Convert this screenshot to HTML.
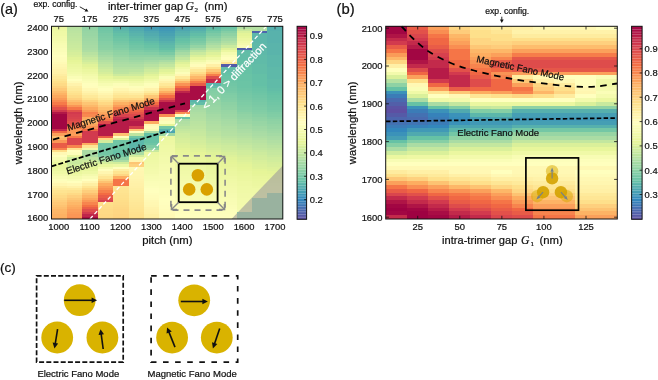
<!DOCTYPE html>
<html><head><meta charset="utf-8"><style>
html,body{margin:0;padding:0;background:#fff;width:658px;height:380px;overflow:hidden}
svg{display:block;filter:blur(0.4px)}
text{stroke:#111;stroke-width:0.22px}
text.w{stroke:#fff}
</style></head><body>
<svg width="658" height="380" viewBox="0 0 658 380" font-family="Liberation Sans, sans-serif">
<g shape-rendering="crispEdges">
<rect x="51.50" y="26.30" width="15.47" height="2.43" fill="#ecf7a1"/>
<rect x="66.92" y="26.30" width="15.47" height="2.43" fill="#b8e2a1"/>
<rect x="82.34" y="26.30" width="15.47" height="2.43" fill="#91d3a4"/>
<rect x="97.76" y="26.30" width="15.47" height="2.43" fill="#6ec5a5"/>
<rect x="113.18" y="26.30" width="15.47" height="2.43" fill="#58b2ac"/>
<rect x="128.60" y="26.30" width="15.47" height="2.43" fill="#4ea7b0"/>
<rect x="144.02" y="26.30" width="15.47" height="2.43" fill="#439bb5"/>
<rect x="159.44" y="26.30" width="15.47" height="2.43" fill="#3d95b8"/>
<rect x="174.86" y="26.30" width="15.47" height="2.43" fill="#49a2b2"/>
<rect x="190.28" y="26.30" width="15.47" height="2.43" fill="#50a9af"/>
<rect x="205.70" y="26.30" width="15.47" height="2.43" fill="#60bba8"/>
<rect x="221.12" y="26.30" width="15.47" height="2.43" fill="#6bc4a5"/>
<rect x="236.54" y="26.30" width="15.47" height="2.43" fill="#b3e0a2"/>
<rect x="251.96" y="26.30" width="15.47" height="2.43" fill="#b5e1a2"/>
<rect x="267.38" y="26.30" width="15.47" height="2.43" fill="#56b0ad"/>
<rect x="51.50" y="28.68" width="15.47" height="2.43" fill="#edf8a3"/>
<rect x="66.92" y="28.68" width="15.47" height="2.43" fill="#bae3a1"/>
<rect x="82.34" y="28.68" width="15.47" height="2.43" fill="#94d4a4"/>
<rect x="97.76" y="28.68" width="15.47" height="2.43" fill="#71c6a5"/>
<rect x="113.18" y="28.68" width="15.47" height="2.43" fill="#5cb7aa"/>
<rect x="128.60" y="28.68" width="15.47" height="2.43" fill="#52abae"/>
<rect x="144.02" y="28.68" width="15.47" height="2.43" fill="#47a0b3"/>
<rect x="159.44" y="28.68" width="15.47" height="2.43" fill="#4199b6"/>
<rect x="174.86" y="28.68" width="15.47" height="2.43" fill="#4ea7b0"/>
<rect x="190.28" y="28.68" width="15.47" height="2.43" fill="#56b0ad"/>
<rect x="205.70" y="28.68" width="15.47" height="2.43" fill="#66c2a5"/>
<rect x="221.12" y="28.68" width="15.47" height="2.43" fill="#76c8a5"/>
<rect x="236.54" y="28.68" width="15.47" height="2.43" fill="#c8e99e"/>
<rect x="251.96" y="28.68" width="15.47" height="2.43" fill="#b5e1a2"/>
<rect x="267.38" y="28.68" width="15.47" height="2.43" fill="#56b0ad"/>
<rect x="51.50" y="31.06" width="15.47" height="2.43" fill="#eff9a6"/>
<rect x="66.92" y="31.06" width="15.47" height="2.43" fill="#bce4a0"/>
<rect x="82.34" y="31.06" width="15.47" height="2.43" fill="#97d5a4"/>
<rect x="97.76" y="31.06" width="15.47" height="2.43" fill="#74c7a5"/>
<rect x="113.18" y="31.06" width="15.47" height="2.43" fill="#60bba8"/>
<rect x="128.60" y="31.06" width="15.47" height="2.43" fill="#56b0ad"/>
<rect x="144.02" y="31.06" width="15.47" height="2.43" fill="#4ea7b0"/>
<rect x="159.44" y="31.06" width="15.47" height="2.43" fill="#459eb4"/>
<rect x="174.86" y="31.06" width="15.47" height="2.43" fill="#54aead"/>
<rect x="190.28" y="31.06" width="15.47" height="2.43" fill="#5cb7aa"/>
<rect x="205.70" y="31.06" width="15.47" height="2.43" fill="#71c6a5"/>
<rect x="221.12" y="31.06" width="15.47" height="2.43" fill="#84cea5"/>
<rect x="236.54" y="31.06" width="15.47" height="2.43" fill="#daf09a"/>
<rect x="251.96" y="31.06" width="15.47" height="2.43" fill="#4d65ad"/>
<rect x="267.38" y="31.06" width="15.47" height="2.43" fill="#58b2ac"/>
<rect x="51.50" y="33.44" width="15.47" height="2.43" fill="#f0f9a7"/>
<rect x="66.92" y="33.44" width="15.47" height="2.43" fill="#bfe5a0"/>
<rect x="82.34" y="33.44" width="15.47" height="2.43" fill="#99d6a4"/>
<rect x="97.76" y="33.44" width="15.47" height="2.43" fill="#79c9a5"/>
<rect x="113.18" y="33.44" width="15.47" height="2.43" fill="#64c0a6"/>
<rect x="128.60" y="33.44" width="15.47" height="2.43" fill="#5ab4ab"/>
<rect x="144.02" y="33.44" width="15.47" height="2.43" fill="#52abae"/>
<rect x="159.44" y="33.44" width="15.47" height="2.43" fill="#49a2b2"/>
<rect x="174.86" y="33.44" width="15.47" height="2.43" fill="#58b2ac"/>
<rect x="190.28" y="33.44" width="15.47" height="2.43" fill="#62bda7"/>
<rect x="205.70" y="33.44" width="15.47" height="2.43" fill="#7ccaa5"/>
<rect x="221.12" y="33.44" width="15.47" height="2.43" fill="#8fd2a4"/>
<rect x="236.54" y="33.44" width="15.47" height="2.43" fill="#e4f498"/>
<rect x="251.96" y="33.44" width="15.47" height="2.43" fill="#5cb7aa"/>
<rect x="267.38" y="33.44" width="15.47" height="2.43" fill="#58b2ac"/>
<rect x="51.50" y="35.82" width="15.47" height="2.43" fill="#f2faaa"/>
<rect x="66.92" y="35.82" width="15.47" height="2.43" fill="#c1e6a0"/>
<rect x="82.34" y="35.82" width="15.47" height="2.43" fill="#9cd7a4"/>
<rect x="97.76" y="35.82" width="15.47" height="2.43" fill="#7ccaa5"/>
<rect x="113.18" y="35.82" width="15.47" height="2.43" fill="#69c3a5"/>
<rect x="128.60" y="35.82" width="15.47" height="2.43" fill="#5eb9a9"/>
<rect x="144.02" y="35.82" width="15.47" height="2.43" fill="#56b0ad"/>
<rect x="159.44" y="35.82" width="15.47" height="2.43" fill="#4ea7b0"/>
<rect x="174.86" y="35.82" width="15.47" height="2.43" fill="#5eb9a9"/>
<rect x="190.28" y="35.82" width="15.47" height="2.43" fill="#69c3a5"/>
<rect x="205.70" y="35.82" width="15.47" height="2.43" fill="#86cfa5"/>
<rect x="221.12" y="35.82" width="15.47" height="2.43" fill="#99d6a4"/>
<rect x="236.54" y="35.82" width="15.47" height="2.43" fill="#e8f69b"/>
<rect x="251.96" y="35.82" width="15.47" height="2.43" fill="#5cb7aa"/>
<rect x="267.38" y="35.82" width="15.47" height="2.43" fill="#58b2ac"/>
<rect x="51.50" y="38.20" width="15.47" height="2.43" fill="#f3faac"/>
<rect x="66.92" y="38.20" width="15.47" height="2.43" fill="#c3e79f"/>
<rect x="82.34" y="38.20" width="15.47" height="2.43" fill="#9fd8a4"/>
<rect x="97.76" y="38.20" width="15.47" height="2.43" fill="#7ecca5"/>
<rect x="113.18" y="38.20" width="15.47" height="2.43" fill="#6ec5a5"/>
<rect x="128.60" y="38.20" width="15.47" height="2.43" fill="#62bda7"/>
<rect x="144.02" y="38.20" width="15.47" height="2.43" fill="#5ab4ab"/>
<rect x="159.44" y="38.20" width="15.47" height="2.43" fill="#52abae"/>
<rect x="174.86" y="38.20" width="15.47" height="2.43" fill="#64c0a6"/>
<rect x="190.28" y="38.20" width="15.47" height="2.43" fill="#74c7a5"/>
<rect x="205.70" y="38.20" width="15.47" height="2.43" fill="#91d3a4"/>
<rect x="221.12" y="38.20" width="15.47" height="2.43" fill="#a4daa4"/>
<rect x="236.54" y="38.20" width="15.47" height="2.43" fill="#ecf7a1"/>
<rect x="251.96" y="38.20" width="15.47" height="2.43" fill="#5cb7aa"/>
<rect x="267.38" y="38.20" width="15.47" height="2.43" fill="#58b2ac"/>
<rect x="51.50" y="40.57" width="15.47" height="2.43" fill="#f5fbaf"/>
<rect x="66.92" y="40.57" width="15.47" height="2.43" fill="#c6e89f"/>
<rect x="82.34" y="40.57" width="15.47" height="2.43" fill="#a2d9a4"/>
<rect x="97.76" y="40.57" width="15.47" height="2.43" fill="#84cea5"/>
<rect x="113.18" y="40.57" width="15.47" height="2.43" fill="#74c7a5"/>
<rect x="128.60" y="40.57" width="15.47" height="2.43" fill="#66c2a5"/>
<rect x="144.02" y="40.57" width="15.47" height="2.43" fill="#60bba8"/>
<rect x="159.44" y="40.57" width="15.47" height="2.43" fill="#58b2ac"/>
<rect x="174.86" y="40.57" width="15.47" height="2.43" fill="#69c3a5"/>
<rect x="190.28" y="40.57" width="15.47" height="2.43" fill="#7ccaa5"/>
<rect x="205.70" y="40.57" width="15.47" height="2.43" fill="#9cd7a4"/>
<rect x="221.12" y="40.57" width="15.47" height="2.43" fill="#aedea3"/>
<rect x="236.54" y="40.57" width="15.47" height="2.43" fill="#f0f9a7"/>
<rect x="251.96" y="40.57" width="15.47" height="2.43" fill="#5cb7aa"/>
<rect x="267.38" y="40.57" width="15.47" height="2.43" fill="#58b2ac"/>
<rect x="51.50" y="42.95" width="15.47" height="2.43" fill="#f7fcb2"/>
<rect x="66.92" y="42.95" width="15.47" height="2.43" fill="#c8e99e"/>
<rect x="82.34" y="42.95" width="15.47" height="2.43" fill="#a4daa4"/>
<rect x="97.76" y="42.95" width="15.47" height="2.43" fill="#86cfa5"/>
<rect x="113.18" y="42.95" width="15.47" height="2.43" fill="#79c9a5"/>
<rect x="128.60" y="42.95" width="15.47" height="2.43" fill="#6bc4a5"/>
<rect x="144.02" y="42.95" width="15.47" height="2.43" fill="#64c0a6"/>
<rect x="159.44" y="42.95" width="15.47" height="2.43" fill="#5cb7aa"/>
<rect x="174.86" y="42.95" width="15.47" height="2.43" fill="#71c6a5"/>
<rect x="190.28" y="42.95" width="15.47" height="2.43" fill="#84cea5"/>
<rect x="205.70" y="42.95" width="15.47" height="2.43" fill="#a7dba4"/>
<rect x="221.12" y="42.95" width="15.47" height="2.43" fill="#b8e2a1"/>
<rect x="236.54" y="42.95" width="15.47" height="2.43" fill="#f4faad"/>
<rect x="251.96" y="42.95" width="15.47" height="2.43" fill="#5eb9a9"/>
<rect x="267.38" y="42.95" width="15.47" height="2.43" fill="#5ab4ab"/>
<rect x="51.50" y="45.33" width="15.47" height="2.43" fill="#f8fcb4"/>
<rect x="66.92" y="45.33" width="15.47" height="2.43" fill="#caea9e"/>
<rect x="82.34" y="45.33" width="15.47" height="2.43" fill="#a7dba4"/>
<rect x="97.76" y="45.33" width="15.47" height="2.43" fill="#89d0a4"/>
<rect x="113.18" y="45.33" width="15.47" height="2.43" fill="#7ecca5"/>
<rect x="128.60" y="45.33" width="15.47" height="2.43" fill="#71c6a5"/>
<rect x="144.02" y="45.33" width="15.47" height="2.43" fill="#69c3a5"/>
<rect x="159.44" y="45.33" width="15.47" height="2.43" fill="#60bba8"/>
<rect x="174.86" y="45.33" width="15.47" height="2.43" fill="#7ccaa5"/>
<rect x="190.28" y="45.33" width="15.47" height="2.43" fill="#94d4a4"/>
<rect x="205.70" y="45.33" width="15.47" height="2.43" fill="#b3e0a2"/>
<rect x="221.12" y="45.33" width="15.47" height="2.43" fill="#caea9e"/>
<rect x="236.54" y="45.33" width="15.47" height="2.43" fill="#f8fcb4"/>
<rect x="251.96" y="45.33" width="15.47" height="2.43" fill="#5eb9a9"/>
<rect x="267.38" y="45.33" width="15.47" height="2.43" fill="#5ab4ab"/>
<rect x="51.50" y="47.71" width="15.47" height="2.43" fill="#fafdb7"/>
<rect x="66.92" y="47.71" width="15.47" height="2.43" fill="#cdeb9d"/>
<rect x="82.34" y="47.71" width="15.47" height="2.43" fill="#aadca4"/>
<rect x="97.76" y="47.71" width="15.47" height="2.43" fill="#8cd1a4"/>
<rect x="113.18" y="47.71" width="15.47" height="2.43" fill="#84cea5"/>
<rect x="128.60" y="47.71" width="15.47" height="2.43" fill="#76c8a5"/>
<rect x="144.02" y="47.71" width="15.47" height="2.43" fill="#71c6a5"/>
<rect x="159.44" y="47.71" width="15.47" height="2.43" fill="#64c0a6"/>
<rect x="174.86" y="47.71" width="15.47" height="2.43" fill="#89d0a4"/>
<rect x="190.28" y="47.71" width="15.47" height="2.43" fill="#a7dba4"/>
<rect x="205.70" y="47.71" width="15.47" height="2.43" fill="#c1e6a0"/>
<rect x="221.12" y="47.71" width="15.47" height="2.43" fill="#dff299"/>
<rect x="236.54" y="47.71" width="15.47" height="2.43" fill="#525fa9"/>
<rect x="251.96" y="47.71" width="15.47" height="2.43" fill="#5eb9a9"/>
<rect x="267.38" y="47.71" width="15.47" height="2.43" fill="#5ab4ab"/>
<rect x="51.50" y="50.09" width="15.47" height="2.43" fill="#fbfdb8"/>
<rect x="66.92" y="50.09" width="15.47" height="2.43" fill="#d1ed9c"/>
<rect x="82.34" y="50.09" width="15.47" height="2.43" fill="#aedea3"/>
<rect x="97.76" y="50.09" width="15.47" height="2.43" fill="#94d4a4"/>
<rect x="113.18" y="50.09" width="15.47" height="2.43" fill="#8cd1a4"/>
<rect x="128.60" y="50.09" width="15.47" height="2.43" fill="#7ecca5"/>
<rect x="144.02" y="50.09" width="15.47" height="2.43" fill="#79c9a5"/>
<rect x="159.44" y="50.09" width="15.47" height="2.43" fill="#6ec5a5"/>
<rect x="174.86" y="50.09" width="15.47" height="2.43" fill="#99d6a4"/>
<rect x="190.28" y="50.09" width="15.47" height="2.43" fill="#bae3a1"/>
<rect x="205.70" y="50.09" width="15.47" height="2.43" fill="#cfec9d"/>
<rect x="221.12" y="50.09" width="15.47" height="2.43" fill="#ecf7a1"/>
<rect x="236.54" y="50.09" width="15.47" height="2.43" fill="#60bba8"/>
<rect x="251.96" y="50.09" width="15.47" height="2.43" fill="#5eb9a9"/>
<rect x="267.38" y="50.09" width="15.47" height="2.43" fill="#5ab4ab"/>
<rect x="51.50" y="52.47" width="15.47" height="2.43" fill="#fdfebb"/>
<rect x="66.92" y="52.47" width="15.47" height="2.43" fill="#d6ee9b"/>
<rect x="82.34" y="52.47" width="15.47" height="2.43" fill="#b8e2a1"/>
<rect x="97.76" y="52.47" width="15.47" height="2.43" fill="#9cd7a4"/>
<rect x="113.18" y="52.47" width="15.47" height="2.43" fill="#91d3a4"/>
<rect x="128.60" y="52.47" width="15.47" height="2.43" fill="#86cfa5"/>
<rect x="144.02" y="52.47" width="15.47" height="2.43" fill="#84cea5"/>
<rect x="159.44" y="52.47" width="15.47" height="2.43" fill="#7ccaa5"/>
<rect x="174.86" y="52.47" width="15.47" height="2.43" fill="#a7dba4"/>
<rect x="190.28" y="52.47" width="15.47" height="2.43" fill="#caea9e"/>
<rect x="205.70" y="52.47" width="15.47" height="2.43" fill="#ddf19a"/>
<rect x="221.12" y="52.47" width="15.47" height="2.43" fill="#f5fbaf"/>
<rect x="236.54" y="52.47" width="15.47" height="2.43" fill="#62bda7"/>
<rect x="251.96" y="52.47" width="15.47" height="2.43" fill="#5eb9a9"/>
<rect x="267.38" y="52.47" width="15.47" height="2.43" fill="#5ab4ab"/>
<rect x="51.50" y="54.85" width="15.47" height="2.43" fill="#ffffbe"/>
<rect x="66.92" y="54.85" width="15.47" height="2.43" fill="#daf09a"/>
<rect x="82.34" y="54.85" width="15.47" height="2.43" fill="#bfe5a0"/>
<rect x="97.76" y="54.85" width="15.47" height="2.43" fill="#a4daa4"/>
<rect x="113.18" y="54.85" width="15.47" height="2.43" fill="#97d5a4"/>
<rect x="128.60" y="54.85" width="15.47" height="2.43" fill="#8fd2a4"/>
<rect x="144.02" y="54.85" width="15.47" height="2.43" fill="#8fd2a4"/>
<rect x="159.44" y="54.85" width="15.47" height="2.43" fill="#8cd1a4"/>
<rect x="174.86" y="54.85" width="15.47" height="2.43" fill="#b5e1a2"/>
<rect x="190.28" y="54.85" width="15.47" height="2.43" fill="#daf09a"/>
<rect x="205.70" y="54.85" width="15.47" height="2.43" fill="#e7f59a"/>
<rect x="221.12" y="54.85" width="15.47" height="2.43" fill="#fbfdb8"/>
<rect x="236.54" y="54.85" width="15.47" height="2.43" fill="#62bda7"/>
<rect x="251.96" y="54.85" width="15.47" height="2.43" fill="#60bba8"/>
<rect x="267.38" y="54.85" width="15.47" height="2.43" fill="#5cb7aa"/>
<rect x="51.50" y="57.23" width="15.47" height="2.43" fill="#fffdbc"/>
<rect x="66.92" y="57.23" width="15.47" height="2.43" fill="#e1f399"/>
<rect x="82.34" y="57.23" width="15.47" height="2.43" fill="#c8e99e"/>
<rect x="97.76" y="57.23" width="15.47" height="2.43" fill="#acdda4"/>
<rect x="113.18" y="57.23" width="15.47" height="2.43" fill="#9fd8a4"/>
<rect x="128.60" y="57.23" width="15.47" height="2.43" fill="#97d5a4"/>
<rect x="144.02" y="57.23" width="15.47" height="2.43" fill="#99d6a4"/>
<rect x="159.44" y="57.23" width="15.47" height="2.43" fill="#99d6a4"/>
<rect x="174.86" y="57.23" width="15.47" height="2.43" fill="#c3e79f"/>
<rect x="190.28" y="57.23" width="15.47" height="2.43" fill="#e9f69d"/>
<rect x="205.70" y="57.23" width="15.47" height="2.43" fill="#eff9a6"/>
<rect x="221.12" y="57.23" width="15.47" height="2.43" fill="#fffebe"/>
<rect x="236.54" y="57.23" width="15.47" height="2.43" fill="#62bda7"/>
<rect x="251.96" y="57.23" width="15.47" height="2.43" fill="#60bba8"/>
<rect x="267.38" y="57.23" width="15.47" height="2.43" fill="#5cb7aa"/>
<rect x="51.50" y="59.61" width="15.47" height="2.43" fill="#fffcba"/>
<rect x="66.92" y="59.61" width="15.47" height="2.43" fill="#e6f598"/>
<rect x="82.34" y="59.61" width="15.47" height="2.43" fill="#cfec9d"/>
<rect x="97.76" y="59.61" width="15.47" height="2.43" fill="#b3e0a2"/>
<rect x="113.18" y="59.61" width="15.47" height="2.43" fill="#a4daa4"/>
<rect x="128.60" y="59.61" width="15.47" height="2.43" fill="#9fd8a4"/>
<rect x="144.02" y="59.61" width="15.47" height="2.43" fill="#a4daa4"/>
<rect x="159.44" y="59.61" width="15.47" height="2.43" fill="#aadca4"/>
<rect x="174.86" y="59.61" width="15.47" height="2.43" fill="#d1ed9c"/>
<rect x="190.28" y="59.61" width="15.47" height="2.43" fill="#f1f9a9"/>
<rect x="205.70" y="59.61" width="15.47" height="2.43" fill="#f9fcb5"/>
<rect x="221.12" y="59.61" width="15.47" height="2.43" fill="#fff5ae"/>
<rect x="236.54" y="59.61" width="15.47" height="2.43" fill="#64c0a6"/>
<rect x="251.96" y="59.61" width="15.47" height="2.43" fill="#60bba8"/>
<rect x="267.38" y="59.61" width="15.47" height="2.43" fill="#5cb7aa"/>
<rect x="51.50" y="61.99" width="15.47" height="2.43" fill="#fffab6"/>
<rect x="66.92" y="61.99" width="15.47" height="2.43" fill="#e8f69b"/>
<rect x="82.34" y="61.99" width="15.47" height="2.43" fill="#d8ef9b"/>
<rect x="97.76" y="61.99" width="15.47" height="2.43" fill="#bae3a1"/>
<rect x="113.18" y="61.99" width="15.47" height="2.43" fill="#aadca4"/>
<rect x="128.60" y="61.99" width="15.47" height="2.43" fill="#a7dba4"/>
<rect x="144.02" y="61.99" width="15.47" height="2.43" fill="#aedea3"/>
<rect x="159.44" y="61.99" width="15.47" height="2.43" fill="#b8e2a1"/>
<rect x="174.86" y="61.99" width="15.47" height="2.43" fill="#dff299"/>
<rect x="190.28" y="61.99" width="15.47" height="2.43" fill="#f9fcb5"/>
<rect x="205.70" y="61.99" width="15.47" height="2.43" fill="#fffcba"/>
<rect x="221.12" y="61.99" width="15.47" height="2.43" fill="#fee491"/>
<rect x="236.54" y="61.99" width="15.47" height="2.43" fill="#64c0a6"/>
<rect x="251.96" y="61.99" width="15.47" height="2.43" fill="#60bba8"/>
<rect x="267.38" y="61.99" width="15.47" height="2.43" fill="#5cb7aa"/>
<rect x="51.50" y="64.36" width="15.47" height="2.43" fill="#fff7b2"/>
<rect x="66.92" y="64.36" width="15.47" height="2.43" fill="#ebf7a0"/>
<rect x="82.34" y="64.36" width="15.47" height="2.43" fill="#e1f399"/>
<rect x="97.76" y="64.36" width="15.47" height="2.43" fill="#c1e6a0"/>
<rect x="113.18" y="64.36" width="15.47" height="2.43" fill="#aedea3"/>
<rect x="128.60" y="64.36" width="15.47" height="2.43" fill="#aedea3"/>
<rect x="144.02" y="64.36" width="15.47" height="2.43" fill="#b8e2a1"/>
<rect x="159.44" y="64.36" width="15.47" height="2.43" fill="#c3e79f"/>
<rect x="174.86" y="64.36" width="15.47" height="2.43" fill="#e9f69d"/>
<rect x="190.28" y="64.36" width="15.47" height="2.43" fill="#fffcba"/>
<rect x="205.70" y="64.36" width="15.47" height="2.43" fill="#fff0a6"/>
<rect x="221.12" y="64.36" width="15.47" height="2.43" fill="#555aa7"/>
<rect x="236.54" y="64.36" width="15.47" height="2.43" fill="#64c0a6"/>
<rect x="251.96" y="64.36" width="15.47" height="2.43" fill="#62bda7"/>
<rect x="267.38" y="64.36" width="15.47" height="2.43" fill="#5cb7aa"/>
<rect x="51.50" y="66.74" width="15.47" height="2.43" fill="#fff5ae"/>
<rect x="66.92" y="66.74" width="15.47" height="2.43" fill="#edf8a3"/>
<rect x="82.34" y="66.74" width="15.47" height="2.43" fill="#e7f59a"/>
<rect x="97.76" y="66.74" width="15.47" height="2.43" fill="#c8e99e"/>
<rect x="113.18" y="66.74" width="15.47" height="2.43" fill="#b5e1a2"/>
<rect x="128.60" y="66.74" width="15.47" height="2.43" fill="#b5e1a2"/>
<rect x="144.02" y="66.74" width="15.47" height="2.43" fill="#c3e79f"/>
<rect x="159.44" y="66.74" width="15.47" height="2.43" fill="#d1ed9c"/>
<rect x="174.86" y="66.74" width="15.47" height="2.43" fill="#f0f9a7"/>
<rect x="190.28" y="66.74" width="15.47" height="2.43" fill="#fff2aa"/>
<rect x="205.70" y="66.74" width="15.47" height="2.43" fill="#fee18d"/>
<rect x="221.12" y="66.74" width="15.47" height="2.43" fill="#62bda7"/>
<rect x="236.54" y="66.74" width="15.47" height="2.43" fill="#66c2a5"/>
<rect x="251.96" y="66.74" width="15.47" height="2.43" fill="#62bda7"/>
<rect x="267.38" y="66.74" width="15.47" height="2.43" fill="#5eb9a9"/>
<rect x="51.50" y="69.12" width="15.47" height="2.43" fill="#fff2aa"/>
<rect x="66.92" y="69.12" width="15.47" height="2.43" fill="#eff9a6"/>
<rect x="82.34" y="69.12" width="15.47" height="2.43" fill="#ebf7a0"/>
<rect x="97.76" y="69.12" width="15.47" height="2.43" fill="#cfec9d"/>
<rect x="113.18" y="69.12" width="15.47" height="2.43" fill="#bae3a1"/>
<rect x="128.60" y="69.12" width="15.47" height="2.43" fill="#bce4a0"/>
<rect x="144.02" y="69.12" width="15.47" height="2.43" fill="#cdeb9d"/>
<rect x="159.44" y="69.12" width="15.47" height="2.43" fill="#dff299"/>
<rect x="174.86" y="69.12" width="15.47" height="2.43" fill="#f6fbb0"/>
<rect x="190.28" y="69.12" width="15.47" height="2.43" fill="#fee999"/>
<rect x="205.70" y="69.12" width="15.47" height="2.43" fill="#fec877"/>
<rect x="221.12" y="69.12" width="15.47" height="2.43" fill="#62bda7"/>
<rect x="236.54" y="69.12" width="15.47" height="2.43" fill="#66c2a5"/>
<rect x="251.96" y="69.12" width="15.47" height="2.43" fill="#62bda7"/>
<rect x="267.38" y="69.12" width="15.47" height="2.43" fill="#5eb9a9"/>
<rect x="51.50" y="71.50" width="15.47" height="2.43" fill="#fff1a8"/>
<rect x="66.92" y="71.50" width="15.47" height="2.43" fill="#f2faaa"/>
<rect x="82.34" y="71.50" width="15.47" height="2.43" fill="#eef8a4"/>
<rect x="97.76" y="71.50" width="15.47" height="2.43" fill="#d6ee9b"/>
<rect x="113.18" y="71.50" width="15.47" height="2.43" fill="#bfe5a0"/>
<rect x="128.60" y="71.50" width="15.47" height="2.43" fill="#c6e89f"/>
<rect x="144.02" y="71.50" width="15.47" height="2.43" fill="#d6ee9b"/>
<rect x="159.44" y="71.50" width="15.47" height="2.43" fill="#e8f69b"/>
<rect x="174.86" y="71.50" width="15.47" height="2.43" fill="#fcfeba"/>
<rect x="190.28" y="71.50" width="15.47" height="2.43" fill="#fede89"/>
<rect x="205.70" y="71.50" width="15.47" height="2.43" fill="#fdad60"/>
<rect x="221.12" y="71.50" width="15.47" height="2.43" fill="#64c0a6"/>
<rect x="236.54" y="71.50" width="15.47" height="2.43" fill="#66c2a5"/>
<rect x="251.96" y="71.50" width="15.47" height="2.43" fill="#62bda7"/>
<rect x="267.38" y="71.50" width="15.47" height="2.43" fill="#5eb9a9"/>
<rect x="51.50" y="73.88" width="15.47" height="2.43" fill="#feeda1"/>
<rect x="66.92" y="73.88" width="15.47" height="2.43" fill="#f5fbaf"/>
<rect x="82.34" y="73.88" width="15.47" height="2.43" fill="#f2faaa"/>
<rect x="97.76" y="73.88" width="15.47" height="2.43" fill="#dff299"/>
<rect x="113.18" y="73.88" width="15.47" height="2.43" fill="#cdeb9d"/>
<rect x="128.60" y="73.88" width="15.47" height="2.43" fill="#cfec9d"/>
<rect x="144.02" y="73.88" width="15.47" height="2.43" fill="#e1f399"/>
<rect x="159.44" y="73.88" width="15.47" height="2.43" fill="#f0f9a7"/>
<rect x="174.86" y="73.88" width="15.47" height="2.43" fill="#fff7b2"/>
<rect x="190.28" y="73.88" width="15.47" height="2.43" fill="#fecc7b"/>
<rect x="205.70" y="73.88" width="15.47" height="2.43" fill="#f67f4b"/>
<rect x="221.12" y="73.88" width="15.47" height="2.43" fill="#66c2a5"/>
<rect x="236.54" y="73.88" width="15.47" height="2.43" fill="#69c3a5"/>
<rect x="251.96" y="73.88" width="15.47" height="2.43" fill="#64c0a6"/>
<rect x="267.38" y="73.88" width="15.47" height="2.43" fill="#5eb9a9"/>
<rect x="51.50" y="76.26" width="15.47" height="2.43" fill="#fee999"/>
<rect x="66.92" y="76.26" width="15.47" height="2.43" fill="#fafdb7"/>
<rect x="82.34" y="76.26" width="15.47" height="2.43" fill="#f5fbaf"/>
<rect x="97.76" y="76.26" width="15.47" height="2.43" fill="#e8f69b"/>
<rect x="113.18" y="76.26" width="15.47" height="2.43" fill="#dff299"/>
<rect x="128.60" y="76.26" width="15.47" height="2.43" fill="#dff299"/>
<rect x="144.02" y="76.26" width="15.47" height="2.43" fill="#eaf79e"/>
<rect x="159.44" y="76.26" width="15.47" height="2.43" fill="#fafdb7"/>
<rect x="174.86" y="76.26" width="15.47" height="2.43" fill="#fee999"/>
<rect x="190.28" y="76.26" width="15.47" height="2.43" fill="#fdb768"/>
<rect x="205.70" y="76.26" width="15.47" height="2.43" fill="#de4c4b"/>
<rect x="221.12" y="76.26" width="15.47" height="2.43" fill="#69c3a5"/>
<rect x="236.54" y="76.26" width="15.47" height="2.43" fill="#69c3a5"/>
<rect x="251.96" y="76.26" width="15.47" height="2.43" fill="#64c0a6"/>
<rect x="267.38" y="76.26" width="15.47" height="2.43" fill="#5eb9a9"/>
<rect x="51.50" y="78.64" width="15.47" height="2.43" fill="#fee593"/>
<rect x="66.92" y="78.64" width="15.47" height="2.43" fill="#ffffbe"/>
<rect x="82.34" y="78.64" width="15.47" height="2.43" fill="#f8fcb4"/>
<rect x="97.76" y="78.64" width="15.47" height="2.43" fill="#edf8a3"/>
<rect x="113.18" y="78.64" width="15.47" height="2.43" fill="#ebf7a0"/>
<rect x="128.60" y="78.64" width="15.47" height="2.43" fill="#e9f69d"/>
<rect x="144.02" y="78.64" width="15.47" height="2.43" fill="#f0f9a7"/>
<rect x="159.44" y="78.64" width="15.47" height="2.43" fill="#fff8b4"/>
<rect x="174.86" y="78.64" width="15.47" height="2.43" fill="#fed683"/>
<rect x="190.28" y="78.64" width="15.47" height="2.43" fill="#fba05b"/>
<rect x="205.70" y="78.64" width="15.47" height="2.43" fill="#c32a4b"/>
<rect x="221.12" y="78.64" width="15.47" height="2.43" fill="#6bc4a5"/>
<rect x="236.54" y="78.64" width="15.47" height="2.43" fill="#69c3a5"/>
<rect x="251.96" y="78.64" width="15.47" height="2.43" fill="#64c0a6"/>
<rect x="267.38" y="78.64" width="15.47" height="2.43" fill="#60bba8"/>
<rect x="51.50" y="81.02" width="15.47" height="2.43" fill="#fee08b"/>
<rect x="66.92" y="81.02" width="15.47" height="2.43" fill="#fffab6"/>
<rect x="82.34" y="81.02" width="15.47" height="2.43" fill="#fbfdb8"/>
<rect x="97.76" y="81.02" width="15.47" height="2.43" fill="#f2faaa"/>
<rect x="113.18" y="81.02" width="15.47" height="2.43" fill="#f3faac"/>
<rect x="128.60" y="81.02" width="15.47" height="2.43" fill="#f0f9a7"/>
<rect x="144.02" y="81.02" width="15.47" height="2.43" fill="#f6fbb0"/>
<rect x="159.44" y="81.02" width="15.47" height="2.43" fill="#fff1a8"/>
<rect x="174.86" y="81.02" width="15.47" height="2.43" fill="#fdb768"/>
<rect x="190.28" y="81.02" width="15.47" height="2.43" fill="#f67c4a"/>
<rect x="205.70" y="81.02" width="15.47" height="2.43" fill="#c32a4b"/>
<rect x="221.12" y="81.02" width="15.47" height="2.43" fill="#6ec5a5"/>
<rect x="236.54" y="81.02" width="15.47" height="2.43" fill="#6bc4a5"/>
<rect x="251.96" y="81.02" width="15.47" height="2.43" fill="#64c0a6"/>
<rect x="267.38" y="81.02" width="15.47" height="2.43" fill="#60bba8"/>
<rect x="51.50" y="83.40" width="15.47" height="2.43" fill="#feda86"/>
<rect x="66.92" y="83.40" width="15.47" height="2.43" fill="#fff3ac"/>
<rect x="82.34" y="83.40" width="15.47" height="2.43" fill="#fefebd"/>
<rect x="97.76" y="83.40" width="15.47" height="2.43" fill="#f7fcb2"/>
<rect x="113.18" y="83.40" width="15.47" height="2.43" fill="#fbfdb8"/>
<rect x="128.60" y="83.40" width="15.47" height="2.43" fill="#f6fbb0"/>
<rect x="144.02" y="83.40" width="15.47" height="2.43" fill="#fcfeba"/>
<rect x="159.44" y="83.40" width="15.47" height="2.43" fill="#fee999"/>
<rect x="174.86" y="83.40" width="15.47" height="2.43" fill="#f99355"/>
<rect x="190.28" y="83.40" width="15.47" height="2.43" fill="#e95c47"/>
<rect x="205.70" y="83.40" width="15.47" height="2.43" fill="#5ab4ab"/>
<rect x="221.12" y="83.40" width="15.47" height="2.43" fill="#71c6a5"/>
<rect x="236.54" y="83.40" width="15.47" height="2.43" fill="#6bc4a5"/>
<rect x="251.96" y="83.40" width="15.47" height="2.43" fill="#64c0a6"/>
<rect x="267.38" y="83.40" width="15.47" height="2.43" fill="#60bba8"/>
<rect x="51.50" y="85.78" width="15.47" height="2.43" fill="#fed27f"/>
<rect x="66.92" y="85.78" width="15.47" height="2.43" fill="#feeda1"/>
<rect x="82.34" y="85.78" width="15.47" height="2.43" fill="#fffdbc"/>
<rect x="97.76" y="85.78" width="15.47" height="2.43" fill="#fcfeba"/>
<rect x="113.18" y="85.78" width="15.47" height="2.43" fill="#fffcba"/>
<rect x="128.60" y="85.78" width="15.47" height="2.43" fill="#fdfebb"/>
<rect x="144.02" y="85.78" width="15.47" height="2.43" fill="#fffcba"/>
<rect x="159.44" y="85.78" width="15.47" height="2.43" fill="#fee08b"/>
<rect x="174.86" y="85.78" width="15.47" height="2.43" fill="#f46d43"/>
<rect x="190.28" y="85.78" width="15.47" height="2.43" fill="#a90d45"/>
<rect x="205.70" y="85.78" width="15.47" height="2.43" fill="#62bda7"/>
<rect x="221.12" y="85.78" width="15.47" height="2.43" fill="#74c7a5"/>
<rect x="236.54" y="85.78" width="15.47" height="2.43" fill="#6bc4a5"/>
<rect x="251.96" y="85.78" width="15.47" height="2.43" fill="#66c2a5"/>
<rect x="267.38" y="85.78" width="15.47" height="2.43" fill="#60bba8"/>
<rect x="51.50" y="88.15" width="15.47" height="2.43" fill="#fec877"/>
<rect x="66.92" y="88.15" width="15.47" height="2.43" fill="#feea9b"/>
<rect x="82.34" y="88.15" width="15.47" height="2.43" fill="#fff8b4"/>
<rect x="97.76" y="88.15" width="15.47" height="2.43" fill="#fffebe"/>
<rect x="113.18" y="88.15" width="15.47" height="2.43" fill="#fff6b0"/>
<rect x="128.60" y="88.15" width="15.47" height="2.43" fill="#fffbb8"/>
<rect x="144.02" y="88.15" width="15.47" height="2.43" fill="#fff3ac"/>
<rect x="159.44" y="88.15" width="15.47" height="2.43" fill="#fec877"/>
<rect x="174.86" y="88.15" width="15.47" height="2.43" fill="#e2514a"/>
<rect x="190.28" y="88.15" width="15.47" height="2.43" fill="#a90d45"/>
<rect x="205.70" y="88.15" width="15.47" height="2.43" fill="#81cda5"/>
<rect x="221.12" y="88.15" width="15.47" height="2.43" fill="#76c8a5"/>
<rect x="236.54" y="88.15" width="15.47" height="2.43" fill="#6ec5a5"/>
<rect x="251.96" y="88.15" width="15.47" height="2.43" fill="#69c3a5"/>
<rect x="267.38" y="88.15" width="15.47" height="2.43" fill="#62bda7"/>
<rect x="51.50" y="90.53" width="15.47" height="2.43" fill="#fdbd6d"/>
<rect x="66.92" y="90.53" width="15.47" height="2.43" fill="#fee593"/>
<rect x="82.34" y="90.53" width="15.47" height="2.43" fill="#fff3ac"/>
<rect x="97.76" y="90.53" width="15.47" height="2.43" fill="#fffab6"/>
<rect x="113.18" y="90.53" width="15.47" height="2.43" fill="#fff0a6"/>
<rect x="128.60" y="90.53" width="15.47" height="2.43" fill="#fff3ac"/>
<rect x="144.02" y="90.53" width="15.47" height="2.43" fill="#feeb9d"/>
<rect x="159.44" y="90.53" width="15.47" height="2.43" fill="#fdaf62"/>
<rect x="174.86" y="90.53" width="15.47" height="2.43" fill="#be254a"/>
<rect x="190.28" y="90.53" width="15.47" height="2.43" fill="#a90d45"/>
<rect x="205.70" y="90.53" width="15.47" height="2.43" fill="#84cea5"/>
<rect x="221.12" y="90.53" width="15.47" height="2.43" fill="#79c9a5"/>
<rect x="236.54" y="90.53" width="15.47" height="2.43" fill="#71c6a5"/>
<rect x="251.96" y="90.53" width="15.47" height="2.43" fill="#6bc4a5"/>
<rect x="267.38" y="90.53" width="15.47" height="2.43" fill="#64c0a6"/>
<rect x="51.50" y="92.91" width="15.47" height="2.43" fill="#fdb365"/>
<rect x="66.92" y="92.91" width="15.47" height="2.43" fill="#fee18d"/>
<rect x="82.34" y="92.91" width="15.47" height="2.43" fill="#feefa3"/>
<rect x="97.76" y="92.91" width="15.47" height="2.43" fill="#fff5ae"/>
<rect x="113.18" y="92.91" width="15.47" height="2.43" fill="#feea9b"/>
<rect x="128.60" y="92.91" width="15.47" height="2.43" fill="#feec9f"/>
<rect x="144.02" y="92.91" width="15.47" height="2.43" fill="#fede89"/>
<rect x="159.44" y="92.91" width="15.47" height="2.43" fill="#f99153"/>
<rect x="174.86" y="92.91" width="15.47" height="2.43" fill="#a90d45"/>
<rect x="190.28" y="92.91" width="15.47" height="2.43" fill="#a90d45"/>
<rect x="205.70" y="92.91" width="15.47" height="2.43" fill="#86cfa5"/>
<rect x="221.12" y="92.91" width="15.47" height="2.43" fill="#7ecca5"/>
<rect x="236.54" y="92.91" width="15.47" height="2.43" fill="#74c7a5"/>
<rect x="251.96" y="92.91" width="15.47" height="2.43" fill="#6ec5a5"/>
<rect x="267.38" y="92.91" width="15.47" height="2.43" fill="#66c2a5"/>
<rect x="51.50" y="95.29" width="15.47" height="2.43" fill="#fca85e"/>
<rect x="66.92" y="95.29" width="15.47" height="2.43" fill="#feda86"/>
<rect x="82.34" y="95.29" width="15.47" height="2.43" fill="#fee999"/>
<rect x="97.76" y="95.29" width="15.47" height="2.43" fill="#fff0a6"/>
<rect x="113.18" y="95.29" width="15.47" height="2.43" fill="#fee491"/>
<rect x="128.60" y="95.29" width="15.47" height="2.43" fill="#fee593"/>
<rect x="144.02" y="95.29" width="15.47" height="2.43" fill="#fdc776"/>
<rect x="159.44" y="95.29" width="15.47" height="2.43" fill="#f46d43"/>
<rect x="174.86" y="95.29" width="15.47" height="2.43" fill="#a90d45"/>
<rect x="190.28" y="95.29" width="15.47" height="2.43" fill="#a90d45"/>
<rect x="205.70" y="95.29" width="15.47" height="2.43" fill="#89d0a4"/>
<rect x="221.12" y="95.29" width="15.47" height="2.43" fill="#81cda5"/>
<rect x="236.54" y="95.29" width="15.47" height="2.43" fill="#76c8a5"/>
<rect x="251.96" y="95.29" width="15.47" height="2.43" fill="#71c6a5"/>
<rect x="267.38" y="95.29" width="15.47" height="2.43" fill="#69c3a5"/>
<rect x="51.50" y="97.67" width="15.47" height="2.43" fill="#fa9b58"/>
<rect x="66.92" y="97.67" width="15.47" height="2.43" fill="#fed07e"/>
<rect x="82.34" y="97.67" width="15.47" height="2.43" fill="#fee28f"/>
<rect x="97.76" y="97.67" width="15.47" height="2.43" fill="#feea9b"/>
<rect x="113.18" y="97.67" width="15.47" height="2.43" fill="#fed884"/>
<rect x="128.60" y="97.67" width="15.47" height="2.43" fill="#fed683"/>
<rect x="144.02" y="97.67" width="15.47" height="2.43" fill="#fdaf62"/>
<rect x="159.44" y="97.67" width="15.47" height="2.43" fill="#e2514a"/>
<rect x="174.86" y="97.67" width="15.47" height="2.43" fill="#a90d45"/>
<rect x="190.28" y="97.67" width="15.47" height="2.43" fill="#a90d45"/>
<rect x="205.70" y="97.67" width="15.47" height="2.43" fill="#8cd1a4"/>
<rect x="221.12" y="97.67" width="15.47" height="2.43" fill="#84cea5"/>
<rect x="236.54" y="97.67" width="15.47" height="2.43" fill="#79c9a5"/>
<rect x="251.96" y="97.67" width="15.47" height="2.43" fill="#74c7a5"/>
<rect x="267.38" y="97.67" width="15.47" height="2.43" fill="#6bc4a5"/>
<rect x="51.50" y="100.05" width="15.47" height="2.43" fill="#f88c51"/>
<rect x="66.92" y="100.05" width="15.47" height="2.43" fill="#fdc171"/>
<rect x="82.34" y="100.05" width="15.47" height="2.43" fill="#fed481"/>
<rect x="97.76" y="100.05" width="15.47" height="2.43" fill="#fee28f"/>
<rect x="113.18" y="100.05" width="15.47" height="2.43" fill="#fdc574"/>
<rect x="128.60" y="100.05" width="15.47" height="2.43" fill="#fdbf6f"/>
<rect x="144.02" y="100.05" width="15.47" height="2.43" fill="#f99153"/>
<rect x="159.44" y="100.05" width="15.47" height="2.43" fill="#c9314c"/>
<rect x="174.86" y="100.05" width="15.47" height="2.43" fill="#a90d45"/>
<rect x="190.28" y="100.05" width="15.47" height="2.43" fill="#5ab4ab"/>
<rect x="205.70" y="100.05" width="15.47" height="2.43" fill="#91d3a4"/>
<rect x="221.12" y="100.05" width="15.47" height="2.43" fill="#86cfa5"/>
<rect x="236.54" y="100.05" width="15.47" height="2.43" fill="#7ccaa5"/>
<rect x="251.96" y="100.05" width="15.47" height="2.43" fill="#76c8a5"/>
<rect x="267.38" y="100.05" width="15.47" height="2.43" fill="#6ec5a5"/>
<rect x="51.50" y="102.43" width="15.47" height="2.43" fill="#f67a49"/>
<rect x="66.92" y="102.43" width="15.47" height="2.43" fill="#fdb163"/>
<rect x="82.34" y="102.43" width="15.47" height="2.43" fill="#fdc574"/>
<rect x="97.76" y="102.43" width="15.47" height="2.43" fill="#fed884"/>
<rect x="113.18" y="102.43" width="15.47" height="2.43" fill="#fdb163"/>
<rect x="128.60" y="102.43" width="15.47" height="2.43" fill="#fba35c"/>
<rect x="144.02" y="102.43" width="15.47" height="2.43" fill="#f46d43"/>
<rect x="159.44" y="102.43" width="15.47" height="2.43" fill="#a90d45"/>
<rect x="174.86" y="102.43" width="15.47" height="2.43" fill="#a90d45"/>
<rect x="190.28" y="102.43" width="15.47" height="2.43" fill="#62bda7"/>
<rect x="205.70" y="102.43" width="15.47" height="2.43" fill="#94d4a4"/>
<rect x="221.12" y="102.43" width="15.47" height="2.43" fill="#8cd1a4"/>
<rect x="236.54" y="102.43" width="15.47" height="2.43" fill="#7ecca5"/>
<rect x="251.96" y="102.43" width="15.47" height="2.43" fill="#79c9a5"/>
<rect x="267.38" y="102.43" width="15.47" height="2.43" fill="#71c6a5"/>
<rect x="51.50" y="104.81" width="15.47" height="2.43" fill="#ee6445"/>
<rect x="66.92" y="104.81" width="15.47" height="2.43" fill="#fa9656"/>
<rect x="82.34" y="104.81" width="15.47" height="2.43" fill="#fdb96a"/>
<rect x="97.76" y="104.81" width="15.47" height="2.43" fill="#fecc7b"/>
<rect x="113.18" y="104.81" width="15.47" height="2.43" fill="#fb9d59"/>
<rect x="128.60" y="104.81" width="15.47" height="2.43" fill="#f98e52"/>
<rect x="144.02" y="104.81" width="15.47" height="2.43" fill="#e2514a"/>
<rect x="159.44" y="104.81" width="15.47" height="2.43" fill="#a90d45"/>
<rect x="174.86" y="104.81" width="15.47" height="2.43" fill="#a90d45"/>
<rect x="190.28" y="104.81" width="15.47" height="2.43" fill="#9cd7a4"/>
<rect x="205.70" y="104.81" width="15.47" height="2.43" fill="#97d5a4"/>
<rect x="221.12" y="104.81" width="15.47" height="2.43" fill="#8fd2a4"/>
<rect x="236.54" y="104.81" width="15.47" height="2.43" fill="#81cda5"/>
<rect x="251.96" y="104.81" width="15.47" height="2.43" fill="#7ccaa5"/>
<rect x="267.38" y="104.81" width="15.47" height="2.43" fill="#74c7a5"/>
<rect x="51.50" y="107.19" width="15.47" height="2.43" fill="#e1504b"/>
<rect x="66.92" y="107.19" width="15.47" height="2.43" fill="#f57748"/>
<rect x="82.34" y="107.19" width="15.47" height="2.43" fill="#fcaa5f"/>
<rect x="97.76" y="107.19" width="15.47" height="2.43" fill="#fdc171"/>
<rect x="113.18" y="107.19" width="15.47" height="2.43" fill="#f8864f"/>
<rect x="128.60" y="107.19" width="15.47" height="2.43" fill="#f57748"/>
<rect x="144.02" y="107.19" width="15.47" height="2.43" fill="#c9314c"/>
<rect x="159.44" y="107.19" width="15.47" height="2.43" fill="#a90d45"/>
<rect x="174.86" y="107.19" width="15.47" height="2.43" fill="#a90d45"/>
<rect x="190.28" y="107.19" width="15.47" height="2.43" fill="#a4daa4"/>
<rect x="205.70" y="107.19" width="15.47" height="2.43" fill="#99d6a4"/>
<rect x="221.12" y="107.19" width="15.47" height="2.43" fill="#91d3a4"/>
<rect x="236.54" y="107.19" width="15.47" height="2.43" fill="#84cea5"/>
<rect x="251.96" y="107.19" width="15.47" height="2.43" fill="#7ecca5"/>
<rect x="267.38" y="107.19" width="15.47" height="2.43" fill="#76c8a5"/>
<rect x="51.50" y="109.57" width="15.47" height="2.43" fill="#d0384e"/>
<rect x="66.92" y="109.57" width="15.47" height="2.43" fill="#e2514a"/>
<rect x="82.34" y="109.57" width="15.47" height="2.43" fill="#fa9b58"/>
<rect x="97.76" y="109.57" width="15.47" height="2.43" fill="#fdb567"/>
<rect x="113.18" y="109.57" width="15.47" height="2.43" fill="#f46d43"/>
<rect x="128.60" y="109.57" width="15.47" height="2.43" fill="#ee6445"/>
<rect x="144.02" y="109.57" width="15.47" height="2.43" fill="#a90d45"/>
<rect x="159.44" y="109.57" width="15.47" height="2.43" fill="#a90d45"/>
<rect x="174.86" y="109.57" width="15.47" height="2.43" fill="#d43d4f"/>
<rect x="190.28" y="109.57" width="15.47" height="2.43" fill="#aadca4"/>
<rect x="205.70" y="109.57" width="15.47" height="2.43" fill="#9cd7a4"/>
<rect x="221.12" y="109.57" width="15.47" height="2.43" fill="#97d5a4"/>
<rect x="236.54" y="109.57" width="15.47" height="2.43" fill="#86cfa5"/>
<rect x="251.96" y="109.57" width="15.47" height="2.43" fill="#81cda5"/>
<rect x="267.38" y="109.57" width="15.47" height="2.43" fill="#79c9a5"/>
<rect x="51.50" y="111.94" width="15.47" height="2.43" fill="#b11747"/>
<rect x="66.92" y="111.94" width="15.47" height="2.43" fill="#d23a4e"/>
<rect x="82.34" y="111.94" width="15.47" height="2.43" fill="#f7814c"/>
<rect x="97.76" y="111.94" width="15.47" height="2.43" fill="#fca85e"/>
<rect x="113.18" y="111.94" width="15.47" height="2.43" fill="#e75948"/>
<rect x="128.60" y="111.94" width="15.47" height="2.43" fill="#e55749"/>
<rect x="144.02" y="111.94" width="15.47" height="2.43" fill="#a90d45"/>
<rect x="159.44" y="111.94" width="15.47" height="2.43" fill="#a90d45"/>
<rect x="174.86" y="111.94" width="15.47" height="2.43" fill="#f98e52"/>
<rect x="190.28" y="111.94" width="15.47" height="2.43" fill="#aedea3"/>
<rect x="205.70" y="111.94" width="15.47" height="2.43" fill="#9fd8a4"/>
<rect x="221.12" y="111.94" width="15.47" height="2.43" fill="#99d6a4"/>
<rect x="236.54" y="111.94" width="15.47" height="2.43" fill="#8cd1a4"/>
<rect x="251.96" y="111.94" width="15.47" height="2.43" fill="#84cea5"/>
<rect x="267.38" y="111.94" width="15.47" height="2.43" fill="#7ecca5"/>
<rect x="51.50" y="114.32" width="15.47" height="2.43" fill="#a20643"/>
<rect x="66.92" y="114.32" width="15.47" height="2.43" fill="#d63f4f"/>
<rect x="82.34" y="114.32" width="15.47" height="2.43" fill="#f88950"/>
<rect x="97.76" y="114.32" width="15.47" height="2.43" fill="#fa9857"/>
<rect x="113.18" y="114.32" width="15.47" height="2.43" fill="#d8434e"/>
<rect x="128.60" y="114.32" width="15.47" height="2.43" fill="#dc484c"/>
<rect x="144.02" y="114.32" width="15.47" height="2.43" fill="#a90d45"/>
<rect x="159.44" y="114.32" width="15.47" height="2.43" fill="#f98e52"/>
<rect x="174.86" y="114.32" width="15.47" height="2.43" fill="#ffffbe"/>
<rect x="190.28" y="114.32" width="15.47" height="2.43" fill="#b1dfa3"/>
<rect x="205.70" y="114.32" width="15.47" height="2.43" fill="#a4daa4"/>
<rect x="221.12" y="114.32" width="15.47" height="2.43" fill="#9cd7a4"/>
<rect x="236.54" y="114.32" width="15.47" height="2.43" fill="#91d3a4"/>
<rect x="251.96" y="114.32" width="15.47" height="2.43" fill="#89d0a4"/>
<rect x="267.38" y="114.32" width="15.47" height="2.43" fill="#81cda5"/>
<rect x="51.50" y="116.70" width="15.47" height="2.43" fill="#a20643"/>
<rect x="66.92" y="116.70" width="15.47" height="2.43" fill="#d8434e"/>
<rect x="82.34" y="116.70" width="15.47" height="2.43" fill="#fcaa5f"/>
<rect x="97.76" y="116.70" width="15.47" height="2.43" fill="#f8864f"/>
<rect x="113.18" y="116.70" width="15.47" height="2.43" fill="#c32a4b"/>
<rect x="128.60" y="116.70" width="15.47" height="2.43" fill="#d23a4e"/>
<rect x="144.02" y="116.70" width="15.47" height="2.43" fill="#a90d45"/>
<rect x="159.44" y="116.70" width="15.47" height="2.43" fill="#fff8b4"/>
<rect x="174.86" y="116.70" width="15.47" height="2.43" fill="#66c2a5"/>
<rect x="190.28" y="116.70" width="15.47" height="2.43" fill="#b3e0a2"/>
<rect x="205.70" y="116.70" width="15.47" height="2.43" fill="#a7dba4"/>
<rect x="221.12" y="116.70" width="15.47" height="2.43" fill="#9fd8a4"/>
<rect x="236.54" y="116.70" width="15.47" height="2.43" fill="#94d4a4"/>
<rect x="251.96" y="116.70" width="15.47" height="2.43" fill="#8fd2a4"/>
<rect x="267.38" y="116.70" width="15.47" height="2.43" fill="#86cfa5"/>
<rect x="51.50" y="119.08" width="15.47" height="2.43" fill="#a20643"/>
<rect x="66.92" y="119.08" width="15.47" height="2.43" fill="#dc484c"/>
<rect x="82.34" y="119.08" width="15.47" height="2.43" fill="#fdb567"/>
<rect x="97.76" y="119.08" width="15.47" height="2.43" fill="#f57547"/>
<rect x="113.18" y="119.08" width="15.47" height="2.43" fill="#b61b48"/>
<rect x="128.60" y="119.08" width="15.47" height="2.43" fill="#c1274a"/>
<rect x="144.02" y="119.08" width="15.47" height="2.43" fill="#a90d45"/>
<rect x="159.44" y="119.08" width="15.47" height="2.43" fill="#fff8b4"/>
<rect x="174.86" y="119.08" width="15.47" height="2.43" fill="#aadca4"/>
<rect x="190.28" y="119.08" width="15.47" height="2.43" fill="#b5e1a2"/>
<rect x="205.70" y="119.08" width="15.47" height="2.43" fill="#aadca4"/>
<rect x="221.12" y="119.08" width="15.47" height="2.43" fill="#a4daa4"/>
<rect x="236.54" y="119.08" width="15.47" height="2.43" fill="#99d6a4"/>
<rect x="251.96" y="119.08" width="15.47" height="2.43" fill="#91d3a4"/>
<rect x="267.38" y="119.08" width="15.47" height="2.43" fill="#8cd1a4"/>
<rect x="51.50" y="121.46" width="15.47" height="2.43" fill="#a20643"/>
<rect x="66.92" y="121.46" width="15.47" height="2.43" fill="#e2514a"/>
<rect x="82.34" y="121.46" width="15.47" height="2.43" fill="#fdb163"/>
<rect x="97.76" y="121.46" width="15.47" height="2.43" fill="#de4c4b"/>
<rect x="113.18" y="121.46" width="15.47" height="2.43" fill="#b61b48"/>
<rect x="128.60" y="121.46" width="15.47" height="2.43" fill="#b61b48"/>
<rect x="144.02" y="121.46" width="15.47" height="2.43" fill="#fdad60"/>
<rect x="159.44" y="121.46" width="15.47" height="2.43" fill="#fcfeba"/>
<rect x="174.86" y="121.46" width="15.47" height="2.43" fill="#b1dfa3"/>
<rect x="190.28" y="121.46" width="15.47" height="2.43" fill="#bae3a1"/>
<rect x="205.70" y="121.46" width="15.47" height="2.43" fill="#aedea3"/>
<rect x="221.12" y="121.46" width="15.47" height="2.43" fill="#a7dba4"/>
<rect x="236.54" y="121.46" width="15.47" height="2.43" fill="#9cd7a4"/>
<rect x="251.96" y="121.46" width="15.47" height="2.43" fill="#97d5a4"/>
<rect x="267.38" y="121.46" width="15.47" height="2.43" fill="#8fd2a4"/>
<rect x="51.50" y="123.84" width="15.47" height="2.43" fill="#a20643"/>
<rect x="66.92" y="123.84" width="15.47" height="2.43" fill="#e95c47"/>
<rect x="82.34" y="123.84" width="15.47" height="2.43" fill="#fba35c"/>
<rect x="97.76" y="123.84" width="15.47" height="2.43" fill="#b61b48"/>
<rect x="113.18" y="123.84" width="15.47" height="2.43" fill="#b61b48"/>
<rect x="128.60" y="123.84" width="15.47" height="2.43" fill="#b61b48"/>
<rect x="144.02" y="123.84" width="15.47" height="2.43" fill="#fff8b4"/>
<rect x="159.44" y="123.84" width="15.47" height="2.43" fill="#e6f598"/>
<rect x="174.86" y="123.84" width="15.47" height="2.43" fill="#b5e1a2"/>
<rect x="190.28" y="123.84" width="15.47" height="2.43" fill="#bce4a0"/>
<rect x="205.70" y="123.84" width="15.47" height="2.43" fill="#b1dfa3"/>
<rect x="221.12" y="123.84" width="15.47" height="2.43" fill="#aadca4"/>
<rect x="236.54" y="123.84" width="15.47" height="2.43" fill="#a2d9a4"/>
<rect x="251.96" y="123.84" width="15.47" height="2.43" fill="#99d6a4"/>
<rect x="267.38" y="123.84" width="15.47" height="2.43" fill="#94d4a4"/>
<rect x="51.50" y="126.22" width="15.47" height="2.43" fill="#a20643"/>
<rect x="66.92" y="126.22" width="15.47" height="2.43" fill="#f67a49"/>
<rect x="82.34" y="126.22" width="15.47" height="2.43" fill="#f99153"/>
<rect x="97.76" y="126.22" width="15.47" height="2.43" fill="#b61b48"/>
<rect x="113.18" y="126.22" width="15.47" height="2.43" fill="#b61b48"/>
<rect x="128.60" y="126.22" width="15.47" height="2.43" fill="#d7414e"/>
<rect x="144.02" y="126.22" width="15.47" height="2.43" fill="#fffcba"/>
<rect x="159.44" y="126.22" width="15.47" height="2.43" fill="#74c7a5"/>
<rect x="174.86" y="126.22" width="15.47" height="2.43" fill="#bce4a0"/>
<rect x="190.28" y="126.22" width="15.47" height="2.43" fill="#bfe5a0"/>
<rect x="205.70" y="126.22" width="15.47" height="2.43" fill="#b3e0a2"/>
<rect x="221.12" y="126.22" width="15.47" height="2.43" fill="#aedea3"/>
<rect x="236.54" y="126.22" width="15.47" height="2.43" fill="#a4daa4"/>
<rect x="251.96" y="126.22" width="15.47" height="2.43" fill="#9fd8a4"/>
<rect x="267.38" y="126.22" width="15.47" height="2.43" fill="#97d5a4"/>
<rect x="51.50" y="128.60" width="15.47" height="2.43" fill="#c32a4b"/>
<rect x="66.92" y="128.60" width="15.47" height="2.43" fill="#fa9656"/>
<rect x="82.34" y="128.60" width="15.47" height="2.43" fill="#f06744"/>
<rect x="97.76" y="128.60" width="15.47" height="2.43" fill="#b61b48"/>
<rect x="113.18" y="128.60" width="15.47" height="2.43" fill="#b61b48"/>
<rect x="128.60" y="128.60" width="15.47" height="2.43" fill="#fdc372"/>
<rect x="144.02" y="128.60" width="15.47" height="2.43" fill="#f7fcb2"/>
<rect x="159.44" y="128.60" width="15.47" height="2.43" fill="#58b2ac"/>
<rect x="174.86" y="128.60" width="15.47" height="2.43" fill="#c3e79f"/>
<rect x="190.28" y="128.60" width="15.47" height="2.43" fill="#c3e79f"/>
<rect x="205.70" y="128.60" width="15.47" height="2.43" fill="#b5e1a2"/>
<rect x="221.12" y="128.60" width="15.47" height="2.43" fill="#b1dfa3"/>
<rect x="236.54" y="128.60" width="15.47" height="2.43" fill="#aadca4"/>
<rect x="251.96" y="128.60" width="15.47" height="2.43" fill="#a2d9a4"/>
<rect x="267.38" y="128.60" width="15.47" height="2.43" fill="#9cd7a4"/>
<rect x="51.50" y="130.98" width="15.47" height="2.43" fill="#f06744"/>
<rect x="66.92" y="130.98" width="15.47" height="2.43" fill="#fa9857"/>
<rect x="82.34" y="130.98" width="15.47" height="2.43" fill="#d23a4e"/>
<rect x="97.76" y="130.98" width="15.47" height="2.43" fill="#b61b48"/>
<rect x="113.18" y="130.98" width="15.47" height="2.43" fill="#b61b48"/>
<rect x="128.60" y="130.98" width="15.47" height="2.43" fill="#ffffbe"/>
<rect x="144.02" y="130.98" width="15.47" height="2.43" fill="#aadca4"/>
<rect x="159.44" y="130.98" width="15.47" height="2.43" fill="#4ba4b1"/>
<rect x="174.86" y="130.98" width="15.47" height="2.43" fill="#c8e99e"/>
<rect x="190.28" y="130.98" width="15.47" height="2.43" fill="#c6e89f"/>
<rect x="205.70" y="130.98" width="15.47" height="2.43" fill="#bae3a1"/>
<rect x="221.12" y="130.98" width="15.47" height="2.43" fill="#b3e0a2"/>
<rect x="236.54" y="130.98" width="15.47" height="2.43" fill="#acdda4"/>
<rect x="251.96" y="130.98" width="15.47" height="2.43" fill="#a7dba4"/>
<rect x="267.38" y="130.98" width="15.47" height="2.43" fill="#9fd8a4"/>
<rect x="51.50" y="133.36" width="15.47" height="2.43" fill="#fba05b"/>
<rect x="66.92" y="133.36" width="15.47" height="2.43" fill="#fb9d59"/>
<rect x="82.34" y="133.36" width="15.47" height="2.43" fill="#d23a4e"/>
<rect x="97.76" y="133.36" width="15.47" height="2.43" fill="#b61b48"/>
<rect x="113.18" y="133.36" width="15.47" height="2.43" fill="#fdc171"/>
<rect x="128.60" y="133.36" width="15.47" height="2.43" fill="#bfe5a0"/>
<rect x="144.02" y="133.36" width="15.47" height="2.43" fill="#66c2a5"/>
<rect x="159.44" y="133.36" width="15.47" height="2.43" fill="#9fd8a4"/>
<rect x="174.86" y="133.36" width="15.47" height="2.43" fill="#cfec9d"/>
<rect x="190.28" y="133.36" width="15.47" height="2.43" fill="#c8e99e"/>
<rect x="205.70" y="133.36" width="15.47" height="2.43" fill="#bce4a0"/>
<rect x="221.12" y="133.36" width="15.47" height="2.43" fill="#b5e1a2"/>
<rect x="236.54" y="133.36" width="15.47" height="2.43" fill="#b1dfa3"/>
<rect x="251.96" y="133.36" width="15.47" height="2.43" fill="#aadca4"/>
<rect x="267.38" y="133.36" width="15.47" height="2.43" fill="#a4daa4"/>
<rect x="51.50" y="135.73" width="15.47" height="2.43" fill="#fdc171"/>
<rect x="66.92" y="135.73" width="15.47" height="2.43" fill="#f67a49"/>
<rect x="82.34" y="135.73" width="15.47" height="2.43" fill="#d23a4e"/>
<rect x="97.76" y="135.73" width="15.47" height="2.43" fill="#e95c47"/>
<rect x="113.18" y="135.73" width="15.47" height="2.43" fill="#fffdbc"/>
<rect x="128.60" y="135.73" width="15.47" height="2.43" fill="#71c6a5"/>
<rect x="144.02" y="135.73" width="15.47" height="2.43" fill="#66c2a5"/>
<rect x="159.44" y="135.73" width="15.47" height="2.43" fill="#ecf7a1"/>
<rect x="174.86" y="135.73" width="15.47" height="2.43" fill="#d1ed9c"/>
<rect x="190.28" y="135.73" width="15.47" height="2.43" fill="#cdeb9d"/>
<rect x="205.70" y="135.73" width="15.47" height="2.43" fill="#c1e6a0"/>
<rect x="221.12" y="135.73" width="15.47" height="2.43" fill="#bae3a1"/>
<rect x="236.54" y="135.73" width="15.47" height="2.43" fill="#b5e1a2"/>
<rect x="251.96" y="135.73" width="15.47" height="2.43" fill="#aedea3"/>
<rect x="267.38" y="135.73" width="15.47" height="2.43" fill="#aadca4"/>
<rect x="51.50" y="138.11" width="15.47" height="2.43" fill="#fdb567"/>
<rect x="66.92" y="138.11" width="15.47" height="2.43" fill="#da464d"/>
<rect x="82.34" y="138.11" width="15.47" height="2.43" fill="#d23a4e"/>
<rect x="97.76" y="138.11" width="15.47" height="2.43" fill="#fed683"/>
<rect x="113.18" y="138.11" width="15.47" height="2.43" fill="#ddf19a"/>
<rect x="128.60" y="138.11" width="15.47" height="2.43" fill="#5cb7aa"/>
<rect x="144.02" y="138.11" width="15.47" height="2.43" fill="#66c2a5"/>
<rect x="159.44" y="138.11" width="15.47" height="2.43" fill="#ecf7a1"/>
<rect x="174.86" y="138.11" width="15.47" height="2.43" fill="#d6ee9b"/>
<rect x="190.28" y="138.11" width="15.47" height="2.43" fill="#cfec9d"/>
<rect x="205.70" y="138.11" width="15.47" height="2.43" fill="#c6e89f"/>
<rect x="221.12" y="138.11" width="15.47" height="2.43" fill="#bfe5a0"/>
<rect x="236.54" y="138.11" width="15.47" height="2.43" fill="#bae3a1"/>
<rect x="251.96" y="138.11" width="15.47" height="2.43" fill="#b3e0a2"/>
<rect x="267.38" y="138.11" width="15.47" height="2.43" fill="#acdda4"/>
<rect x="51.50" y="140.49" width="15.47" height="2.43" fill="#fa9656"/>
<rect x="66.92" y="140.49" width="15.47" height="2.43" fill="#da464d"/>
<rect x="82.34" y="140.49" width="15.47" height="2.43" fill="#d23a4e"/>
<rect x="97.76" y="140.49" width="15.47" height="2.43" fill="#d3ed9c"/>
<rect x="113.18" y="140.49" width="15.47" height="2.43" fill="#71c6a5"/>
<rect x="128.60" y="140.49" width="15.47" height="2.43" fill="#5cb7aa"/>
<rect x="144.02" y="140.49" width="15.47" height="2.43" fill="#66c2a5"/>
<rect x="159.44" y="140.49" width="15.47" height="2.43" fill="#edf8a3"/>
<rect x="174.86" y="140.49" width="15.47" height="2.43" fill="#d8ef9b"/>
<rect x="190.28" y="140.49" width="15.47" height="2.43" fill="#d3ed9c"/>
<rect x="205.70" y="140.49" width="15.47" height="2.43" fill="#c8e99e"/>
<rect x="221.12" y="140.49" width="15.47" height="2.43" fill="#c3e79f"/>
<rect x="236.54" y="140.49" width="15.47" height="2.43" fill="#bce4a0"/>
<rect x="251.96" y="140.49" width="15.47" height="2.43" fill="#b8e2a1"/>
<rect x="267.38" y="140.49" width="15.47" height="2.43" fill="#b1dfa3"/>
<rect x="51.50" y="142.87" width="15.47" height="2.43" fill="#e95c47"/>
<rect x="66.92" y="142.87" width="15.47" height="2.43" fill="#da464d"/>
<rect x="82.34" y="142.87" width="15.47" height="2.43" fill="#fdad60"/>
<rect x="97.76" y="142.87" width="15.47" height="2.43" fill="#74c7a5"/>
<rect x="113.18" y="142.87" width="15.47" height="2.43" fill="#71c6a5"/>
<rect x="128.60" y="142.87" width="15.47" height="2.43" fill="#5cb7aa"/>
<rect x="144.02" y="142.87" width="15.47" height="2.43" fill="#6ec5a5"/>
<rect x="159.44" y="142.87" width="15.47" height="2.43" fill="#eef8a4"/>
<rect x="174.86" y="142.87" width="15.47" height="2.43" fill="#ddf19a"/>
<rect x="190.28" y="142.87" width="15.47" height="2.43" fill="#d6ee9b"/>
<rect x="205.70" y="142.87" width="15.47" height="2.43" fill="#cdeb9d"/>
<rect x="221.12" y="142.87" width="15.47" height="2.43" fill="#c8e99e"/>
<rect x="236.54" y="142.87" width="15.47" height="2.43" fill="#c1e6a0"/>
<rect x="251.96" y="142.87" width="15.47" height="2.43" fill="#bce4a0"/>
<rect x="267.38" y="142.87" width="15.47" height="2.43" fill="#b5e1a2"/>
<rect x="51.50" y="145.25" width="15.47" height="2.43" fill="#e95c47"/>
<rect x="66.92" y="145.25" width="15.47" height="2.43" fill="#f7844e"/>
<rect x="82.34" y="145.25" width="15.47" height="2.43" fill="#fee593"/>
<rect x="97.76" y="145.25" width="15.47" height="2.43" fill="#74c7a5"/>
<rect x="113.18" y="145.25" width="15.47" height="2.43" fill="#6ec5a5"/>
<rect x="128.60" y="145.25" width="15.47" height="2.43" fill="#5cb7aa"/>
<rect x="144.02" y="145.25" width="15.47" height="2.43" fill="#7ecca5"/>
<rect x="159.44" y="145.25" width="15.47" height="2.43" fill="#eff9a6"/>
<rect x="174.86" y="145.25" width="15.47" height="2.43" fill="#dff299"/>
<rect x="190.28" y="145.25" width="15.47" height="2.43" fill="#daf09a"/>
<rect x="205.70" y="145.25" width="15.47" height="2.43" fill="#d1ed9c"/>
<rect x="221.12" y="145.25" width="15.47" height="2.43" fill="#cdeb9d"/>
<rect x="236.54" y="145.25" width="15.47" height="2.43" fill="#c6e89f"/>
<rect x="251.96" y="145.25" width="15.47" height="2.43" fill="#bfe5a0"/>
<rect x="267.38" y="145.25" width="15.47" height="2.43" fill="#bae3a1"/>
<rect x="51.50" y="147.63" width="15.47" height="2.43" fill="#f7814c"/>
<rect x="66.92" y="147.63" width="15.47" height="2.43" fill="#fee28f"/>
<rect x="82.34" y="147.63" width="15.47" height="2.43" fill="#f2faaa"/>
<rect x="97.76" y="147.63" width="15.47" height="2.43" fill="#74c7a5"/>
<rect x="113.18" y="147.63" width="15.47" height="2.43" fill="#6bc4a5"/>
<rect x="128.60" y="147.63" width="15.47" height="2.43" fill="#5cb7aa"/>
<rect x="144.02" y="147.63" width="15.47" height="2.43" fill="#8fd2a4"/>
<rect x="159.44" y="147.63" width="15.47" height="2.43" fill="#f0f9a7"/>
<rect x="174.86" y="147.63" width="15.47" height="2.43" fill="#e4f498"/>
<rect x="190.28" y="147.63" width="15.47" height="2.43" fill="#dff299"/>
<rect x="205.70" y="147.63" width="15.47" height="2.43" fill="#d6ee9b"/>
<rect x="221.12" y="147.63" width="15.47" height="2.43" fill="#cfec9d"/>
<rect x="236.54" y="147.63" width="15.47" height="2.43" fill="#caea9e"/>
<rect x="251.96" y="147.63" width="15.47" height="2.43" fill="#c3e79f"/>
<rect x="267.38" y="147.63" width="15.47" height="2.43" fill="#bfe5a0"/>
<rect x="51.50" y="150.01" width="15.47" height="2.43" fill="#fede89"/>
<rect x="66.92" y="150.01" width="15.47" height="2.43" fill="#ffffbe"/>
<rect x="82.34" y="150.01" width="15.47" height="2.43" fill="#aadca4"/>
<rect x="97.76" y="150.01" width="15.47" height="2.43" fill="#74c7a5"/>
<rect x="113.18" y="150.01" width="15.47" height="2.43" fill="#69c3a5"/>
<rect x="128.60" y="150.01" width="15.47" height="2.43" fill="#81cda5"/>
<rect x="144.02" y="150.01" width="15.47" height="2.43" fill="#c8e99e"/>
<rect x="159.44" y="150.01" width="15.47" height="2.43" fill="#f0f9a7"/>
<rect x="174.86" y="150.01" width="15.47" height="2.43" fill="#e7f59a"/>
<rect x="190.28" y="150.01" width="15.47" height="2.43" fill="#e1f399"/>
<rect x="205.70" y="150.01" width="15.47" height="2.43" fill="#daf09a"/>
<rect x="221.12" y="150.01" width="15.47" height="2.43" fill="#d3ed9c"/>
<rect x="236.54" y="150.01" width="15.47" height="2.43" fill="#cfec9d"/>
<rect x="251.96" y="150.01" width="15.47" height="2.43" fill="#c8e99e"/>
<rect x="267.38" y="150.01" width="15.47" height="2.43" fill="#c3e79f"/>
<rect x="51.50" y="152.39" width="15.47" height="2.43" fill="#fff8b4"/>
<rect x="66.92" y="152.39" width="15.47" height="2.43" fill="#fcfeba"/>
<rect x="82.34" y="152.39" width="15.47" height="2.43" fill="#aadca4"/>
<rect x="97.76" y="152.39" width="15.47" height="2.43" fill="#74c7a5"/>
<rect x="113.18" y="152.39" width="15.47" height="2.43" fill="#66c2a5"/>
<rect x="128.60" y="152.39" width="15.47" height="2.43" fill="#aadca4"/>
<rect x="144.02" y="152.39" width="15.47" height="2.43" fill="#ecf7a1"/>
<rect x="159.44" y="152.39" width="15.47" height="2.43" fill="#f1f9a9"/>
<rect x="174.86" y="152.39" width="15.47" height="2.43" fill="#e8f69b"/>
<rect x="190.28" y="152.39" width="15.47" height="2.43" fill="#e6f598"/>
<rect x="205.70" y="152.39" width="15.47" height="2.43" fill="#dff299"/>
<rect x="221.12" y="152.39" width="15.47" height="2.43" fill="#d8ef9b"/>
<rect x="236.54" y="152.39" width="15.47" height="2.43" fill="#d1ed9c"/>
<rect x="251.96" y="152.39" width="15.47" height="2.43" fill="#cdeb9d"/>
<rect x="267.38" y="152.39" width="15.47" height="2.43" fill="#c6e89f"/>
<rect x="51.50" y="154.77" width="15.47" height="2.43" fill="#fefebd"/>
<rect x="66.92" y="154.77" width="15.47" height="2.43" fill="#eaf79e"/>
<rect x="82.34" y="154.77" width="15.47" height="2.43" fill="#aadca4"/>
<rect x="97.76" y="154.77" width="15.47" height="2.43" fill="#81cda5"/>
<rect x="113.18" y="154.77" width="15.47" height="2.43" fill="#74c7a5"/>
<rect x="128.60" y="154.77" width="15.47" height="2.43" fill="#d3ed9c"/>
<rect x="144.02" y="154.77" width="15.47" height="2.43" fill="#edf8a3"/>
<rect x="159.44" y="154.77" width="15.47" height="2.43" fill="#f2faaa"/>
<rect x="174.86" y="154.77" width="15.47" height="2.43" fill="#eaf79e"/>
<rect x="190.28" y="154.77" width="15.47" height="2.43" fill="#e7f59a"/>
<rect x="205.70" y="154.77" width="15.47" height="2.43" fill="#e1f399"/>
<rect x="221.12" y="154.77" width="15.47" height="2.43" fill="#ddf19a"/>
<rect x="236.54" y="154.77" width="15.47" height="2.43" fill="#d6ee9b"/>
<rect x="251.96" y="154.77" width="15.47" height="2.43" fill="#d1ed9c"/>
<rect x="267.38" y="154.77" width="15.47" height="2.43" fill="#caea9e"/>
<rect x="51.50" y="157.15" width="15.47" height="2.43" fill="#f8fcb4"/>
<rect x="66.92" y="157.15" width="15.47" height="2.43" fill="#cdeb9d"/>
<rect x="82.34" y="157.15" width="15.47" height="2.43" fill="#bce4a0"/>
<rect x="97.76" y="157.15" width="15.47" height="2.43" fill="#a2d9a4"/>
<rect x="113.18" y="157.15" width="15.47" height="2.43" fill="#8fd2a4"/>
<rect x="128.60" y="157.15" width="15.47" height="2.43" fill="#f2faaa"/>
<rect x="144.02" y="157.15" width="15.47" height="2.43" fill="#eef8a4"/>
<rect x="159.44" y="157.15" width="15.47" height="2.43" fill="#f3faac"/>
<rect x="174.86" y="157.15" width="15.47" height="2.43" fill="#ebf7a0"/>
<rect x="190.28" y="157.15" width="15.47" height="2.43" fill="#e9f69d"/>
<rect x="205.70" y="157.15" width="15.47" height="2.43" fill="#e6f598"/>
<rect x="221.12" y="157.15" width="15.47" height="2.43" fill="#e1f399"/>
<rect x="236.54" y="157.15" width="15.47" height="2.43" fill="#daf09a"/>
<rect x="251.96" y="157.15" width="15.47" height="2.43" fill="#d3ed9c"/>
<rect x="267.38" y="157.15" width="15.47" height="2.43" fill="#cfec9d"/>
<rect x="51.50" y="159.52" width="15.47" height="2.43" fill="#f1f9a9"/>
<rect x="66.92" y="159.52" width="15.47" height="2.43" fill="#caea9e"/>
<rect x="82.34" y="159.52" width="15.47" height="2.43" fill="#cfec9d"/>
<rect x="97.76" y="159.52" width="15.47" height="2.43" fill="#bce4a0"/>
<rect x="113.18" y="159.52" width="15.47" height="2.43" fill="#aadca4"/>
<rect x="128.60" y="159.52" width="15.47" height="2.43" fill="#fff3ac"/>
<rect x="144.02" y="159.52" width="15.47" height="2.43" fill="#eff9a6"/>
<rect x="159.44" y="159.52" width="15.47" height="2.43" fill="#f3faac"/>
<rect x="174.86" y="159.52" width="15.47" height="2.43" fill="#ecf7a1"/>
<rect x="190.28" y="159.52" width="15.47" height="2.43" fill="#eaf79e"/>
<rect x="205.70" y="159.52" width="15.47" height="2.43" fill="#e7f59a"/>
<rect x="221.12" y="159.52" width="15.47" height="2.43" fill="#e4f498"/>
<rect x="236.54" y="159.52" width="15.47" height="2.43" fill="#ddf19a"/>
<rect x="251.96" y="159.52" width="15.47" height="2.43" fill="#d8ef9b"/>
<rect x="267.38" y="159.52" width="15.47" height="2.43" fill="#d1ed9c"/>
<rect x="51.50" y="161.90" width="15.47" height="2.43" fill="#eaf79e"/>
<rect x="66.92" y="161.90" width="15.47" height="2.43" fill="#c8e99e"/>
<rect x="82.34" y="161.90" width="15.47" height="2.43" fill="#d6ee9b"/>
<rect x="97.76" y="161.90" width="15.47" height="2.43" fill="#d6ee9b"/>
<rect x="113.18" y="161.90" width="15.47" height="2.43" fill="#d1ed9c"/>
<rect x="128.60" y="161.90" width="15.47" height="2.43" fill="#fdc574"/>
<rect x="144.02" y="161.90" width="15.47" height="2.43" fill="#f0f9a7"/>
<rect x="159.44" y="161.90" width="15.47" height="2.43" fill="#f4faad"/>
<rect x="174.86" y="161.90" width="15.47" height="2.43" fill="#edf8a3"/>
<rect x="190.28" y="161.90" width="15.47" height="2.43" fill="#ebf7a0"/>
<rect x="205.70" y="161.90" width="15.47" height="2.43" fill="#e8f69b"/>
<rect x="221.12" y="161.90" width="15.47" height="2.43" fill="#e6f598"/>
<rect x="236.54" y="161.90" width="15.47" height="2.43" fill="#e1f399"/>
<rect x="251.96" y="161.90" width="15.47" height="2.43" fill="#daf09a"/>
<rect x="267.38" y="161.90" width="15.47" height="2.43" fill="#d6ee9b"/>
<rect x="51.50" y="164.28" width="15.47" height="2.43" fill="#e7f59a"/>
<rect x="66.92" y="164.28" width="15.47" height="2.43" fill="#d1ed9c"/>
<rect x="82.34" y="164.28" width="15.47" height="2.43" fill="#ddf19a"/>
<rect x="97.76" y="164.28" width="15.47" height="2.43" fill="#eaf79e"/>
<rect x="113.18" y="164.28" width="15.47" height="2.43" fill="#edf8a3"/>
<rect x="128.60" y="164.28" width="15.47" height="2.43" fill="#fed07e"/>
<rect x="144.02" y="164.28" width="15.47" height="2.43" fill="#f1f9a9"/>
<rect x="159.44" y="164.28" width="15.47" height="2.43" fill="#f5fbaf"/>
<rect x="174.86" y="164.28" width="15.47" height="2.43" fill="#eef8a4"/>
<rect x="190.28" y="164.28" width="15.47" height="2.43" fill="#ecf7a1"/>
<rect x="205.70" y="164.28" width="15.47" height="2.43" fill="#e9f69d"/>
<rect x="221.12" y="164.28" width="15.47" height="2.43" fill="#e7f59a"/>
<rect x="236.54" y="164.28" width="15.47" height="2.43" fill="#e4f498"/>
<rect x="251.96" y="164.28" width="15.47" height="2.43" fill="#ddf19a"/>
<rect x="267.38" y="164.28" width="15.47" height="2.43" fill="#d8ef9b"/>
<rect x="51.50" y="166.66" width="15.47" height="2.43" fill="#e9f69d"/>
<rect x="66.92" y="166.66" width="15.47" height="2.43" fill="#d8ef9b"/>
<rect x="82.34" y="166.66" width="15.47" height="2.43" fill="#e6f598"/>
<rect x="97.76" y="166.66" width="15.47" height="2.43" fill="#f5fbaf"/>
<rect x="113.18" y="166.66" width="15.47" height="2.43" fill="#fefebd"/>
<rect x="128.60" y="166.66" width="15.47" height="2.43" fill="#fff8b4"/>
<rect x="144.02" y="166.66" width="15.47" height="2.43" fill="#f2faaa"/>
<rect x="159.44" y="166.66" width="15.47" height="2.43" fill="#f6fbb0"/>
<rect x="174.86" y="166.66" width="15.47" height="2.43" fill="#eff9a6"/>
<rect x="190.28" y="166.66" width="15.47" height="2.43" fill="#edf8a3"/>
<rect x="205.70" y="166.66" width="15.47" height="2.43" fill="#eaf79e"/>
<rect x="221.12" y="166.66" width="15.47" height="2.43" fill="#e9f69d"/>
<rect x="236.54" y="166.66" width="15.47" height="2.43" fill="#e6f598"/>
<rect x="251.96" y="166.66" width="15.47" height="2.43" fill="#dff299"/>
<rect x="267.38" y="166.66" width="15.47" height="2.43" fill="#ddf19a"/>
<rect x="51.50" y="169.04" width="15.47" height="2.43" fill="#ebf7a0"/>
<rect x="66.92" y="169.04" width="15.47" height="2.43" fill="#e1f399"/>
<rect x="82.34" y="169.04" width="15.47" height="2.43" fill="#e9f69d"/>
<rect x="97.76" y="169.04" width="15.47" height="2.43" fill="#fffebe"/>
<rect x="113.18" y="169.04" width="15.47" height="2.43" fill="#feefa3"/>
<rect x="128.60" y="169.04" width="15.47" height="2.43" fill="#fff7b2"/>
<rect x="144.02" y="169.04" width="15.47" height="2.43" fill="#f3faac"/>
<rect x="159.44" y="169.04" width="15.47" height="2.43" fill="#f6fbb0"/>
<rect x="174.86" y="169.04" width="15.47" height="2.43" fill="#f0f9a7"/>
<rect x="190.28" y="169.04" width="15.47" height="2.43" fill="#eef8a4"/>
<rect x="205.70" y="169.04" width="15.47" height="2.43" fill="#ebf7a0"/>
<rect x="221.12" y="169.04" width="15.47" height="2.43" fill="#eaf79e"/>
<rect x="236.54" y="169.04" width="15.47" height="2.43" fill="#e7f59a"/>
<rect x="251.96" y="169.04" width="15.47" height="2.43" fill="#e4f498"/>
<rect x="267.38" y="169.04" width="15.47" height="2.43" fill="#dff299"/>
<rect x="51.50" y="171.42" width="15.47" height="2.43" fill="#eff9a6"/>
<rect x="66.92" y="171.42" width="15.47" height="2.43" fill="#eaf79e"/>
<rect x="82.34" y="171.42" width="15.47" height="2.43" fill="#eef8a4"/>
<rect x="97.76" y="171.42" width="15.47" height="2.43" fill="#fff6b0"/>
<rect x="113.18" y="171.42" width="15.47" height="2.43" fill="#fee491"/>
<rect x="128.60" y="171.42" width="15.47" height="2.43" fill="#fff6b0"/>
<rect x="144.02" y="171.42" width="15.47" height="2.43" fill="#f4faad"/>
<rect x="159.44" y="171.42" width="15.47" height="2.43" fill="#f7fcb2"/>
<rect x="174.86" y="171.42" width="15.47" height="2.43" fill="#f1f9a9"/>
<rect x="190.28" y="171.42" width="15.47" height="2.43" fill="#eff9a6"/>
<rect x="205.70" y="171.42" width="15.47" height="2.43" fill="#ecf7a1"/>
<rect x="221.12" y="171.42" width="15.47" height="2.43" fill="#ebf7a0"/>
<rect x="236.54" y="171.42" width="15.47" height="2.43" fill="#e9f69d"/>
<rect x="251.96" y="171.42" width="15.47" height="2.43" fill="#e6f598"/>
<rect x="267.38" y="171.42" width="15.47" height="2.43" fill="#e4f498"/>
<rect x="51.50" y="173.80" width="15.47" height="2.43" fill="#f4faad"/>
<rect x="66.92" y="173.80" width="15.47" height="2.43" fill="#eff9a6"/>
<rect x="82.34" y="173.80" width="15.47" height="2.43" fill="#f4faad"/>
<rect x="97.76" y="173.80" width="15.47" height="2.43" fill="#feefa3"/>
<rect x="113.18" y="173.80" width="15.47" height="2.43" fill="#fed683"/>
<rect x="128.60" y="173.80" width="15.47" height="2.43" fill="#fff6b0"/>
<rect x="144.02" y="173.80" width="15.47" height="2.43" fill="#f6fbb0"/>
<rect x="159.44" y="173.80" width="15.47" height="2.43" fill="#f8fcb4"/>
<rect x="174.86" y="173.80" width="15.47" height="2.43" fill="#f2faaa"/>
<rect x="190.28" y="173.80" width="15.47" height="2.43" fill="#f0f9a7"/>
<rect x="205.70" y="173.80" width="15.47" height="2.43" fill="#edf8a3"/>
<rect x="221.12" y="173.80" width="15.47" height="2.43" fill="#ecf7a1"/>
<rect x="236.54" y="173.80" width="15.47" height="2.43" fill="#eaf79e"/>
<rect x="251.96" y="173.80" width="15.47" height="2.43" fill="#e7f59a"/>
<rect x="267.38" y="173.80" width="15.47" height="2.43" fill="#e7f59a"/>
<rect x="51.50" y="176.18" width="15.47" height="2.43" fill="#f8fcb4"/>
<rect x="66.92" y="176.18" width="15.47" height="2.43" fill="#f5fbaf"/>
<rect x="82.34" y="176.18" width="15.47" height="2.43" fill="#f9fcb5"/>
<rect x="97.76" y="176.18" width="15.47" height="2.43" fill="#fee695"/>
<rect x="113.18" y="176.18" width="15.47" height="2.43" fill="#fdad60"/>
<rect x="128.60" y="176.18" width="15.47" height="2.43" fill="#fff5ae"/>
<rect x="144.02" y="176.18" width="15.47" height="2.43" fill="#f7fcb2"/>
<rect x="159.44" y="176.18" width="15.47" height="2.43" fill="#f8fcb4"/>
<rect x="174.86" y="176.18" width="15.47" height="2.43" fill="#f3faac"/>
<rect x="190.28" y="176.18" width="15.47" height="2.43" fill="#f1f9a9"/>
<rect x="205.70" y="176.18" width="15.47" height="2.43" fill="#eef8a4"/>
<rect x="221.12" y="176.18" width="15.47" height="2.43" fill="#eef8a4"/>
<rect x="236.54" y="176.18" width="15.47" height="2.43" fill="#ebf7a0"/>
<rect x="251.96" y="176.18" width="15.47" height="2.43" fill="#e9f69d"/>
<rect x="267.38" y="176.18" width="15.47" height="2.43" fill="#e8f69b"/>
<rect x="51.50" y="178.56" width="15.47" height="2.43" fill="#fdfebb"/>
<rect x="66.92" y="178.56" width="15.47" height="2.43" fill="#fafdb7"/>
<rect x="82.34" y="178.56" width="15.47" height="2.43" fill="#ffffbe"/>
<rect x="97.76" y="178.56" width="15.47" height="2.43" fill="#fed683"/>
<rect x="113.18" y="178.56" width="15.47" height="2.43" fill="#f57547"/>
<rect x="128.60" y="178.56" width="15.47" height="2.43" fill="#fff3ac"/>
<rect x="144.02" y="178.56" width="15.47" height="2.43" fill="#f8fcb4"/>
<rect x="159.44" y="178.56" width="15.47" height="2.43" fill="#f9fcb5"/>
<rect x="174.86" y="178.56" width="15.47" height="2.43" fill="#f4faad"/>
<rect x="190.28" y="178.56" width="15.47" height="2.43" fill="#f2faaa"/>
<rect x="205.70" y="178.56" width="15.47" height="2.43" fill="#eff9a6"/>
<rect x="221.12" y="178.56" width="15.47" height="2.43" fill="#eff9a6"/>
<rect x="236.54" y="178.56" width="15.47" height="2.43" fill="#ecf7a1"/>
<rect x="251.96" y="178.56" width="15.47" height="2.43" fill="#eaf79e"/>
<rect x="267.38" y="178.56" width="15.47" height="2.43" fill="#eaf79e"/>
<rect x="51.50" y="180.94" width="15.47" height="2.43" fill="#fffcba"/>
<rect x="66.92" y="180.94" width="15.47" height="2.43" fill="#ffffbe"/>
<rect x="82.34" y="180.94" width="15.47" height="2.43" fill="#fff7b2"/>
<rect x="97.76" y="180.94" width="15.47" height="2.43" fill="#fdc372"/>
<rect x="113.18" y="180.94" width="15.47" height="2.43" fill="#f57547"/>
<rect x="128.60" y="180.94" width="15.47" height="2.43" fill="#fff2aa"/>
<rect x="144.02" y="180.94" width="15.47" height="2.43" fill="#fafdb7"/>
<rect x="159.44" y="180.94" width="15.47" height="2.43" fill="#fafdb7"/>
<rect x="174.86" y="180.94" width="15.47" height="2.43" fill="#f5fbaf"/>
<rect x="190.28" y="180.94" width="15.47" height="2.43" fill="#f3faac"/>
<rect x="205.70" y="180.94" width="15.47" height="2.43" fill="#f0f9a7"/>
<rect x="221.12" y="180.94" width="15.47" height="2.43" fill="#f0f9a7"/>
<rect x="236.54" y="180.94" width="15.47" height="2.43" fill="#eef8a4"/>
<rect x="251.96" y="180.94" width="15.47" height="2.43" fill="#ebf7a0"/>
<rect x="267.38" y="180.94" width="15.47" height="2.43" fill="#ebf7a0"/>
<rect x="51.50" y="183.31" width="15.47" height="2.43" fill="#fff6b0"/>
<rect x="66.92" y="183.31" width="15.47" height="2.43" fill="#fff8b4"/>
<rect x="82.34" y="183.31" width="15.47" height="2.43" fill="#feefa3"/>
<rect x="97.76" y="183.31" width="15.47" height="2.43" fill="#fdad60"/>
<rect x="113.18" y="183.31" width="15.47" height="2.43" fill="#f57547"/>
<rect x="128.60" y="183.31" width="15.47" height="2.43" fill="#fff1a8"/>
<rect x="144.02" y="183.31" width="15.47" height="2.43" fill="#fbfdb8"/>
<rect x="159.44" y="183.31" width="15.47" height="2.43" fill="#fafdb7"/>
<rect x="174.86" y="183.31" width="15.47" height="2.43" fill="#f6fbb0"/>
<rect x="190.28" y="183.31" width="15.47" height="2.43" fill="#f4faad"/>
<rect x="205.70" y="183.31" width="15.47" height="2.43" fill="#f1f9a9"/>
<rect x="221.12" y="183.31" width="15.47" height="2.43" fill="#f1f9a9"/>
<rect x="236.54" y="183.31" width="15.47" height="2.43" fill="#eef8a4"/>
<rect x="251.96" y="183.31" width="15.47" height="2.43" fill="#ecf7a1"/>
<rect x="267.38" y="183.31" width="15.47" height="2.43" fill="#edf8a3"/>
<rect x="51.50" y="185.69" width="15.47" height="2.43" fill="#feefa3"/>
<rect x="66.92" y="185.69" width="15.47" height="2.43" fill="#fff1a8"/>
<rect x="82.34" y="185.69" width="15.47" height="2.43" fill="#fee593"/>
<rect x="97.76" y="185.69" width="15.47" height="2.43" fill="#fb9d59"/>
<rect x="113.18" y="185.69" width="15.47" height="2.43" fill="#fee695"/>
<rect x="128.60" y="185.69" width="15.47" height="2.43" fill="#fff0a6"/>
<rect x="144.02" y="185.69" width="15.47" height="2.43" fill="#fcfeba"/>
<rect x="159.44" y="185.69" width="15.47" height="2.43" fill="#fbfdb8"/>
<rect x="174.86" y="185.69" width="15.47" height="2.43" fill="#f7fcb2"/>
<rect x="190.28" y="185.69" width="15.47" height="2.43" fill="#f4faad"/>
<rect x="205.70" y="185.69" width="15.47" height="2.43" fill="#f2faaa"/>
<rect x="221.12" y="185.69" width="15.47" height="2.43" fill="#f2faaa"/>
<rect x="236.54" y="185.69" width="15.47" height="2.43" fill="#eff9a6"/>
<rect x="251.96" y="185.69" width="15.47" height="2.43" fill="#edf8a3"/>
<rect x="267.38" y="185.69" width="15.47" height="2.43" fill="#eff9a6"/>
<rect x="51.50" y="188.07" width="15.47" height="2.43" fill="#fee999"/>
<rect x="66.92" y="188.07" width="15.47" height="2.43" fill="#fee999"/>
<rect x="82.34" y="188.07" width="15.47" height="2.43" fill="#feda86"/>
<rect x="97.76" y="188.07" width="15.47" height="2.43" fill="#f99153"/>
<rect x="113.18" y="188.07" width="15.47" height="2.43" fill="#fee593"/>
<rect x="128.60" y="188.07" width="15.47" height="2.43" fill="#feefa3"/>
<rect x="144.02" y="188.07" width="15.47" height="2.43" fill="#fefebd"/>
<rect x="159.44" y="188.07" width="15.47" height="2.43" fill="#fcfeba"/>
<rect x="174.86" y="188.07" width="15.47" height="2.43" fill="#f7fcb2"/>
<rect x="190.28" y="188.07" width="15.47" height="2.43" fill="#f5fbaf"/>
<rect x="205.70" y="188.07" width="15.47" height="2.43" fill="#f3faac"/>
<rect x="221.12" y="188.07" width="15.47" height="2.43" fill="#f3faac"/>
<rect x="236.54" y="188.07" width="15.47" height="2.43" fill="#eff9a6"/>
<rect x="251.96" y="188.07" width="15.47" height="2.43" fill="#eff9a6"/>
<rect x="267.38" y="188.07" width="15.47" height="2.43" fill="#f0f9a7"/>
<rect x="51.50" y="190.45" width="15.47" height="2.43" fill="#fee491"/>
<rect x="66.92" y="190.45" width="15.47" height="2.43" fill="#fee28f"/>
<rect x="82.34" y="190.45" width="15.47" height="2.43" fill="#fece7c"/>
<rect x="97.76" y="190.45" width="15.47" height="2.43" fill="#f67f4b"/>
<rect x="113.18" y="190.45" width="15.47" height="2.43" fill="#fee491"/>
<rect x="128.60" y="190.45" width="15.47" height="2.43" fill="#feeda1"/>
<rect x="144.02" y="190.45" width="15.47" height="2.43" fill="#ffffbe"/>
<rect x="159.44" y="190.45" width="15.47" height="2.43" fill="#fdfebb"/>
<rect x="174.86" y="190.45" width="15.47" height="2.43" fill="#f8fcb4"/>
<rect x="190.28" y="190.45" width="15.47" height="2.43" fill="#f6fbb0"/>
<rect x="205.70" y="190.45" width="15.47" height="2.43" fill="#f4faad"/>
<rect x="221.12" y="190.45" width="15.47" height="2.43" fill="#f4faad"/>
<rect x="236.54" y="190.45" width="15.47" height="2.43" fill="#f0f9a7"/>
<rect x="251.96" y="190.45" width="15.47" height="2.43" fill="#f0f9a7"/>
<rect x="267.38" y="190.45" width="15.47" height="2.43" fill="#f2faaa"/>
<rect x="51.50" y="192.83" width="15.47" height="2.43" fill="#fee08b"/>
<rect x="66.92" y="192.83" width="15.47" height="2.43" fill="#feda86"/>
<rect x="82.34" y="192.83" width="15.47" height="2.43" fill="#fdc171"/>
<rect x="97.76" y="192.83" width="15.47" height="2.43" fill="#f36b43"/>
<rect x="113.18" y="192.83" width="15.47" height="2.43" fill="#fee28f"/>
<rect x="128.60" y="192.83" width="15.47" height="2.43" fill="#feec9f"/>
<rect x="144.02" y="192.83" width="15.47" height="2.43" fill="#fffdbc"/>
<rect x="159.44" y="192.83" width="15.47" height="2.43" fill="#fdfebb"/>
<rect x="174.86" y="192.83" width="15.47" height="2.43" fill="#f9fcb5"/>
<rect x="190.28" y="192.83" width="15.47" height="2.43" fill="#f7fcb2"/>
<rect x="205.70" y="192.83" width="15.47" height="2.43" fill="#f5fbaf"/>
<rect x="221.12" y="192.83" width="15.47" height="2.43" fill="#f5fbaf"/>
<rect x="236.54" y="192.83" width="15.47" height="2.43" fill="#f1f9a9"/>
<rect x="251.96" y="192.83" width="15.47" height="2.43" fill="#f1f9a9"/>
<rect x="267.38" y="192.83" width="15.47" height="2.43" fill="#86cfa5"/>
<rect x="51.50" y="195.21" width="15.47" height="2.43" fill="#feda86"/>
<rect x="66.92" y="195.21" width="15.47" height="2.43" fill="#fed07e"/>
<rect x="82.34" y="195.21" width="15.47" height="2.43" fill="#fdb567"/>
<rect x="97.76" y="195.21" width="15.47" height="2.43" fill="#e95c47"/>
<rect x="113.18" y="195.21" width="15.47" height="2.43" fill="#fee18d"/>
<rect x="128.60" y="195.21" width="15.47" height="2.43" fill="#feeb9d"/>
<rect x="144.02" y="195.21" width="15.47" height="2.43" fill="#fffcba"/>
<rect x="159.44" y="195.21" width="15.47" height="2.43" fill="#fefebd"/>
<rect x="174.86" y="195.21" width="15.47" height="2.43" fill="#f9fcb5"/>
<rect x="190.28" y="195.21" width="15.47" height="2.43" fill="#f8fcb4"/>
<rect x="205.70" y="195.21" width="15.47" height="2.43" fill="#f6fbb0"/>
<rect x="221.12" y="195.21" width="15.47" height="2.43" fill="#f6fbb0"/>
<rect x="236.54" y="195.21" width="15.47" height="2.43" fill="#f1f9a9"/>
<rect x="251.96" y="195.21" width="15.47" height="2.43" fill="#f2faaa"/>
<rect x="267.38" y="195.21" width="15.47" height="2.43" fill="#86cfa5"/>
<rect x="51.50" y="197.59" width="15.47" height="2.43" fill="#fed481"/>
<rect x="66.92" y="197.59" width="15.47" height="2.43" fill="#fdc776"/>
<rect x="82.34" y="197.59" width="15.47" height="2.43" fill="#fca85e"/>
<rect x="97.76" y="197.59" width="15.47" height="2.43" fill="#e1504b"/>
<rect x="113.18" y="197.59" width="15.47" height="2.43" fill="#fee08b"/>
<rect x="128.60" y="197.59" width="15.47" height="2.43" fill="#feea9b"/>
<rect x="144.02" y="197.59" width="15.47" height="2.43" fill="#fffbb8"/>
<rect x="159.44" y="197.59" width="15.47" height="2.43" fill="#ffffbe"/>
<rect x="174.86" y="197.59" width="15.47" height="2.43" fill="#fafdb7"/>
<rect x="190.28" y="197.59" width="15.47" height="2.43" fill="#f8fcb4"/>
<rect x="205.70" y="197.59" width="15.47" height="2.43" fill="#f7fcb2"/>
<rect x="221.12" y="197.59" width="15.47" height="2.43" fill="#f7fcb2"/>
<rect x="236.54" y="197.59" width="15.47" height="2.43" fill="#f2faaa"/>
<rect x="251.96" y="197.59" width="15.47" height="2.43" fill="#86cfa5"/>
<rect x="267.38" y="197.59" width="15.47" height="2.43" fill="#86cfa5"/>
<rect x="51.50" y="199.97" width="15.47" height="2.43" fill="#fece7c"/>
<rect x="66.92" y="199.97" width="15.47" height="2.43" fill="#fdbf6f"/>
<rect x="82.34" y="199.97" width="15.47" height="2.43" fill="#fa9857"/>
<rect x="97.76" y="199.97" width="15.47" height="2.43" fill="#d7414e"/>
<rect x="113.18" y="199.97" width="15.47" height="2.43" fill="#fede89"/>
<rect x="128.60" y="199.97" width="15.47" height="2.43" fill="#fee999"/>
<rect x="144.02" y="199.97" width="15.47" height="2.43" fill="#fff8b4"/>
<rect x="159.44" y="199.97" width="15.47" height="2.43" fill="#ffffbe"/>
<rect x="174.86" y="199.97" width="15.47" height="2.43" fill="#fbfdb8"/>
<rect x="190.28" y="199.97" width="15.47" height="2.43" fill="#f9fcb5"/>
<rect x="205.70" y="199.97" width="15.47" height="2.43" fill="#f8fcb4"/>
<rect x="221.12" y="199.97" width="15.47" height="2.43" fill="#f8fcb4"/>
<rect x="236.54" y="199.97" width="15.47" height="2.43" fill="#f3faac"/>
<rect x="251.96" y="199.97" width="15.47" height="2.43" fill="#86cfa5"/>
<rect x="267.38" y="199.97" width="15.47" height="2.43" fill="#86cfa5"/>
<rect x="51.50" y="202.35" width="15.47" height="2.43" fill="#fec877"/>
<rect x="66.92" y="202.35" width="15.47" height="2.43" fill="#fdb768"/>
<rect x="82.34" y="202.35" width="15.47" height="2.43" fill="#f7844e"/>
<rect x="97.76" y="202.35" width="15.47" height="2.43" fill="#fee08b"/>
<rect x="113.18" y="202.35" width="15.47" height="2.43" fill="#fedc88"/>
<rect x="128.60" y="202.35" width="15.47" height="2.43" fill="#fee797"/>
<rect x="144.02" y="202.35" width="15.47" height="2.43" fill="#fff7b2"/>
<rect x="159.44" y="202.35" width="15.47" height="2.43" fill="#fffebe"/>
<rect x="174.86" y="202.35" width="15.47" height="2.43" fill="#fbfdb8"/>
<rect x="190.28" y="202.35" width="15.47" height="2.43" fill="#fafdb7"/>
<rect x="205.70" y="202.35" width="15.47" height="2.43" fill="#f9fcb5"/>
<rect x="221.12" y="202.35" width="15.47" height="2.43" fill="#f9fcb5"/>
<rect x="236.54" y="202.35" width="15.47" height="2.43" fill="#f3faac"/>
<rect x="251.96" y="202.35" width="15.47" height="2.43" fill="#86cfa5"/>
<rect x="267.38" y="202.35" width="15.47" height="2.43" fill="#86cfa5"/>
<rect x="51.50" y="204.73" width="15.47" height="2.43" fill="#fdc372"/>
<rect x="66.92" y="204.73" width="15.47" height="2.43" fill="#fdaf62"/>
<rect x="82.34" y="204.73" width="15.47" height="2.43" fill="#f47044"/>
<rect x="97.76" y="204.73" width="15.47" height="2.43" fill="#fede89"/>
<rect x="113.18" y="204.73" width="15.47" height="2.43" fill="#feda86"/>
<rect x="128.60" y="204.73" width="15.47" height="2.43" fill="#fee695"/>
<rect x="144.02" y="204.73" width="15.47" height="2.43" fill="#fff6b0"/>
<rect x="159.44" y="204.73" width="15.47" height="2.43" fill="#fffdbc"/>
<rect x="174.86" y="204.73" width="15.47" height="2.43" fill="#fcfeba"/>
<rect x="190.28" y="204.73" width="15.47" height="2.43" fill="#fbfdb8"/>
<rect x="205.70" y="204.73" width="15.47" height="2.43" fill="#fafdb7"/>
<rect x="221.12" y="204.73" width="15.47" height="2.43" fill="#fafdb7"/>
<rect x="236.54" y="204.73" width="15.47" height="2.43" fill="#f4faad"/>
<rect x="251.96" y="204.73" width="15.47" height="2.43" fill="#86cfa5"/>
<rect x="267.38" y="204.73" width="15.47" height="2.43" fill="#86cfa5"/>
<rect x="51.50" y="207.10" width="15.47" height="2.43" fill="#fdbd6d"/>
<rect x="66.92" y="207.10" width="15.47" height="2.43" fill="#fca85e"/>
<rect x="82.34" y="207.10" width="15.47" height="2.43" fill="#ea5e47"/>
<rect x="97.76" y="207.10" width="15.47" height="2.43" fill="#fedc88"/>
<rect x="113.18" y="207.10" width="15.47" height="2.43" fill="#fed884"/>
<rect x="128.60" y="207.10" width="15.47" height="2.43" fill="#fee593"/>
<rect x="144.02" y="207.10" width="15.47" height="2.43" fill="#fff3ac"/>
<rect x="159.44" y="207.10" width="15.47" height="2.43" fill="#fffdbc"/>
<rect x="174.86" y="207.10" width="15.47" height="2.43" fill="#fdfebb"/>
<rect x="190.28" y="207.10" width="15.47" height="2.43" fill="#fcfeba"/>
<rect x="205.70" y="207.10" width="15.47" height="2.43" fill="#fbfdb8"/>
<rect x="221.12" y="207.10" width="15.47" height="2.43" fill="#fbfdb8"/>
<rect x="236.54" y="207.10" width="15.47" height="2.43" fill="#f4faad"/>
<rect x="251.96" y="207.10" width="15.47" height="2.43" fill="#86cfa5"/>
<rect x="267.38" y="207.10" width="15.47" height="2.43" fill="#86cfa5"/>
<rect x="51.50" y="209.48" width="15.47" height="2.43" fill="#fdb768"/>
<rect x="66.92" y="209.48" width="15.47" height="2.43" fill="#fba05b"/>
<rect x="82.34" y="209.48" width="15.47" height="2.43" fill="#de4c4b"/>
<rect x="97.76" y="209.48" width="15.47" height="2.43" fill="#feda86"/>
<rect x="113.18" y="209.48" width="15.47" height="2.43" fill="#fed683"/>
<rect x="128.60" y="209.48" width="15.47" height="2.43" fill="#fee491"/>
<rect x="144.02" y="209.48" width="15.47" height="2.43" fill="#fff2aa"/>
<rect x="159.44" y="209.48" width="15.47" height="2.43" fill="#fffcba"/>
<rect x="174.86" y="209.48" width="15.47" height="2.43" fill="#fdfebb"/>
<rect x="190.28" y="209.48" width="15.47" height="2.43" fill="#fdfebb"/>
<rect x="205.70" y="209.48" width="15.47" height="2.43" fill="#fcfeba"/>
<rect x="221.12" y="209.48" width="15.47" height="2.43" fill="#fcfeba"/>
<rect x="236.54" y="209.48" width="15.47" height="2.43" fill="#f5fbaf"/>
<rect x="251.96" y="209.48" width="15.47" height="2.43" fill="#86cfa5"/>
<rect x="267.38" y="209.48" width="15.47" height="2.43" fill="#86cfa5"/>
<rect x="51.50" y="211.86" width="15.47" height="2.43" fill="#fdb567"/>
<rect x="66.92" y="211.86" width="15.47" height="2.43" fill="#fa9b58"/>
<rect x="82.34" y="211.86" width="15.47" height="2.43" fill="#d23a4e"/>
<rect x="97.76" y="211.86" width="15.47" height="2.43" fill="#feda86"/>
<rect x="113.18" y="211.86" width="15.47" height="2.43" fill="#fed683"/>
<rect x="128.60" y="211.86" width="15.47" height="2.43" fill="#fee28f"/>
<rect x="144.02" y="211.86" width="15.47" height="2.43" fill="#fff1a8"/>
<rect x="159.44" y="211.86" width="15.47" height="2.43" fill="#fffbb8"/>
<rect x="174.86" y="211.86" width="15.47" height="2.43" fill="#fefebd"/>
<rect x="190.28" y="211.86" width="15.47" height="2.43" fill="#fdfebb"/>
<rect x="205.70" y="211.86" width="15.47" height="2.43" fill="#fdfebb"/>
<rect x="221.12" y="211.86" width="15.47" height="2.43" fill="#fdfebb"/>
<rect x="236.54" y="211.86" width="15.47" height="2.43" fill="#86cfa5"/>
<rect x="251.96" y="211.86" width="15.47" height="2.43" fill="#86cfa5"/>
<rect x="267.38" y="211.86" width="15.47" height="2.43" fill="#86cfa5"/>
<rect x="51.50" y="214.24" width="15.47" height="2.43" fill="#fdb163"/>
<rect x="66.92" y="214.24" width="15.47" height="2.43" fill="#fa9656"/>
<rect x="82.34" y="214.24" width="15.47" height="2.43" fill="#be254a"/>
<rect x="97.76" y="214.24" width="15.47" height="2.43" fill="#fed884"/>
<rect x="113.18" y="214.24" width="15.47" height="2.43" fill="#fed481"/>
<rect x="128.60" y="214.24" width="15.47" height="2.43" fill="#fee18d"/>
<rect x="144.02" y="214.24" width="15.47" height="2.43" fill="#feefa3"/>
<rect x="159.44" y="214.24" width="15.47" height="2.43" fill="#fffab6"/>
<rect x="174.86" y="214.24" width="15.47" height="2.43" fill="#ffffbe"/>
<rect x="190.28" y="214.24" width="15.47" height="2.43" fill="#fefebd"/>
<rect x="205.70" y="214.24" width="15.47" height="2.43" fill="#fefebd"/>
<rect x="221.12" y="214.24" width="15.47" height="2.43" fill="#fefebd"/>
<rect x="236.54" y="214.24" width="15.47" height="2.43" fill="#86cfa5"/>
<rect x="251.96" y="214.24" width="15.47" height="2.43" fill="#86cfa5"/>
<rect x="267.38" y="214.24" width="15.47" height="2.43" fill="#86cfa5"/>
<rect x="51.50" y="216.62" width="15.47" height="2.43" fill="#fdaf62"/>
<rect x="66.92" y="216.62" width="15.47" height="2.43" fill="#f99153"/>
<rect x="82.34" y="216.62" width="15.47" height="2.43" fill="#ab0f45"/>
<rect x="97.76" y="216.62" width="15.47" height="2.43" fill="#fed683"/>
<rect x="113.18" y="216.62" width="15.47" height="2.43" fill="#fed27f"/>
<rect x="128.60" y="216.62" width="15.47" height="2.43" fill="#fee08b"/>
<rect x="144.02" y="216.62" width="15.47" height="2.43" fill="#feeda1"/>
<rect x="159.44" y="216.62" width="15.47" height="2.43" fill="#fffab6"/>
<rect x="174.86" y="216.62" width="15.47" height="2.43" fill="#ffffbe"/>
<rect x="190.28" y="216.62" width="15.47" height="2.43" fill="#ffffbe"/>
<rect x="205.70" y="216.62" width="15.47" height="2.43" fill="#ffffbe"/>
<rect x="221.12" y="216.62" width="15.47" height="2.43" fill="#ffffbe"/>
<rect x="236.54" y="216.62" width="15.47" height="2.43" fill="#86cfa5"/>
<rect x="251.96" y="216.62" width="15.47" height="2.43" fill="#86cfa5"/>
<rect x="267.38" y="216.62" width="15.47" height="2.43" fill="#86cfa5"/>
<rect x="385.70" y="26.30" width="21.10" height="3.83" fill="#a20643"/>
<rect x="406.75" y="26.30" width="21.10" height="3.83" fill="#e95c47"/>
<rect x="427.81" y="26.30" width="21.10" height="3.83" fill="#fba05b"/>
<rect x="448.86" y="26.30" width="21.10" height="3.83" fill="#fed683"/>
<rect x="469.92" y="26.30" width="21.10" height="3.83" fill="#fee695"/>
<rect x="490.97" y="26.30" width="21.10" height="3.83" fill="#feec9f"/>
<rect x="512.03" y="26.30" width="21.10" height="3.83" fill="#fff0a6"/>
<rect x="533.08" y="26.30" width="21.10" height="3.83" fill="#fff8b4"/>
<rect x="554.14" y="26.30" width="21.10" height="3.83" fill="#fff8b4"/>
<rect x="575.19" y="26.30" width="21.10" height="3.83" fill="#fff8b4"/>
<rect x="596.25" y="26.30" width="21.10" height="3.83" fill="#ffffbe"/>
<rect x="385.70" y="30.08" width="21.10" height="3.83" fill="#a20643"/>
<rect x="406.75" y="30.08" width="21.10" height="3.83" fill="#e2514a"/>
<rect x="427.81" y="30.08" width="21.10" height="3.83" fill="#f98e52"/>
<rect x="448.86" y="30.08" width="21.10" height="3.83" fill="#fecc7b"/>
<rect x="469.92" y="30.08" width="21.10" height="3.83" fill="#fee08b"/>
<rect x="490.97" y="30.08" width="21.10" height="3.83" fill="#fee695"/>
<rect x="512.03" y="30.08" width="21.10" height="3.83" fill="#fff2aa"/>
<rect x="533.08" y="30.08" width="21.10" height="3.83" fill="#fff2aa"/>
<rect x="554.14" y="30.08" width="21.10" height="3.83" fill="#fff2aa"/>
<rect x="575.19" y="30.08" width="21.10" height="3.83" fill="#fff2aa"/>
<rect x="596.25" y="30.08" width="21.10" height="3.83" fill="#fff2aa"/>
<rect x="385.70" y="33.86" width="21.10" height="3.83" fill="#af1446"/>
<rect x="406.75" y="33.86" width="21.10" height="3.83" fill="#da464d"/>
<rect x="427.81" y="33.86" width="21.10" height="3.83" fill="#f57547"/>
<rect x="448.86" y="33.86" width="21.10" height="3.83" fill="#fdb768"/>
<rect x="469.92" y="33.86" width="21.10" height="3.83" fill="#fee08b"/>
<rect x="490.97" y="33.86" width="21.10" height="3.83" fill="#fee08b"/>
<rect x="512.03" y="33.86" width="21.10" height="3.83" fill="#feec9f"/>
<rect x="533.08" y="33.86" width="21.10" height="3.83" fill="#feec9f"/>
<rect x="554.14" y="33.86" width="21.10" height="3.83" fill="#feec9f"/>
<rect x="575.19" y="33.86" width="21.10" height="3.83" fill="#feec9f"/>
<rect x="596.25" y="33.86" width="21.10" height="3.83" fill="#feec9f"/>
<rect x="385.70" y="37.64" width="21.10" height="3.83" fill="#c32a4b"/>
<rect x="406.75" y="37.64" width="21.10" height="3.83" fill="#d23a4e"/>
<rect x="427.81" y="37.64" width="21.10" height="3.83" fill="#f06744"/>
<rect x="448.86" y="37.64" width="21.10" height="3.83" fill="#fdad60"/>
<rect x="469.92" y="37.64" width="21.10" height="3.83" fill="#fed683"/>
<rect x="490.97" y="37.64" width="21.10" height="3.83" fill="#fee08b"/>
<rect x="512.03" y="37.64" width="21.10" height="3.83" fill="#fee08b"/>
<rect x="533.08" y="37.64" width="21.10" height="3.83" fill="#fee08b"/>
<rect x="554.14" y="37.64" width="21.10" height="3.83" fill="#fee08b"/>
<rect x="575.19" y="37.64" width="21.10" height="3.83" fill="#fee08b"/>
<rect x="596.25" y="37.64" width="21.10" height="3.83" fill="#fee08b"/>
<rect x="385.70" y="41.41" width="21.10" height="3.83" fill="#d23a4e"/>
<rect x="406.75" y="41.41" width="21.10" height="3.83" fill="#c32a4b"/>
<rect x="427.81" y="41.41" width="21.10" height="3.83" fill="#f06744"/>
<rect x="448.86" y="41.41" width="21.10" height="3.83" fill="#fba05b"/>
<rect x="469.92" y="41.41" width="21.10" height="3.83" fill="#fed683"/>
<rect x="490.97" y="41.41" width="21.10" height="3.83" fill="#fed683"/>
<rect x="512.03" y="41.41" width="21.10" height="3.83" fill="#fed07e"/>
<rect x="533.08" y="41.41" width="21.10" height="3.83" fill="#fed07e"/>
<rect x="554.14" y="41.41" width="21.10" height="3.83" fill="#fed07e"/>
<rect x="575.19" y="41.41" width="21.10" height="3.83" fill="#fed07e"/>
<rect x="596.25" y="41.41" width="21.10" height="3.83" fill="#fed07e"/>
<rect x="385.70" y="45.19" width="21.10" height="3.83" fill="#e95c47"/>
<rect x="406.75" y="45.19" width="21.10" height="3.83" fill="#b61b48"/>
<rect x="427.81" y="45.19" width="21.10" height="3.83" fill="#e95c47"/>
<rect x="448.86" y="45.19" width="21.10" height="3.83" fill="#f98e52"/>
<rect x="469.92" y="45.19" width="21.10" height="3.83" fill="#fdc776"/>
<rect x="490.97" y="45.19" width="21.10" height="3.83" fill="#fecc7b"/>
<rect x="512.03" y="45.19" width="21.10" height="3.83" fill="#fdbd6d"/>
<rect x="533.08" y="45.19" width="21.10" height="3.83" fill="#fdbd6d"/>
<rect x="554.14" y="45.19" width="21.10" height="3.83" fill="#fdbd6d"/>
<rect x="575.19" y="45.19" width="21.10" height="3.83" fill="#fdbd6d"/>
<rect x="596.25" y="45.19" width="21.10" height="3.83" fill="#fdbd6d"/>
<rect x="385.70" y="48.97" width="21.10" height="3.83" fill="#f57547"/>
<rect x="406.75" y="48.97" width="21.10" height="3.83" fill="#a20643"/>
<rect x="427.81" y="48.97" width="21.10" height="3.83" fill="#de4c4b"/>
<rect x="448.86" y="48.97" width="21.10" height="3.83" fill="#f57547"/>
<rect x="469.92" y="48.97" width="21.10" height="3.83" fill="#fdb768"/>
<rect x="490.97" y="48.97" width="21.10" height="3.83" fill="#fdb768"/>
<rect x="512.03" y="48.97" width="21.10" height="3.83" fill="#fba05b"/>
<rect x="533.08" y="48.97" width="21.10" height="3.83" fill="#fba05b"/>
<rect x="554.14" y="48.97" width="21.10" height="3.83" fill="#fba05b"/>
<rect x="575.19" y="48.97" width="21.10" height="3.83" fill="#fba05b"/>
<rect x="596.25" y="48.97" width="21.10" height="3.83" fill="#fba05b"/>
<rect x="385.70" y="52.75" width="21.10" height="3.83" fill="#fa9b58"/>
<rect x="406.75" y="52.75" width="21.10" height="3.83" fill="#a20643"/>
<rect x="427.81" y="52.75" width="21.10" height="3.83" fill="#d7414e"/>
<rect x="448.86" y="52.75" width="21.10" height="3.83" fill="#f57547"/>
<rect x="469.92" y="52.75" width="21.10" height="3.83" fill="#fdad60"/>
<rect x="490.97" y="52.75" width="21.10" height="3.83" fill="#fba05b"/>
<rect x="512.03" y="52.75" width="21.10" height="3.83" fill="#f67c4a"/>
<rect x="533.08" y="52.75" width="21.10" height="3.83" fill="#f67c4a"/>
<rect x="554.14" y="52.75" width="21.10" height="3.83" fill="#f67c4a"/>
<rect x="575.19" y="52.75" width="21.10" height="3.83" fill="#f67c4a"/>
<rect x="596.25" y="52.75" width="21.10" height="3.83" fill="#f67c4a"/>
<rect x="385.70" y="56.53" width="21.10" height="3.83" fill="#fdb768"/>
<rect x="406.75" y="56.53" width="21.10" height="3.83" fill="#a20643"/>
<rect x="427.81" y="56.53" width="21.10" height="3.83" fill="#d23a4e"/>
<rect x="448.86" y="56.53" width="21.10" height="3.83" fill="#f57547"/>
<rect x="469.92" y="56.53" width="21.10" height="3.83" fill="#fba05b"/>
<rect x="490.97" y="56.53" width="21.10" height="3.83" fill="#f7844e"/>
<rect x="512.03" y="56.53" width="21.10" height="3.83" fill="#e55749"/>
<rect x="533.08" y="56.53" width="21.10" height="3.83" fill="#e55749"/>
<rect x="554.14" y="56.53" width="21.10" height="3.83" fill="#e55749"/>
<rect x="575.19" y="56.53" width="21.10" height="3.83" fill="#e55749"/>
<rect x="596.25" y="56.53" width="21.10" height="3.83" fill="#e55749"/>
<rect x="385.70" y="60.31" width="21.10" height="3.83" fill="#fed683"/>
<rect x="406.75" y="60.31" width="21.10" height="3.83" fill="#af1446"/>
<rect x="427.81" y="60.31" width="21.10" height="3.83" fill="#c32a4b"/>
<rect x="448.86" y="60.31" width="21.10" height="3.83" fill="#f06744"/>
<rect x="469.92" y="60.31" width="21.10" height="3.83" fill="#f99355"/>
<rect x="490.97" y="60.31" width="21.10" height="3.83" fill="#e95c47"/>
<rect x="512.03" y="60.31" width="21.10" height="3.83" fill="#de4c4b"/>
<rect x="533.08" y="60.31" width="21.10" height="3.83" fill="#de4c4b"/>
<rect x="554.14" y="60.31" width="21.10" height="3.83" fill="#de4c4b"/>
<rect x="575.19" y="60.31" width="21.10" height="3.83" fill="#de4c4b"/>
<rect x="596.25" y="60.31" width="21.10" height="3.83" fill="#de4c4b"/>
<rect x="385.70" y="64.08" width="21.10" height="3.83" fill="#fff0a6"/>
<rect x="406.75" y="64.08" width="21.10" height="3.83" fill="#c32a4b"/>
<rect x="427.81" y="64.08" width="21.10" height="3.83" fill="#c32a4b"/>
<rect x="448.86" y="64.08" width="21.10" height="3.83" fill="#f06744"/>
<rect x="469.92" y="64.08" width="21.10" height="3.83" fill="#f7844e"/>
<rect x="490.97" y="64.08" width="21.10" height="3.83" fill="#e2514a"/>
<rect x="512.03" y="64.08" width="21.10" height="3.83" fill="#de4c4b"/>
<rect x="533.08" y="64.08" width="21.10" height="3.83" fill="#de4c4b"/>
<rect x="554.14" y="64.08" width="21.10" height="3.83" fill="#de4c4b"/>
<rect x="575.19" y="64.08" width="21.10" height="3.83" fill="#de4c4b"/>
<rect x="596.25" y="64.08" width="21.10" height="3.83" fill="#de4c4b"/>
<rect x="385.70" y="67.86" width="21.10" height="3.83" fill="#ffffbe"/>
<rect x="406.75" y="67.86" width="21.10" height="3.83" fill="#de4c4b"/>
<rect x="427.81" y="67.86" width="21.10" height="3.83" fill="#b61b48"/>
<rect x="448.86" y="67.86" width="21.10" height="3.83" fill="#e2514a"/>
<rect x="469.92" y="67.86" width="21.10" height="3.83" fill="#f57547"/>
<rect x="490.97" y="67.86" width="21.10" height="3.83" fill="#f06744"/>
<rect x="512.03" y="67.86" width="21.10" height="3.83" fill="#e55749"/>
<rect x="533.08" y="67.86" width="21.10" height="3.83" fill="#e55749"/>
<rect x="554.14" y="67.86" width="21.10" height="3.83" fill="#e55749"/>
<rect x="575.19" y="67.86" width="21.10" height="3.83" fill="#e55749"/>
<rect x="596.25" y="67.86" width="21.10" height="3.83" fill="#e55749"/>
<rect x="385.70" y="71.64" width="21.10" height="3.83" fill="#f3faac"/>
<rect x="406.75" y="71.64" width="21.10" height="3.83" fill="#f06744"/>
<rect x="427.81" y="71.64" width="21.10" height="3.83" fill="#b61b48"/>
<rect x="448.86" y="71.64" width="21.10" height="3.83" fill="#d23a4e"/>
<rect x="469.92" y="71.64" width="21.10" height="3.83" fill="#f06744"/>
<rect x="490.97" y="71.64" width="21.10" height="3.83" fill="#f99355"/>
<rect x="512.03" y="71.64" width="21.10" height="3.83" fill="#fba05b"/>
<rect x="533.08" y="71.64" width="21.10" height="3.83" fill="#fba05b"/>
<rect x="554.14" y="71.64" width="21.10" height="3.83" fill="#fba05b"/>
<rect x="575.19" y="71.64" width="21.10" height="3.83" fill="#fba05b"/>
<rect x="596.25" y="71.64" width="21.10" height="3.83" fill="#fba05b"/>
<rect x="385.70" y="75.42" width="21.10" height="3.83" fill="#daf09a"/>
<rect x="406.75" y="75.42" width="21.10" height="3.83" fill="#fba05b"/>
<rect x="427.81" y="75.42" width="21.10" height="3.83" fill="#b61b48"/>
<rect x="448.86" y="75.42" width="21.10" height="3.83" fill="#c32a4b"/>
<rect x="469.92" y="75.42" width="21.10" height="3.83" fill="#e95c47"/>
<rect x="490.97" y="75.42" width="21.10" height="3.83" fill="#f7844e"/>
<rect x="512.03" y="75.42" width="21.10" height="3.83" fill="#feec9f"/>
<rect x="533.08" y="75.42" width="21.10" height="3.83" fill="#fff8b4"/>
<rect x="554.14" y="75.42" width="21.10" height="3.83" fill="#ffffbe"/>
<rect x="575.19" y="75.42" width="21.10" height="3.83" fill="#ffffbe"/>
<rect x="596.25" y="75.42" width="21.10" height="3.83" fill="#fafdb7"/>
<rect x="385.70" y="79.20" width="21.10" height="3.83" fill="#b5e1a2"/>
<rect x="406.75" y="79.20" width="21.10" height="3.83" fill="#fee08b"/>
<rect x="427.81" y="79.20" width="21.10" height="3.83" fill="#d23a4e"/>
<rect x="448.86" y="79.20" width="21.10" height="3.83" fill="#c32a4b"/>
<rect x="469.92" y="79.20" width="21.10" height="3.83" fill="#de4c4b"/>
<rect x="490.97" y="79.20" width="21.10" height="3.83" fill="#f06744"/>
<rect x="512.03" y="79.20" width="21.10" height="3.83" fill="#fdc776"/>
<rect x="533.08" y="79.20" width="21.10" height="3.83" fill="#fff0a6"/>
<rect x="554.14" y="79.20" width="21.10" height="3.83" fill="#fff8b4"/>
<rect x="575.19" y="79.20" width="21.10" height="3.83" fill="#ffffbe"/>
<rect x="596.25" y="79.20" width="21.10" height="3.83" fill="#f0f9a7"/>
<rect x="385.70" y="82.98" width="21.10" height="3.83" fill="#8fd2a4"/>
<rect x="406.75" y="82.98" width="21.10" height="3.83" fill="#fff8b4"/>
<rect x="427.81" y="82.98" width="21.10" height="3.83" fill="#f06744"/>
<rect x="448.86" y="82.98" width="21.10" height="3.83" fill="#c32a4b"/>
<rect x="469.92" y="82.98" width="21.10" height="3.83" fill="#de4c4b"/>
<rect x="490.97" y="82.98" width="21.10" height="3.83" fill="#f06744"/>
<rect x="512.03" y="82.98" width="21.10" height="3.83" fill="#fba05b"/>
<rect x="533.08" y="82.98" width="21.10" height="3.83" fill="#fed683"/>
<rect x="554.14" y="82.98" width="21.10" height="3.83" fill="#feec9f"/>
<rect x="575.19" y="82.98" width="21.10" height="3.83" fill="#ffffbe"/>
<rect x="596.25" y="82.98" width="21.10" height="3.83" fill="#f0f9a7"/>
<rect x="385.70" y="86.75" width="21.10" height="3.83" fill="#66c2a5"/>
<rect x="406.75" y="86.75" width="21.10" height="3.83" fill="#fafdb7"/>
<rect x="427.81" y="86.75" width="21.10" height="3.83" fill="#fba05b"/>
<rect x="448.86" y="86.75" width="21.10" height="3.83" fill="#e95c47"/>
<rect x="469.92" y="86.75" width="21.10" height="3.83" fill="#f06744"/>
<rect x="490.97" y="86.75" width="21.10" height="3.83" fill="#f06744"/>
<rect x="512.03" y="86.75" width="21.10" height="3.83" fill="#f57547"/>
<rect x="533.08" y="86.75" width="21.10" height="3.83" fill="#fecc7b"/>
<rect x="554.14" y="86.75" width="21.10" height="3.83" fill="#fee08b"/>
<rect x="575.19" y="86.75" width="21.10" height="3.83" fill="#fff8b4"/>
<rect x="596.25" y="86.75" width="21.10" height="3.83" fill="#f5fbaf"/>
<rect x="385.70" y="90.53" width="21.10" height="3.83" fill="#3b92b9"/>
<rect x="406.75" y="90.53" width="21.10" height="3.83" fill="#f0f9a7"/>
<rect x="427.81" y="90.53" width="21.10" height="3.83" fill="#fee695"/>
<rect x="448.86" y="90.53" width="21.10" height="3.83" fill="#fdc776"/>
<rect x="469.92" y="90.53" width="21.10" height="3.83" fill="#fdad60"/>
<rect x="490.97" y="90.53" width="21.10" height="3.83" fill="#fba05b"/>
<rect x="512.03" y="90.53" width="21.10" height="3.83" fill="#f7844e"/>
<rect x="533.08" y="90.53" width="21.10" height="3.83" fill="#fdb768"/>
<rect x="554.14" y="90.53" width="21.10" height="3.83" fill="#fed683"/>
<rect x="575.19" y="90.53" width="21.10" height="3.83" fill="#fff6b0"/>
<rect x="596.25" y="90.53" width="21.10" height="3.83" fill="#fafdb7"/>
<rect x="385.70" y="94.31" width="21.10" height="3.83" fill="#3b7cb7"/>
<rect x="406.75" y="94.31" width="21.10" height="3.83" fill="#daf09a"/>
<rect x="427.81" y="94.31" width="21.10" height="3.83" fill="#ffffbe"/>
<rect x="448.86" y="94.31" width="21.10" height="3.83" fill="#fff8b4"/>
<rect x="469.92" y="94.31" width="21.10" height="3.83" fill="#fee695"/>
<rect x="490.97" y="94.31" width="21.10" height="3.83" fill="#fee08b"/>
<rect x="512.03" y="94.31" width="21.10" height="3.83" fill="#fed683"/>
<rect x="533.08" y="94.31" width="21.10" height="3.83" fill="#fee08b"/>
<rect x="554.14" y="94.31" width="21.10" height="3.83" fill="#feec9f"/>
<rect x="575.19" y="94.31" width="21.10" height="3.83" fill="#ffffbe"/>
<rect x="596.25" y="94.31" width="21.10" height="3.83" fill="#f5fbaf"/>
<rect x="385.70" y="98.09" width="21.10" height="3.83" fill="#496aaf"/>
<rect x="406.75" y="98.09" width="21.10" height="3.83" fill="#aadca4"/>
<rect x="427.81" y="98.09" width="21.10" height="3.83" fill="#f0f9a7"/>
<rect x="448.86" y="98.09" width="21.10" height="3.83" fill="#f3faac"/>
<rect x="469.92" y="98.09" width="21.10" height="3.83" fill="#ffffbe"/>
<rect x="490.97" y="98.09" width="21.10" height="3.83" fill="#ffffbe"/>
<rect x="512.03" y="98.09" width="21.10" height="3.83" fill="#ffffbe"/>
<rect x="533.08" y="98.09" width="21.10" height="3.83" fill="#ffffbe"/>
<rect x="554.14" y="98.09" width="21.10" height="3.83" fill="#ffffbe"/>
<rect x="575.19" y="98.09" width="21.10" height="3.83" fill="#f3faac"/>
<rect x="596.25" y="98.09" width="21.10" height="3.83" fill="#ebf7a0"/>
<rect x="385.70" y="101.87" width="21.10" height="3.83" fill="#525fa9"/>
<rect x="406.75" y="101.87" width="21.10" height="3.83" fill="#66c2a5"/>
<rect x="427.81" y="101.87" width="21.10" height="3.83" fill="#aadca4"/>
<rect x="448.86" y="101.87" width="21.10" height="3.83" fill="#c3e79f"/>
<rect x="469.92" y="101.87" width="21.10" height="3.83" fill="#ebf7a0"/>
<rect x="490.97" y="101.87" width="21.10" height="3.83" fill="#ebf7a0"/>
<rect x="512.03" y="101.87" width="21.10" height="3.83" fill="#ebf7a0"/>
<rect x="533.08" y="101.87" width="21.10" height="3.83" fill="#ebf7a0"/>
<rect x="554.14" y="101.87" width="21.10" height="3.83" fill="#ebf7a0"/>
<rect x="575.19" y="101.87" width="21.10" height="3.83" fill="#daf09a"/>
<rect x="596.25" y="101.87" width="21.10" height="3.83" fill="#c8e99e"/>
<rect x="385.70" y="105.65" width="21.10" height="3.83" fill="#5b53a4"/>
<rect x="406.75" y="105.65" width="21.10" height="3.83" fill="#3b92b9"/>
<rect x="427.81" y="105.65" width="21.10" height="3.83" fill="#66c2a5"/>
<rect x="448.86" y="105.65" width="21.10" height="3.83" fill="#81cda5"/>
<rect x="469.92" y="105.65" width="21.10" height="3.83" fill="#c3e79f"/>
<rect x="490.97" y="105.65" width="21.10" height="3.83" fill="#c8e99e"/>
<rect x="512.03" y="105.65" width="21.10" height="3.83" fill="#8fd2a4"/>
<rect x="533.08" y="105.65" width="21.10" height="3.83" fill="#8fd2a4"/>
<rect x="554.14" y="105.65" width="21.10" height="3.83" fill="#8fd2a4"/>
<rect x="575.19" y="105.65" width="21.10" height="3.83" fill="#8fd2a4"/>
<rect x="596.25" y="105.65" width="21.10" height="3.83" fill="#8fd2a4"/>
<rect x="385.70" y="109.43" width="21.10" height="3.83" fill="#5e4fa2"/>
<rect x="406.75" y="109.43" width="21.10" height="3.83" fill="#3b7cb7"/>
<rect x="427.81" y="109.43" width="21.10" height="3.83" fill="#3b92b9"/>
<rect x="448.86" y="109.43" width="21.10" height="3.83" fill="#50a9af"/>
<rect x="469.92" y="109.43" width="21.10" height="3.83" fill="#81cda5"/>
<rect x="490.97" y="109.43" width="21.10" height="3.83" fill="#86cfa5"/>
<rect x="512.03" y="109.43" width="21.10" height="3.83" fill="#56b0ad"/>
<rect x="533.08" y="109.43" width="21.10" height="3.83" fill="#56b0ad"/>
<rect x="554.14" y="109.43" width="21.10" height="3.83" fill="#56b0ad"/>
<rect x="575.19" y="109.43" width="21.10" height="3.83" fill="#56b0ad"/>
<rect x="596.25" y="109.43" width="21.10" height="3.83" fill="#56b0ad"/>
<rect x="385.70" y="113.20" width="21.10" height="3.83" fill="#555aa7"/>
<rect x="406.75" y="113.20" width="21.10" height="3.83" fill="#4471b2"/>
<rect x="427.81" y="113.20" width="21.10" height="3.83" fill="#3682ba"/>
<rect x="448.86" y="113.20" width="21.10" height="3.83" fill="#3b92b9"/>
<rect x="469.92" y="113.20" width="21.10" height="3.83" fill="#5cb7aa"/>
<rect x="490.97" y="113.20" width="21.10" height="3.83" fill="#5cb7aa"/>
<rect x="512.03" y="113.20" width="21.10" height="3.83" fill="#459eb4"/>
<rect x="533.08" y="113.20" width="21.10" height="3.83" fill="#459eb4"/>
<rect x="554.14" y="113.20" width="21.10" height="3.83" fill="#459eb4"/>
<rect x="575.19" y="113.20" width="21.10" height="3.83" fill="#459eb4"/>
<rect x="596.25" y="113.20" width="21.10" height="3.83" fill="#459eb4"/>
<rect x="385.70" y="116.98" width="21.10" height="3.83" fill="#4d65ad"/>
<rect x="406.75" y="116.98" width="21.10" height="3.83" fill="#496aaf"/>
<rect x="427.81" y="116.98" width="21.10" height="3.83" fill="#3b7cb7"/>
<rect x="448.86" y="116.98" width="21.10" height="3.83" fill="#378ebb"/>
<rect x="469.92" y="116.98" width="21.10" height="3.83" fill="#459eb4"/>
<rect x="490.97" y="116.98" width="21.10" height="3.83" fill="#4ba4b1"/>
<rect x="512.03" y="116.98" width="21.10" height="3.83" fill="#4199b6"/>
<rect x="533.08" y="116.98" width="21.10" height="3.83" fill="#4199b6"/>
<rect x="554.14" y="116.98" width="21.10" height="3.83" fill="#4199b6"/>
<rect x="575.19" y="116.98" width="21.10" height="3.83" fill="#4199b6"/>
<rect x="596.25" y="116.98" width="21.10" height="3.83" fill="#4199b6"/>
<rect x="385.70" y="120.76" width="21.10" height="3.83" fill="#4471b2"/>
<rect x="406.75" y="120.76" width="21.10" height="3.83" fill="#4175b4"/>
<rect x="427.81" y="120.76" width="21.10" height="3.83" fill="#3b7cb7"/>
<rect x="448.86" y="120.76" width="21.10" height="3.83" fill="#3b92b9"/>
<rect x="469.92" y="120.76" width="21.10" height="3.83" fill="#4199b6"/>
<rect x="490.97" y="120.76" width="21.10" height="3.83" fill="#4199b6"/>
<rect x="512.03" y="120.76" width="21.10" height="3.83" fill="#459eb4"/>
<rect x="533.08" y="120.76" width="21.10" height="3.83" fill="#459eb4"/>
<rect x="554.14" y="120.76" width="21.10" height="3.83" fill="#459eb4"/>
<rect x="575.19" y="120.76" width="21.10" height="3.83" fill="#459eb4"/>
<rect x="596.25" y="120.76" width="21.10" height="3.83" fill="#459eb4"/>
<rect x="385.70" y="124.54" width="21.10" height="3.83" fill="#3b7cb7"/>
<rect x="406.75" y="124.54" width="21.10" height="3.83" fill="#3682ba"/>
<rect x="427.81" y="124.54" width="21.10" height="3.83" fill="#3387bc"/>
<rect x="448.86" y="124.54" width="21.10" height="3.83" fill="#4ba4b1"/>
<rect x="469.92" y="124.54" width="21.10" height="3.83" fill="#4ba4b1"/>
<rect x="490.97" y="124.54" width="21.10" height="3.83" fill="#4ba4b1"/>
<rect x="512.03" y="124.54" width="21.10" height="3.83" fill="#56b0ad"/>
<rect x="533.08" y="124.54" width="21.10" height="3.83" fill="#56b0ad"/>
<rect x="554.14" y="124.54" width="21.10" height="3.83" fill="#56b0ad"/>
<rect x="575.19" y="124.54" width="21.10" height="3.83" fill="#56b0ad"/>
<rect x="596.25" y="124.54" width="21.10" height="3.83" fill="#56b0ad"/>
<rect x="385.70" y="128.32" width="21.10" height="3.83" fill="#3387bc"/>
<rect x="406.75" y="128.32" width="21.10" height="3.83" fill="#4199b6"/>
<rect x="427.81" y="128.32" width="21.10" height="3.83" fill="#4199b6"/>
<rect x="448.86" y="128.32" width="21.10" height="3.83" fill="#5cb7aa"/>
<rect x="469.92" y="128.32" width="21.10" height="3.83" fill="#5cb7aa"/>
<rect x="490.97" y="128.32" width="21.10" height="3.83" fill="#5cb7aa"/>
<rect x="512.03" y="128.32" width="21.10" height="3.83" fill="#74c7a5"/>
<rect x="533.08" y="128.32" width="21.10" height="3.83" fill="#74c7a5"/>
<rect x="554.14" y="128.32" width="21.10" height="3.83" fill="#74c7a5"/>
<rect x="575.19" y="128.32" width="21.10" height="3.83" fill="#74c7a5"/>
<rect x="596.25" y="128.32" width="21.10" height="3.83" fill="#74c7a5"/>
<rect x="385.70" y="132.10" width="21.10" height="3.83" fill="#3b92b9"/>
<rect x="406.75" y="132.10" width="21.10" height="3.83" fill="#50a9af"/>
<rect x="427.81" y="132.10" width="21.10" height="3.83" fill="#50a9af"/>
<rect x="448.86" y="132.10" width="21.10" height="3.83" fill="#74c7a5"/>
<rect x="469.92" y="132.10" width="21.10" height="3.83" fill="#74c7a5"/>
<rect x="490.97" y="132.10" width="21.10" height="3.83" fill="#74c7a5"/>
<rect x="512.03" y="132.10" width="21.10" height="3.83" fill="#97d5a4"/>
<rect x="533.08" y="132.10" width="21.10" height="3.83" fill="#97d5a4"/>
<rect x="554.14" y="132.10" width="21.10" height="3.83" fill="#97d5a4"/>
<rect x="575.19" y="132.10" width="21.10" height="3.83" fill="#97d5a4"/>
<rect x="596.25" y="132.10" width="21.10" height="3.83" fill="#97d5a4"/>
<rect x="385.70" y="135.87" width="21.10" height="3.83" fill="#459eb4"/>
<rect x="406.75" y="135.87" width="21.10" height="3.83" fill="#66c2a5"/>
<rect x="427.81" y="135.87" width="21.10" height="3.83" fill="#66c2a5"/>
<rect x="448.86" y="135.87" width="21.10" height="3.83" fill="#8fd2a4"/>
<rect x="469.92" y="135.87" width="21.10" height="3.83" fill="#8fd2a4"/>
<rect x="490.97" y="135.87" width="21.10" height="3.83" fill="#8fd2a4"/>
<rect x="512.03" y="135.87" width="21.10" height="3.83" fill="#aadca4"/>
<rect x="533.08" y="135.87" width="21.10" height="3.83" fill="#aadca4"/>
<rect x="554.14" y="135.87" width="21.10" height="3.83" fill="#aadca4"/>
<rect x="575.19" y="135.87" width="21.10" height="3.83" fill="#aadca4"/>
<rect x="596.25" y="135.87" width="21.10" height="3.83" fill="#aadca4"/>
<rect x="385.70" y="139.65" width="21.10" height="3.83" fill="#66c2a5"/>
<rect x="406.75" y="139.65" width="21.10" height="3.83" fill="#86cfa5"/>
<rect x="427.81" y="139.65" width="21.10" height="3.83" fill="#86cfa5"/>
<rect x="448.86" y="139.65" width="21.10" height="3.83" fill="#aadca4"/>
<rect x="469.92" y="139.65" width="21.10" height="3.83" fill="#aadca4"/>
<rect x="490.97" y="139.65" width="21.10" height="3.83" fill="#aadca4"/>
<rect x="512.03" y="139.65" width="21.10" height="3.83" fill="#c3e79f"/>
<rect x="533.08" y="139.65" width="21.10" height="3.83" fill="#c3e79f"/>
<rect x="554.14" y="139.65" width="21.10" height="3.83" fill="#c3e79f"/>
<rect x="575.19" y="139.65" width="21.10" height="3.83" fill="#c3e79f"/>
<rect x="596.25" y="139.65" width="21.10" height="3.83" fill="#c3e79f"/>
<rect x="385.70" y="143.43" width="21.10" height="3.83" fill="#86cfa5"/>
<rect x="406.75" y="143.43" width="21.10" height="3.83" fill="#aadca4"/>
<rect x="427.81" y="143.43" width="21.10" height="3.83" fill="#aadca4"/>
<rect x="448.86" y="143.43" width="21.10" height="3.83" fill="#c3e79f"/>
<rect x="469.92" y="143.43" width="21.10" height="3.83" fill="#c3e79f"/>
<rect x="490.97" y="143.43" width="21.10" height="3.83" fill="#c3e79f"/>
<rect x="512.03" y="143.43" width="21.10" height="3.83" fill="#daf09a"/>
<rect x="533.08" y="143.43" width="21.10" height="3.83" fill="#daf09a"/>
<rect x="554.14" y="143.43" width="21.10" height="3.83" fill="#daf09a"/>
<rect x="575.19" y="143.43" width="21.10" height="3.83" fill="#daf09a"/>
<rect x="596.25" y="143.43" width="21.10" height="3.83" fill="#daf09a"/>
<rect x="385.70" y="147.21" width="21.10" height="3.83" fill="#aadca4"/>
<rect x="406.75" y="147.21" width="21.10" height="3.83" fill="#c3e79f"/>
<rect x="427.81" y="147.21" width="21.10" height="3.83" fill="#c3e79f"/>
<rect x="448.86" y="147.21" width="21.10" height="3.83" fill="#daf09a"/>
<rect x="469.92" y="147.21" width="21.10" height="3.83" fill="#daf09a"/>
<rect x="490.97" y="147.21" width="21.10" height="3.83" fill="#daf09a"/>
<rect x="512.03" y="147.21" width="21.10" height="3.83" fill="#e8f69b"/>
<rect x="533.08" y="147.21" width="21.10" height="3.83" fill="#e8f69b"/>
<rect x="554.14" y="147.21" width="21.10" height="3.83" fill="#e8f69b"/>
<rect x="575.19" y="147.21" width="21.10" height="3.83" fill="#e8f69b"/>
<rect x="596.25" y="147.21" width="21.10" height="3.83" fill="#e8f69b"/>
<rect x="385.70" y="150.99" width="21.10" height="3.83" fill="#cfec9d"/>
<rect x="406.75" y="150.99" width="21.10" height="3.83" fill="#daf09a"/>
<rect x="427.81" y="150.99" width="21.10" height="3.83" fill="#daf09a"/>
<rect x="448.86" y="150.99" width="21.10" height="3.83" fill="#ebf7a0"/>
<rect x="469.92" y="150.99" width="21.10" height="3.83" fill="#ebf7a0"/>
<rect x="490.97" y="150.99" width="21.10" height="3.83" fill="#ebf7a0"/>
<rect x="512.03" y="150.99" width="21.10" height="3.83" fill="#f0f9a7"/>
<rect x="533.08" y="150.99" width="21.10" height="3.83" fill="#f0f9a7"/>
<rect x="554.14" y="150.99" width="21.10" height="3.83" fill="#f0f9a7"/>
<rect x="575.19" y="150.99" width="21.10" height="3.83" fill="#f0f9a7"/>
<rect x="596.25" y="150.99" width="21.10" height="3.83" fill="#f0f9a7"/>
<rect x="385.70" y="154.77" width="21.10" height="3.83" fill="#ebf7a0"/>
<rect x="406.75" y="154.77" width="21.10" height="3.83" fill="#eef8a4"/>
<rect x="427.81" y="154.77" width="21.10" height="3.83" fill="#eef8a4"/>
<rect x="448.86" y="154.77" width="21.10" height="3.83" fill="#f3faac"/>
<rect x="469.92" y="154.77" width="21.10" height="3.83" fill="#f3faac"/>
<rect x="490.97" y="154.77" width="21.10" height="3.83" fill="#f3faac"/>
<rect x="512.03" y="154.77" width="21.10" height="3.83" fill="#f8fcb4"/>
<rect x="533.08" y="154.77" width="21.10" height="3.83" fill="#f8fcb4"/>
<rect x="554.14" y="154.77" width="21.10" height="3.83" fill="#f8fcb4"/>
<rect x="575.19" y="154.77" width="21.10" height="3.83" fill="#f8fcb4"/>
<rect x="596.25" y="154.77" width="21.10" height="3.83" fill="#f8fcb4"/>
<rect x="385.70" y="158.55" width="21.10" height="3.83" fill="#f8fcb4"/>
<rect x="406.75" y="158.55" width="21.10" height="3.83" fill="#f8fcb4"/>
<rect x="427.81" y="158.55" width="21.10" height="3.83" fill="#f8fcb4"/>
<rect x="448.86" y="158.55" width="21.10" height="3.83" fill="#fafdb7"/>
<rect x="469.92" y="158.55" width="21.10" height="3.83" fill="#fafdb7"/>
<rect x="490.97" y="158.55" width="21.10" height="3.83" fill="#fafdb7"/>
<rect x="512.03" y="158.55" width="21.10" height="3.83" fill="#fdfebb"/>
<rect x="533.08" y="158.55" width="21.10" height="3.83" fill="#fdfebb"/>
<rect x="554.14" y="158.55" width="21.10" height="3.83" fill="#fdfebb"/>
<rect x="575.19" y="158.55" width="21.10" height="3.83" fill="#fdfebb"/>
<rect x="596.25" y="158.55" width="21.10" height="3.83" fill="#fdfebb"/>
<rect x="385.70" y="162.32" width="21.10" height="3.83" fill="#ffffbe"/>
<rect x="406.75" y="162.32" width="21.10" height="3.83" fill="#ffffbe"/>
<rect x="427.81" y="162.32" width="21.10" height="3.83" fill="#ffffbe"/>
<rect x="448.86" y="162.32" width="21.10" height="3.83" fill="#ffffbe"/>
<rect x="469.92" y="162.32" width="21.10" height="3.83" fill="#ffffbe"/>
<rect x="490.97" y="162.32" width="21.10" height="3.83" fill="#ffffbe"/>
<rect x="512.03" y="162.32" width="21.10" height="3.83" fill="#ffffbe"/>
<rect x="533.08" y="162.32" width="21.10" height="3.83" fill="#ffffbe"/>
<rect x="554.14" y="162.32" width="21.10" height="3.83" fill="#ffffbe"/>
<rect x="575.19" y="162.32" width="21.10" height="3.83" fill="#ffffbe"/>
<rect x="596.25" y="162.32" width="21.10" height="3.83" fill="#ffffbe"/>
<rect x="385.70" y="166.10" width="21.10" height="3.83" fill="#fff8b4"/>
<rect x="406.75" y="166.10" width="21.10" height="3.83" fill="#fff8b4"/>
<rect x="427.81" y="166.10" width="21.10" height="3.83" fill="#fff8b4"/>
<rect x="448.86" y="166.10" width="21.10" height="3.83" fill="#fff8b4"/>
<rect x="469.92" y="166.10" width="21.10" height="3.83" fill="#fff8b4"/>
<rect x="490.97" y="166.10" width="21.10" height="3.83" fill="#fff8b4"/>
<rect x="512.03" y="166.10" width="21.10" height="3.83" fill="#fff8b4"/>
<rect x="533.08" y="166.10" width="21.10" height="3.83" fill="#fff8b4"/>
<rect x="554.14" y="166.10" width="21.10" height="3.83" fill="#fff8b4"/>
<rect x="575.19" y="166.10" width="21.10" height="3.83" fill="#fff8b4"/>
<rect x="596.25" y="166.10" width="21.10" height="3.83" fill="#fff8b4"/>
<rect x="385.70" y="169.88" width="21.10" height="3.83" fill="#feec9f"/>
<rect x="406.75" y="169.88" width="21.10" height="3.83" fill="#fff0a6"/>
<rect x="427.81" y="169.88" width="21.10" height="3.83" fill="#fff0a6"/>
<rect x="448.86" y="169.88" width="21.10" height="3.83" fill="#fff8b4"/>
<rect x="469.92" y="169.88" width="21.10" height="3.83" fill="#fff8b4"/>
<rect x="490.97" y="169.88" width="21.10" height="3.83" fill="#ffffbe"/>
<rect x="512.03" y="169.88" width="21.10" height="3.83" fill="#fff8b4"/>
<rect x="533.08" y="169.88" width="21.10" height="3.83" fill="#fff8b4"/>
<rect x="554.14" y="169.88" width="21.10" height="3.83" fill="#fff8b4"/>
<rect x="575.19" y="169.88" width="21.10" height="3.83" fill="#ffffbe"/>
<rect x="596.25" y="169.88" width="21.10" height="3.83" fill="#ffffbe"/>
<rect x="385.70" y="173.66" width="21.10" height="3.83" fill="#fee08b"/>
<rect x="406.75" y="173.66" width="21.10" height="3.83" fill="#fee695"/>
<rect x="427.81" y="173.66" width="21.10" height="3.83" fill="#feea9b"/>
<rect x="448.86" y="173.66" width="21.10" height="3.83" fill="#fff0a6"/>
<rect x="469.92" y="173.66" width="21.10" height="3.83" fill="#fff2aa"/>
<rect x="490.97" y="173.66" width="21.10" height="3.83" fill="#fff8b4"/>
<rect x="512.03" y="173.66" width="21.10" height="3.83" fill="#fff6b0"/>
<rect x="533.08" y="173.66" width="21.10" height="3.83" fill="#fff6b0"/>
<rect x="554.14" y="173.66" width="21.10" height="3.83" fill="#fff6b0"/>
<rect x="575.19" y="173.66" width="21.10" height="3.83" fill="#fffcba"/>
<rect x="596.25" y="173.66" width="21.10" height="3.83" fill="#fffcba"/>
<rect x="385.70" y="177.44" width="21.10" height="3.83" fill="#fdc776"/>
<rect x="406.75" y="177.44" width="21.10" height="3.83" fill="#fed07e"/>
<rect x="427.81" y="177.44" width="21.10" height="3.83" fill="#fee08b"/>
<rect x="448.86" y="177.44" width="21.10" height="3.83" fill="#fee695"/>
<rect x="469.92" y="177.44" width="21.10" height="3.83" fill="#feea9b"/>
<rect x="490.97" y="177.44" width="21.10" height="3.83" fill="#fff0a6"/>
<rect x="512.03" y="177.44" width="21.10" height="3.83" fill="#fff0a6"/>
<rect x="533.08" y="177.44" width="21.10" height="3.83" fill="#fff2aa"/>
<rect x="554.14" y="177.44" width="21.10" height="3.83" fill="#fff2aa"/>
<rect x="575.19" y="177.44" width="21.10" height="3.83" fill="#fff8b4"/>
<rect x="596.25" y="177.44" width="21.10" height="3.83" fill="#fff8b4"/>
<rect x="385.70" y="181.22" width="21.10" height="3.83" fill="#fba05b"/>
<rect x="406.75" y="181.22" width="21.10" height="3.83" fill="#fdad60"/>
<rect x="427.81" y="181.22" width="21.10" height="3.83" fill="#fdc372"/>
<rect x="448.86" y="181.22" width="21.10" height="3.83" fill="#fed683"/>
<rect x="469.92" y="181.22" width="21.10" height="3.83" fill="#fee08b"/>
<rect x="490.97" y="181.22" width="21.10" height="3.83" fill="#fee695"/>
<rect x="512.03" y="181.22" width="21.10" height="3.83" fill="#feea9b"/>
<rect x="533.08" y="181.22" width="21.10" height="3.83" fill="#feec9f"/>
<rect x="554.14" y="181.22" width="21.10" height="3.83" fill="#feec9f"/>
<rect x="575.19" y="181.22" width="21.10" height="3.83" fill="#fff6b0"/>
<rect x="596.25" y="181.22" width="21.10" height="3.83" fill="#fff6b0"/>
<rect x="385.70" y="184.99" width="21.10" height="3.83" fill="#f57547"/>
<rect x="406.75" y="184.99" width="21.10" height="3.83" fill="#f98e52"/>
<rect x="427.81" y="184.99" width="21.10" height="3.83" fill="#fba05b"/>
<rect x="448.86" y="184.99" width="21.10" height="3.83" fill="#fdb768"/>
<rect x="469.92" y="184.99" width="21.10" height="3.83" fill="#fdc372"/>
<rect x="490.97" y="184.99" width="21.10" height="3.83" fill="#fed683"/>
<rect x="512.03" y="184.99" width="21.10" height="3.83" fill="#fee08b"/>
<rect x="533.08" y="184.99" width="21.10" height="3.83" fill="#fee695"/>
<rect x="554.14" y="184.99" width="21.10" height="3.83" fill="#fee695"/>
<rect x="575.19" y="184.99" width="21.10" height="3.83" fill="#fff2aa"/>
<rect x="596.25" y="184.99" width="21.10" height="3.83" fill="#fff2aa"/>
<rect x="385.70" y="188.77" width="21.10" height="3.83" fill="#e95c47"/>
<rect x="406.75" y="188.77" width="21.10" height="3.83" fill="#f06744"/>
<rect x="427.81" y="188.77" width="21.10" height="3.83" fill="#f7844e"/>
<rect x="448.86" y="188.77" width="21.10" height="3.83" fill="#f99355"/>
<rect x="469.92" y="188.77" width="21.10" height="3.83" fill="#fba05b"/>
<rect x="490.97" y="188.77" width="21.10" height="3.83" fill="#fdb768"/>
<rect x="512.03" y="188.77" width="21.10" height="3.83" fill="#fed683"/>
<rect x="533.08" y="188.77" width="21.10" height="3.83" fill="#fee08b"/>
<rect x="554.14" y="188.77" width="21.10" height="3.83" fill="#fee08b"/>
<rect x="575.19" y="188.77" width="21.10" height="3.83" fill="#fff0a6"/>
<rect x="596.25" y="188.77" width="21.10" height="3.83" fill="#fff0a6"/>
<rect x="385.70" y="192.55" width="21.10" height="3.83" fill="#da464d"/>
<rect x="406.75" y="192.55" width="21.10" height="3.83" fill="#e2514a"/>
<rect x="427.81" y="192.55" width="21.10" height="3.83" fill="#f06744"/>
<rect x="448.86" y="192.55" width="21.10" height="3.83" fill="#f57547"/>
<rect x="469.92" y="192.55" width="21.10" height="3.83" fill="#f7844e"/>
<rect x="490.97" y="192.55" width="21.10" height="3.83" fill="#fba05b"/>
<rect x="512.03" y="192.55" width="21.10" height="3.83" fill="#fdc372"/>
<rect x="533.08" y="192.55" width="21.10" height="3.83" fill="#fed07e"/>
<rect x="554.14" y="192.55" width="21.10" height="3.83" fill="#fed07e"/>
<rect x="575.19" y="192.55" width="21.10" height="3.83" fill="#feea9b"/>
<rect x="596.25" y="192.55" width="21.10" height="3.83" fill="#feea9b"/>
<rect x="385.70" y="196.33" width="21.10" height="3.83" fill="#c32a4b"/>
<rect x="406.75" y="196.33" width="21.10" height="3.83" fill="#d23a4e"/>
<rect x="427.81" y="196.33" width="21.10" height="3.83" fill="#e2514a"/>
<rect x="448.86" y="196.33" width="21.10" height="3.83" fill="#f06744"/>
<rect x="469.92" y="196.33" width="21.10" height="3.83" fill="#f57547"/>
<rect x="490.97" y="196.33" width="21.10" height="3.83" fill="#f98e52"/>
<rect x="512.03" y="196.33" width="21.10" height="3.83" fill="#fdad60"/>
<rect x="533.08" y="196.33" width="21.10" height="3.83" fill="#fdc372"/>
<rect x="554.14" y="196.33" width="21.10" height="3.83" fill="#fdc372"/>
<rect x="575.19" y="196.33" width="21.10" height="3.83" fill="#fee695"/>
<rect x="596.25" y="196.33" width="21.10" height="3.83" fill="#fee695"/>
<rect x="385.70" y="200.11" width="21.10" height="3.83" fill="#af1446"/>
<rect x="406.75" y="200.11" width="21.10" height="3.83" fill="#c32a4b"/>
<rect x="427.81" y="200.11" width="21.10" height="3.83" fill="#d23a4e"/>
<rect x="448.86" y="200.11" width="21.10" height="3.83" fill="#e95c47"/>
<rect x="469.92" y="200.11" width="21.10" height="3.83" fill="#f06744"/>
<rect x="490.97" y="200.11" width="21.10" height="3.83" fill="#f57547"/>
<rect x="512.03" y="200.11" width="21.10" height="3.83" fill="#fa9b58"/>
<rect x="533.08" y="200.11" width="21.10" height="3.83" fill="#fdb365"/>
<rect x="554.14" y="200.11" width="21.10" height="3.83" fill="#fdb365"/>
<rect x="575.19" y="200.11" width="21.10" height="3.83" fill="#fee08b"/>
<rect x="596.25" y="200.11" width="21.10" height="3.83" fill="#fee08b"/>
<rect x="385.70" y="203.89" width="21.10" height="3.83" fill="#a20643"/>
<rect x="406.75" y="203.89" width="21.10" height="3.83" fill="#af1446"/>
<rect x="427.81" y="203.89" width="21.10" height="3.83" fill="#c32a4b"/>
<rect x="448.86" y="203.89" width="21.10" height="3.83" fill="#de4c4b"/>
<rect x="469.92" y="203.89" width="21.10" height="3.83" fill="#e95c47"/>
<rect x="490.97" y="203.89" width="21.10" height="3.83" fill="#f06744"/>
<rect x="512.03" y="203.89" width="21.10" height="3.83" fill="#f7844e"/>
<rect x="533.08" y="203.89" width="21.10" height="3.83" fill="#fba05b"/>
<rect x="554.14" y="203.89" width="21.10" height="3.83" fill="#fba05b"/>
<rect x="575.19" y="203.89" width="21.10" height="3.83" fill="#fed07e"/>
<rect x="596.25" y="203.89" width="21.10" height="3.83" fill="#fed07e"/>
<rect x="385.70" y="207.66" width="21.10" height="3.83" fill="#9e0142"/>
<rect x="406.75" y="207.66" width="21.10" height="3.83" fill="#a20643"/>
<rect x="427.81" y="207.66" width="21.10" height="3.83" fill="#b61b48"/>
<rect x="448.86" y="207.66" width="21.10" height="3.83" fill="#d23a4e"/>
<rect x="469.92" y="207.66" width="21.10" height="3.83" fill="#de4c4b"/>
<rect x="490.97" y="207.66" width="21.10" height="3.83" fill="#e95c47"/>
<rect x="512.03" y="207.66" width="21.10" height="3.83" fill="#f06744"/>
<rect x="533.08" y="207.66" width="21.10" height="3.83" fill="#f99355"/>
<rect x="554.14" y="207.66" width="21.10" height="3.83" fill="#f99355"/>
<rect x="575.19" y="207.66" width="21.10" height="3.83" fill="#fdc372"/>
<rect x="596.25" y="207.66" width="21.10" height="3.83" fill="#fdc372"/>
<rect x="385.70" y="211.44" width="21.10" height="3.83" fill="#a20643"/>
<rect x="406.75" y="211.44" width="21.10" height="3.83" fill="#9e0142"/>
<rect x="427.81" y="211.44" width="21.10" height="3.83" fill="#a90d45"/>
<rect x="448.86" y="211.44" width="21.10" height="3.83" fill="#c32a4b"/>
<rect x="469.92" y="211.44" width="21.10" height="3.83" fill="#d23a4e"/>
<rect x="490.97" y="211.44" width="21.10" height="3.83" fill="#e2514a"/>
<rect x="512.03" y="211.44" width="21.10" height="3.83" fill="#e95c47"/>
<rect x="533.08" y="211.44" width="21.10" height="3.83" fill="#f7844e"/>
<rect x="554.14" y="211.44" width="21.10" height="3.83" fill="#f7844e"/>
<rect x="575.19" y="211.44" width="21.10" height="3.83" fill="#fdb365"/>
<rect x="596.25" y="211.44" width="21.10" height="3.83" fill="#fdb365"/>
<rect x="385.70" y="215.22" width="21.10" height="3.83" fill="#c32a4b"/>
<rect x="406.75" y="215.22" width="21.10" height="3.83" fill="#9e0142"/>
<rect x="427.81" y="215.22" width="21.10" height="3.83" fill="#a20643"/>
<rect x="448.86" y="215.22" width="21.10" height="3.83" fill="#b61b48"/>
<rect x="469.92" y="215.22" width="21.10" height="3.83" fill="#c32a4b"/>
<rect x="490.97" y="215.22" width="21.10" height="3.83" fill="#da464d"/>
<rect x="512.03" y="215.22" width="21.10" height="3.83" fill="#de4c4b"/>
<rect x="533.08" y="215.22" width="21.10" height="3.83" fill="#f57547"/>
<rect x="554.14" y="215.22" width="21.10" height="3.83" fill="#f57547"/>
<rect x="575.19" y="215.22" width="21.10" height="3.83" fill="#fba05b"/>
<rect x="596.25" y="215.22" width="21.10" height="3.83" fill="#fba05b"/>
</g>
<polygon points="231.5,219 282.8,165.5 282.8,219" fill="#a2a29c" fill-opacity="0.66"/>
<line x1="51.5" y1="140" x2="185" y2="103.3" stroke="#000" stroke-width="1.8" stroke-dasharray="6.6,5.4" stroke-dashoffset="-1.5"/>
<line x1="51.5" y1="166.3" x2="167.5" y2="131.2" stroke="#000" stroke-width="1.8" stroke-dasharray="5,2.1"/>
<line x1="90" y1="219" x2="266" y2="26.6" stroke="#fff" stroke-width="1.3" stroke-dasharray="4,2.6"/>
<text x="0" y="0" font-size="9.7" fill="#111" transform="translate(68.5,131) rotate(-17.5)">Magnetic Fano Mode</text>
<text x="0" y="0" font-size="9.7" fill="#111" transform="translate(67.5,174.5) rotate(-17.5)">Electric Fano Mode</text>
<text x="0" y="0" class="w" font-size="11" fill="#fff" transform="translate(206.5,110.5) rotate(-46.5)">&lt; 1, 0 &gt; diffraction</text>
<rect x="170.9" y="155.9" width="54.2" height="54.2" fill="none" stroke="#8a8a8a" stroke-width="1.6" stroke-dasharray="6,5" stroke-dashoffset="-1"/>
<rect x="178.7" y="163.7" width="38.9" height="38.5" fill="none" stroke="#000" stroke-width="1.8"/>
<circle cx="197.9" cy="175.2" r="6.3" fill="#d9a000"/>
<circle cx="189.2" cy="189.4" r="6.3" fill="#d9a000"/>
<circle cx="206.8" cy="189.4" r="6.3" fill="#d9a000"/>
<line x1="178.7" y1="163.7" x2="171.5" y2="156.5" stroke="#888" stroke-width="1.3"/>
<polyline points="177.0,156.5 171.5,156.5 171.5,162.0" fill="none" stroke="#888" stroke-width="1.6"/>
<line x1="217.6" y1="163.7" x2="224.5" y2="156.5" stroke="#888" stroke-width="1.3"/>
<polyline points="219.0,156.5 224.5,156.5 224.5,162.0" fill="none" stroke="#888" stroke-width="1.6"/>
<line x1="178.7" y1="202.2" x2="171.5" y2="209.5" stroke="#888" stroke-width="1.3"/>
<polyline points="177.0,209.5 171.5,209.5 171.5,204.0" fill="none" stroke="#888" stroke-width="1.6"/>
<line x1="217.6" y1="202.2" x2="224.5" y2="209.5" stroke="#888" stroke-width="1.3"/>
<polyline points="219.0,209.5 224.5,209.5 224.5,204.0" fill="none" stroke="#888" stroke-width="1.6"/>
<rect x="51.5" y="26.3" width="231.3" height="192.7" fill="none" stroke="#111" stroke-width="1"/>
<line x1="58.70" y1="26.3" x2="58.70" y2="29.3" stroke="#333" stroke-width="0.8"/>
<line x1="89.60" y1="26.3" x2="89.60" y2="29.3" stroke="#333" stroke-width="0.8"/>
<line x1="120.50" y1="26.3" x2="120.50" y2="29.3" stroke="#333" stroke-width="0.8"/>
<line x1="151.40" y1="26.3" x2="151.40" y2="29.3" stroke="#333" stroke-width="0.8"/>
<line x1="182.30" y1="26.3" x2="182.30" y2="29.3" stroke="#333" stroke-width="0.8"/>
<line x1="213.20" y1="26.3" x2="213.20" y2="29.3" stroke="#333" stroke-width="0.8"/>
<line x1="244.10" y1="26.3" x2="244.10" y2="29.3" stroke="#333" stroke-width="0.8"/>
<line x1="275.00" y1="26.3" x2="275.00" y2="29.3" stroke="#333" stroke-width="0.8"/>
<path d="M 401.5 26.3 C 403.4 28.3, 408.3 34.2, 413.0 38.5 C 417.7 42.8, 423.0 47.8, 429.5 52.0 C 436.0 56.2, 444.5 60.4, 451.9 63.5 C 459.3 66.6, 464.8 68.1, 474.0 70.5 C 483.2 72.9, 496.0 75.9, 507.0 78.0 C 518.0 80.1, 529.5 81.6, 540.0 83.0 C 550.5 84.4, 560.8 85.7, 570.0 86.3 C 579.2 86.9, 587.2 87.1, 595.0 86.6 C 602.8 86.1, 613.3 84.0, 617.0 83.5" fill="none" stroke="#000" stroke-width="1.8" stroke-dasharray="6.5,5.4"/>
<line x1="386" y1="121.4" x2="617" y2="118" stroke="#000" stroke-width="1.7" stroke-dasharray="4.5,2.3"/>
<text x="0" y="0" font-size="9.5" fill="#111" transform="translate(476,62) rotate(12)">Magnetic Fano Mode</text>
<text x="457.30" y="135.60" font-size="9.50" text-anchor="start" fill="#111" >Electric Fano Mode</text>
<rect x="525.9" y="157.9" width="52.6" height="52.3" fill="none" stroke="#000" stroke-width="1.7"/>
<circle cx="552.1" cy="171.2" r="6.2" fill="#d8a800" fill-opacity="0.5"/>
<circle cx="552.1" cy="178.4" r="6.2" fill="#d4a200" fill-opacity="0.9"/>
<circle cx="537.2" cy="196.2" r="6.2" fill="#d8a800" fill-opacity="0.5"/>
<circle cx="543.1" cy="192.2" r="6.2" fill="#d4a200" fill-opacity="0.9"/>
<circle cx="566.8" cy="196.2" r="6.2" fill="#d8a800" fill-opacity="0.5"/>
<circle cx="560.9" cy="192.2" r="6.2" fill="#d4a200" fill-opacity="0.9"/>
<line x1="552.10" y1="178.40" x2="552.10" y2="171.80" stroke="#74808c" stroke-width="1.1"/>
<polygon points="552.10,167.60 553.70,171.80 550.50,171.80" fill="#74808c"/>
<line x1="543.10" y1="192.20" x2="539.22" y2="196.49" stroke="#74808c" stroke-width="1.1"/>
<polygon points="536.40,199.60 538.03,195.41 540.41,197.56" fill="#74808c"/>
<line x1="560.90" y1="192.20" x2="565.02" y2="196.85" stroke="#74808c" stroke-width="1.1"/>
<polygon points="567.80,200.00 563.82,197.91 566.22,195.79" fill="#74808c"/>
<rect x="385.7" y="26.3" width="231.6" height="192.7" fill="none" stroke="#111" stroke-width="1"/>
<line x1="417.70" y1="219" x2="417.70" y2="215.8" stroke="#111" stroke-width="0.8"/>
<line x1="417.70" y1="26.3" x2="417.70" y2="29.5" stroke="#111" stroke-width="0.8"/>
<line x1="459.77" y1="219" x2="459.77" y2="215.8" stroke="#111" stroke-width="0.8"/>
<line x1="459.77" y1="26.3" x2="459.77" y2="29.5" stroke="#111" stroke-width="0.8"/>
<line x1="501.85" y1="219" x2="501.85" y2="215.8" stroke="#111" stroke-width="0.8"/>
<line x1="501.85" y1="26.3" x2="501.85" y2="29.5" stroke="#111" stroke-width="0.8"/>
<line x1="543.92" y1="219" x2="543.92" y2="215.8" stroke="#111" stroke-width="0.8"/>
<line x1="543.92" y1="26.3" x2="543.92" y2="29.5" stroke="#111" stroke-width="0.8"/>
<line x1="586.00" y1="219" x2="586.00" y2="215.8" stroke="#111" stroke-width="0.8"/>
<line x1="586.00" y1="26.3" x2="586.00" y2="29.5" stroke="#111" stroke-width="0.8"/>
<line x1="385.7" y1="28.20" x2="388.9" y2="28.20" stroke="#111" stroke-width="0.8"/>
<line x1="617.3" y1="28.20" x2="614.1" y2="28.20" stroke="#111" stroke-width="0.8"/>
<line x1="385.7" y1="66.00" x2="388.9" y2="66.00" stroke="#111" stroke-width="0.8"/>
<line x1="617.3" y1="66.00" x2="614.1" y2="66.00" stroke="#111" stroke-width="0.8"/>
<line x1="385.7" y1="103.80" x2="388.9" y2="103.80" stroke="#111" stroke-width="0.8"/>
<line x1="617.3" y1="103.80" x2="614.1" y2="103.80" stroke="#111" stroke-width="0.8"/>
<line x1="385.7" y1="141.60" x2="388.9" y2="141.60" stroke="#111" stroke-width="0.8"/>
<line x1="617.3" y1="141.60" x2="614.1" y2="141.60" stroke="#111" stroke-width="0.8"/>
<line x1="385.7" y1="179.40" x2="388.9" y2="179.40" stroke="#111" stroke-width="0.8"/>
<line x1="617.3" y1="179.40" x2="614.1" y2="179.40" stroke="#111" stroke-width="0.8"/>
<line x1="385.7" y1="217.20" x2="388.9" y2="217.20" stroke="#111" stroke-width="0.8"/>
<line x1="617.3" y1="217.20" x2="614.1" y2="217.20" stroke="#111" stroke-width="0.8"/>
<rect x="297.10" y="26.30" width="9.50" height="1.66" fill="#a00343"/>
<rect x="297.10" y="27.91" width="9.50" height="1.66" fill="#a40844"/>
<rect x="297.10" y="29.52" width="9.50" height="1.66" fill="#a90d45"/>
<rect x="297.10" y="31.12" width="9.50" height="1.66" fill="#ad1246"/>
<rect x="297.10" y="32.73" width="9.50" height="1.66" fill="#b11747"/>
<rect x="297.10" y="34.34" width="9.50" height="1.66" fill="#b61b48"/>
<rect x="297.10" y="35.95" width="9.50" height="1.66" fill="#ba2049"/>
<rect x="297.10" y="37.56" width="9.50" height="1.66" fill="#c1274a"/>
<rect x="297.10" y="39.17" width="9.50" height="1.66" fill="#c52c4b"/>
<rect x="297.10" y="40.78" width="9.50" height="1.66" fill="#c9314c"/>
<rect x="297.10" y="42.38" width="9.50" height="1.66" fill="#cd364d"/>
<rect x="297.10" y="43.99" width="9.50" height="1.66" fill="#d23a4e"/>
<rect x="297.10" y="45.60" width="9.50" height="1.66" fill="#d63f4f"/>
<rect x="297.10" y="47.21" width="9.50" height="1.66" fill="#d8434e"/>
<rect x="297.10" y="48.82" width="9.50" height="1.66" fill="#da464d"/>
<rect x="297.10" y="50.42" width="9.50" height="1.66" fill="#de4c4b"/>
<rect x="297.10" y="52.03" width="9.50" height="1.66" fill="#e1504b"/>
<rect x="297.10" y="53.64" width="9.50" height="1.66" fill="#e3534a"/>
<rect x="297.10" y="55.25" width="9.50" height="1.66" fill="#e55749"/>
<rect x="297.10" y="56.86" width="9.50" height="1.66" fill="#e85b48"/>
<rect x="297.10" y="58.47" width="9.50" height="1.66" fill="#ea5e47"/>
<rect x="297.10" y="60.08" width="9.50" height="1.66" fill="#ed6246"/>
<rect x="297.10" y="61.68" width="9.50" height="1.66" fill="#f06744"/>
<rect x="297.10" y="63.29" width="9.50" height="1.66" fill="#f36b43"/>
<rect x="297.10" y="64.90" width="9.50" height="1.66" fill="#f47044"/>
<rect x="297.10" y="66.51" width="9.50" height="1.66" fill="#f57547"/>
<rect x="297.10" y="68.12" width="9.50" height="1.66" fill="#f67a49"/>
<rect x="297.10" y="69.73" width="9.50" height="1.66" fill="#f67f4b"/>
<rect x="297.10" y="71.33" width="9.50" height="1.66" fill="#f7844e"/>
<rect x="297.10" y="72.94" width="9.50" height="1.66" fill="#f88950"/>
<rect x="297.10" y="74.55" width="9.50" height="1.66" fill="#f99153"/>
<rect x="297.10" y="76.16" width="9.50" height="1.66" fill="#fa9656"/>
<rect x="297.10" y="77.77" width="9.50" height="1.66" fill="#fa9b58"/>
<rect x="297.10" y="79.38" width="9.50" height="1.66" fill="#fba05b"/>
<rect x="297.10" y="80.98" width="9.50" height="1.66" fill="#fca55d"/>
<rect x="297.10" y="82.59" width="9.50" height="1.66" fill="#fcaa5f"/>
<rect x="297.10" y="84.20" width="9.50" height="1.66" fill="#fdaf62"/>
<rect x="297.10" y="85.81" width="9.50" height="1.66" fill="#fdb567"/>
<rect x="297.10" y="87.42" width="9.50" height="1.66" fill="#fdb96a"/>
<rect x="297.10" y="89.03" width="9.50" height="1.66" fill="#fdbd6d"/>
<rect x="297.10" y="90.63" width="9.50" height="1.66" fill="#fdc171"/>
<rect x="297.10" y="92.24" width="9.50" height="1.66" fill="#fdc574"/>
<rect x="297.10" y="93.85" width="9.50" height="1.66" fill="#fec877"/>
<rect x="297.10" y="95.46" width="9.50" height="1.66" fill="#fecc7b"/>
<rect x="297.10" y="97.07" width="9.50" height="1.66" fill="#fed07e"/>
<rect x="297.10" y="98.67" width="9.50" height="1.66" fill="#fed683"/>
<rect x="297.10" y="100.28" width="9.50" height="1.66" fill="#feda86"/>
<rect x="297.10" y="101.89" width="9.50" height="1.66" fill="#fede89"/>
<rect x="297.10" y="103.50" width="9.50" height="1.66" fill="#fee18d"/>
<rect x="297.10" y="105.11" width="9.50" height="1.66" fill="#fee491"/>
<rect x="297.10" y="106.72" width="9.50" height="1.66" fill="#fee695"/>
<rect x="297.10" y="108.33" width="9.50" height="1.66" fill="#fee999"/>
<rect x="297.10" y="109.93" width="9.50" height="1.66" fill="#feec9f"/>
<rect x="297.10" y="111.54" width="9.50" height="1.66" fill="#feefa3"/>
<rect x="297.10" y="113.15" width="9.50" height="1.66" fill="#fff1a8"/>
<rect x="297.10" y="114.76" width="9.50" height="1.66" fill="#fff3ac"/>
<rect x="297.10" y="116.37" width="9.50" height="1.66" fill="#fff6b0"/>
<rect x="297.10" y="117.97" width="9.50" height="1.66" fill="#fff8b4"/>
<rect x="297.10" y="119.58" width="9.50" height="1.66" fill="#fffbb8"/>
<rect x="297.10" y="121.19" width="9.50" height="1.66" fill="#fffdbc"/>
<rect x="297.10" y="122.80" width="9.50" height="1.66" fill="#fefebd"/>
<rect x="297.10" y="124.41" width="9.50" height="1.66" fill="#fcfeba"/>
<rect x="297.10" y="126.02" width="9.50" height="1.66" fill="#fafdb7"/>
<rect x="297.10" y="127.62" width="9.50" height="1.66" fill="#f8fcb4"/>
<rect x="297.10" y="129.23" width="9.50" height="1.66" fill="#f6fbb0"/>
<rect x="297.10" y="130.84" width="9.50" height="1.66" fill="#f4faad"/>
<rect x="297.10" y="132.45" width="9.50" height="1.66" fill="#f2faaa"/>
<rect x="297.10" y="134.06" width="9.50" height="1.66" fill="#eff9a6"/>
<rect x="297.10" y="135.67" width="9.50" height="1.66" fill="#edf8a3"/>
<rect x="297.10" y="137.28" width="9.50" height="1.66" fill="#ebf7a0"/>
<rect x="297.10" y="138.88" width="9.50" height="1.66" fill="#e9f69d"/>
<rect x="297.10" y="140.49" width="9.50" height="1.66" fill="#e7f59a"/>
<rect x="297.10" y="142.10" width="9.50" height="1.66" fill="#e4f498"/>
<rect x="297.10" y="143.71" width="9.50" height="1.66" fill="#dff299"/>
<rect x="297.10" y="145.32" width="9.50" height="1.66" fill="#daf09a"/>
<rect x="297.10" y="146.93" width="9.50" height="1.66" fill="#d3ed9c"/>
<rect x="297.10" y="148.53" width="9.50" height="1.66" fill="#cfec9d"/>
<rect x="297.10" y="150.14" width="9.50" height="1.66" fill="#caea9e"/>
<rect x="297.10" y="151.75" width="9.50" height="1.66" fill="#c6e89f"/>
<rect x="297.10" y="153.36" width="9.50" height="1.66" fill="#c1e6a0"/>
<rect x="297.10" y="154.97" width="9.50" height="1.66" fill="#bce4a0"/>
<rect x="297.10" y="156.58" width="9.50" height="1.66" fill="#b8e2a1"/>
<rect x="297.10" y="158.18" width="9.50" height="1.66" fill="#b1dfa3"/>
<rect x="297.10" y="159.79" width="9.50" height="1.66" fill="#acdda4"/>
<rect x="297.10" y="161.40" width="9.50" height="1.66" fill="#a7dba4"/>
<rect x="297.10" y="163.01" width="9.50" height="1.66" fill="#a2d9a4"/>
<rect x="297.10" y="164.62" width="9.50" height="1.66" fill="#9cd7a4"/>
<rect x="297.10" y="166.23" width="9.50" height="1.66" fill="#97d5a4"/>
<rect x="297.10" y="167.83" width="9.50" height="1.66" fill="#91d3a4"/>
<rect x="297.10" y="169.44" width="9.50" height="1.66" fill="#8cd1a4"/>
<rect x="297.10" y="171.05" width="9.50" height="1.66" fill="#84cea5"/>
<rect x="297.10" y="172.66" width="9.50" height="1.66" fill="#7ecca5"/>
<rect x="297.10" y="174.27" width="9.50" height="1.66" fill="#79c9a5"/>
<rect x="297.10" y="175.88" width="9.50" height="1.66" fill="#74c7a5"/>
<rect x="297.10" y="177.48" width="9.50" height="1.66" fill="#6ec5a5"/>
<rect x="297.10" y="179.09" width="9.50" height="1.66" fill="#69c3a5"/>
<rect x="297.10" y="180.70" width="9.50" height="1.66" fill="#64c0a6"/>
<rect x="297.10" y="182.31" width="9.50" height="1.66" fill="#5eb9a9"/>
<rect x="297.10" y="183.92" width="9.50" height="1.66" fill="#5ab4ab"/>
<rect x="297.10" y="185.53" width="9.50" height="1.66" fill="#56b0ad"/>
<rect x="297.10" y="187.13" width="9.50" height="1.66" fill="#52abae"/>
<rect x="297.10" y="188.74" width="9.50" height="1.66" fill="#4ea7b0"/>
<rect x="297.10" y="190.35" width="9.50" height="1.66" fill="#49a2b2"/>
<rect x="297.10" y="191.96" width="9.50" height="1.66" fill="#459eb4"/>
<rect x="297.10" y="193.57" width="9.50" height="1.66" fill="#4199b6"/>
<rect x="297.10" y="195.18" width="9.50" height="1.66" fill="#3b92b9"/>
<rect x="297.10" y="196.78" width="9.50" height="1.66" fill="#378ebb"/>
<rect x="297.10" y="198.39" width="9.50" height="1.66" fill="#3389bd"/>
<rect x="297.10" y="200.00" width="9.50" height="1.66" fill="#3585bb"/>
<rect x="297.10" y="201.61" width="9.50" height="1.66" fill="#3880b9"/>
<rect x="297.10" y="203.22" width="9.50" height="1.66" fill="#3b7cb7"/>
<rect x="297.10" y="204.83" width="9.50" height="1.66" fill="#3f77b5"/>
<rect x="297.10" y="206.43" width="9.50" height="1.66" fill="#4471b2"/>
<rect x="297.10" y="208.04" width="9.50" height="1.66" fill="#486cb0"/>
<rect x="297.10" y="209.65" width="9.50" height="1.66" fill="#4b68ae"/>
<rect x="297.10" y="211.26" width="9.50" height="1.66" fill="#4e63ac"/>
<rect x="297.10" y="212.87" width="9.50" height="1.66" fill="#525fa9"/>
<rect x="297.10" y="214.48" width="9.50" height="1.66" fill="#555aa7"/>
<rect x="297.10" y="216.08" width="9.50" height="1.66" fill="#5956a5"/>
<rect x="297.10" y="217.69" width="9.50" height="1.66" fill="#5c51a3"/>
<rect x="297.10" y="26.30" width="9.50" height="193.00" fill="none" stroke="#111" stroke-width="1"/>
<line x1="304.10" y1="199.66" x2="306.60" y2="199.66" stroke="#111" stroke-width="0.8"/>
<text x="309.70" y="203.06" font-size="9.40" text-anchor="start" fill="#111" >0.2</text>
<line x1="304.10" y1="176.28" x2="306.60" y2="176.28" stroke="#111" stroke-width="0.8"/>
<text x="309.70" y="179.68" font-size="9.40" text-anchor="start" fill="#111" >0.3</text>
<line x1="304.10" y1="152.90" x2="306.60" y2="152.90" stroke="#111" stroke-width="0.8"/>
<text x="309.70" y="156.30" font-size="9.40" text-anchor="start" fill="#111" >0.4</text>
<line x1="304.10" y1="129.52" x2="306.60" y2="129.52" stroke="#111" stroke-width="0.8"/>
<text x="309.70" y="132.92" font-size="9.40" text-anchor="start" fill="#111" >0.5</text>
<line x1="304.10" y1="106.14" x2="306.60" y2="106.14" stroke="#111" stroke-width="0.8"/>
<text x="309.70" y="109.54" font-size="9.40" text-anchor="start" fill="#111" >0.6</text>
<line x1="304.10" y1="82.76" x2="306.60" y2="82.76" stroke="#111" stroke-width="0.8"/>
<text x="309.70" y="86.16" font-size="9.40" text-anchor="start" fill="#111" >0.7</text>
<line x1="304.10" y1="59.38" x2="306.60" y2="59.38" stroke="#111" stroke-width="0.8"/>
<text x="309.70" y="62.78" font-size="9.40" text-anchor="start" fill="#111" >0.8</text>
<line x1="304.10" y1="36.00" x2="306.60" y2="36.00" stroke="#111" stroke-width="0.8"/>
<text x="309.70" y="39.40" font-size="9.40" text-anchor="start" fill="#111" >0.9</text>
<rect x="631.60" y="26.30" width="10.50" height="1.66" fill="#a00343"/>
<rect x="631.60" y="27.91" width="10.50" height="1.66" fill="#a40844"/>
<rect x="631.60" y="29.52" width="10.50" height="1.66" fill="#a90d45"/>
<rect x="631.60" y="31.12" width="10.50" height="1.66" fill="#ad1246"/>
<rect x="631.60" y="32.73" width="10.50" height="1.66" fill="#b11747"/>
<rect x="631.60" y="34.34" width="10.50" height="1.66" fill="#b61b48"/>
<rect x="631.60" y="35.95" width="10.50" height="1.66" fill="#ba2049"/>
<rect x="631.60" y="37.56" width="10.50" height="1.66" fill="#c1274a"/>
<rect x="631.60" y="39.17" width="10.50" height="1.66" fill="#c52c4b"/>
<rect x="631.60" y="40.78" width="10.50" height="1.66" fill="#c9314c"/>
<rect x="631.60" y="42.38" width="10.50" height="1.66" fill="#cd364d"/>
<rect x="631.60" y="43.99" width="10.50" height="1.66" fill="#d23a4e"/>
<rect x="631.60" y="45.60" width="10.50" height="1.66" fill="#d63f4f"/>
<rect x="631.60" y="47.21" width="10.50" height="1.66" fill="#d8434e"/>
<rect x="631.60" y="48.82" width="10.50" height="1.66" fill="#da464d"/>
<rect x="631.60" y="50.42" width="10.50" height="1.66" fill="#de4c4b"/>
<rect x="631.60" y="52.03" width="10.50" height="1.66" fill="#e1504b"/>
<rect x="631.60" y="53.64" width="10.50" height="1.66" fill="#e3534a"/>
<rect x="631.60" y="55.25" width="10.50" height="1.66" fill="#e55749"/>
<rect x="631.60" y="56.86" width="10.50" height="1.66" fill="#e85b48"/>
<rect x="631.60" y="58.47" width="10.50" height="1.66" fill="#ea5e47"/>
<rect x="631.60" y="60.08" width="10.50" height="1.66" fill="#ed6246"/>
<rect x="631.60" y="61.68" width="10.50" height="1.66" fill="#f06744"/>
<rect x="631.60" y="63.29" width="10.50" height="1.66" fill="#f36b43"/>
<rect x="631.60" y="64.90" width="10.50" height="1.66" fill="#f47044"/>
<rect x="631.60" y="66.51" width="10.50" height="1.66" fill="#f57547"/>
<rect x="631.60" y="68.12" width="10.50" height="1.66" fill="#f67a49"/>
<rect x="631.60" y="69.73" width="10.50" height="1.66" fill="#f67f4b"/>
<rect x="631.60" y="71.33" width="10.50" height="1.66" fill="#f7844e"/>
<rect x="631.60" y="72.94" width="10.50" height="1.66" fill="#f88950"/>
<rect x="631.60" y="74.55" width="10.50" height="1.66" fill="#f99153"/>
<rect x="631.60" y="76.16" width="10.50" height="1.66" fill="#fa9656"/>
<rect x="631.60" y="77.77" width="10.50" height="1.66" fill="#fa9b58"/>
<rect x="631.60" y="79.38" width="10.50" height="1.66" fill="#fba05b"/>
<rect x="631.60" y="80.98" width="10.50" height="1.66" fill="#fca55d"/>
<rect x="631.60" y="82.59" width="10.50" height="1.66" fill="#fcaa5f"/>
<rect x="631.60" y="84.20" width="10.50" height="1.66" fill="#fdaf62"/>
<rect x="631.60" y="85.81" width="10.50" height="1.66" fill="#fdb567"/>
<rect x="631.60" y="87.42" width="10.50" height="1.66" fill="#fdb96a"/>
<rect x="631.60" y="89.03" width="10.50" height="1.66" fill="#fdbd6d"/>
<rect x="631.60" y="90.63" width="10.50" height="1.66" fill="#fdc171"/>
<rect x="631.60" y="92.24" width="10.50" height="1.66" fill="#fdc574"/>
<rect x="631.60" y="93.85" width="10.50" height="1.66" fill="#fec877"/>
<rect x="631.60" y="95.46" width="10.50" height="1.66" fill="#fecc7b"/>
<rect x="631.60" y="97.07" width="10.50" height="1.66" fill="#fed07e"/>
<rect x="631.60" y="98.67" width="10.50" height="1.66" fill="#fed683"/>
<rect x="631.60" y="100.28" width="10.50" height="1.66" fill="#feda86"/>
<rect x="631.60" y="101.89" width="10.50" height="1.66" fill="#fede89"/>
<rect x="631.60" y="103.50" width="10.50" height="1.66" fill="#fee18d"/>
<rect x="631.60" y="105.11" width="10.50" height="1.66" fill="#fee491"/>
<rect x="631.60" y="106.72" width="10.50" height="1.66" fill="#fee695"/>
<rect x="631.60" y="108.33" width="10.50" height="1.66" fill="#fee999"/>
<rect x="631.60" y="109.93" width="10.50" height="1.66" fill="#feec9f"/>
<rect x="631.60" y="111.54" width="10.50" height="1.66" fill="#feefa3"/>
<rect x="631.60" y="113.15" width="10.50" height="1.66" fill="#fff1a8"/>
<rect x="631.60" y="114.76" width="10.50" height="1.66" fill="#fff3ac"/>
<rect x="631.60" y="116.37" width="10.50" height="1.66" fill="#fff6b0"/>
<rect x="631.60" y="117.97" width="10.50" height="1.66" fill="#fff8b4"/>
<rect x="631.60" y="119.58" width="10.50" height="1.66" fill="#fffbb8"/>
<rect x="631.60" y="121.19" width="10.50" height="1.66" fill="#fffdbc"/>
<rect x="631.60" y="122.80" width="10.50" height="1.66" fill="#fefebd"/>
<rect x="631.60" y="124.41" width="10.50" height="1.66" fill="#fcfeba"/>
<rect x="631.60" y="126.02" width="10.50" height="1.66" fill="#fafdb7"/>
<rect x="631.60" y="127.62" width="10.50" height="1.66" fill="#f8fcb4"/>
<rect x="631.60" y="129.23" width="10.50" height="1.66" fill="#f6fbb0"/>
<rect x="631.60" y="130.84" width="10.50" height="1.66" fill="#f4faad"/>
<rect x="631.60" y="132.45" width="10.50" height="1.66" fill="#f2faaa"/>
<rect x="631.60" y="134.06" width="10.50" height="1.66" fill="#eff9a6"/>
<rect x="631.60" y="135.67" width="10.50" height="1.66" fill="#edf8a3"/>
<rect x="631.60" y="137.28" width="10.50" height="1.66" fill="#ebf7a0"/>
<rect x="631.60" y="138.88" width="10.50" height="1.66" fill="#e9f69d"/>
<rect x="631.60" y="140.49" width="10.50" height="1.66" fill="#e7f59a"/>
<rect x="631.60" y="142.10" width="10.50" height="1.66" fill="#e4f498"/>
<rect x="631.60" y="143.71" width="10.50" height="1.66" fill="#dff299"/>
<rect x="631.60" y="145.32" width="10.50" height="1.66" fill="#daf09a"/>
<rect x="631.60" y="146.93" width="10.50" height="1.66" fill="#d3ed9c"/>
<rect x="631.60" y="148.53" width="10.50" height="1.66" fill="#cfec9d"/>
<rect x="631.60" y="150.14" width="10.50" height="1.66" fill="#caea9e"/>
<rect x="631.60" y="151.75" width="10.50" height="1.66" fill="#c6e89f"/>
<rect x="631.60" y="153.36" width="10.50" height="1.66" fill="#c1e6a0"/>
<rect x="631.60" y="154.97" width="10.50" height="1.66" fill="#bce4a0"/>
<rect x="631.60" y="156.58" width="10.50" height="1.66" fill="#b8e2a1"/>
<rect x="631.60" y="158.18" width="10.50" height="1.66" fill="#b1dfa3"/>
<rect x="631.60" y="159.79" width="10.50" height="1.66" fill="#acdda4"/>
<rect x="631.60" y="161.40" width="10.50" height="1.66" fill="#a7dba4"/>
<rect x="631.60" y="163.01" width="10.50" height="1.66" fill="#a2d9a4"/>
<rect x="631.60" y="164.62" width="10.50" height="1.66" fill="#9cd7a4"/>
<rect x="631.60" y="166.23" width="10.50" height="1.66" fill="#97d5a4"/>
<rect x="631.60" y="167.83" width="10.50" height="1.66" fill="#91d3a4"/>
<rect x="631.60" y="169.44" width="10.50" height="1.66" fill="#8cd1a4"/>
<rect x="631.60" y="171.05" width="10.50" height="1.66" fill="#84cea5"/>
<rect x="631.60" y="172.66" width="10.50" height="1.66" fill="#7ecca5"/>
<rect x="631.60" y="174.27" width="10.50" height="1.66" fill="#79c9a5"/>
<rect x="631.60" y="175.88" width="10.50" height="1.66" fill="#74c7a5"/>
<rect x="631.60" y="177.48" width="10.50" height="1.66" fill="#6ec5a5"/>
<rect x="631.60" y="179.09" width="10.50" height="1.66" fill="#69c3a5"/>
<rect x="631.60" y="180.70" width="10.50" height="1.66" fill="#64c0a6"/>
<rect x="631.60" y="182.31" width="10.50" height="1.66" fill="#5eb9a9"/>
<rect x="631.60" y="183.92" width="10.50" height="1.66" fill="#5ab4ab"/>
<rect x="631.60" y="185.53" width="10.50" height="1.66" fill="#56b0ad"/>
<rect x="631.60" y="187.13" width="10.50" height="1.66" fill="#52abae"/>
<rect x="631.60" y="188.74" width="10.50" height="1.66" fill="#4ea7b0"/>
<rect x="631.60" y="190.35" width="10.50" height="1.66" fill="#49a2b2"/>
<rect x="631.60" y="191.96" width="10.50" height="1.66" fill="#459eb4"/>
<rect x="631.60" y="193.57" width="10.50" height="1.66" fill="#4199b6"/>
<rect x="631.60" y="195.18" width="10.50" height="1.66" fill="#3b92b9"/>
<rect x="631.60" y="196.78" width="10.50" height="1.66" fill="#378ebb"/>
<rect x="631.60" y="198.39" width="10.50" height="1.66" fill="#3389bd"/>
<rect x="631.60" y="200.00" width="10.50" height="1.66" fill="#3585bb"/>
<rect x="631.60" y="201.61" width="10.50" height="1.66" fill="#3880b9"/>
<rect x="631.60" y="203.22" width="10.50" height="1.66" fill="#3b7cb7"/>
<rect x="631.60" y="204.83" width="10.50" height="1.66" fill="#3f77b5"/>
<rect x="631.60" y="206.43" width="10.50" height="1.66" fill="#4471b2"/>
<rect x="631.60" y="208.04" width="10.50" height="1.66" fill="#486cb0"/>
<rect x="631.60" y="209.65" width="10.50" height="1.66" fill="#4b68ae"/>
<rect x="631.60" y="211.26" width="10.50" height="1.66" fill="#4e63ac"/>
<rect x="631.60" y="212.87" width="10.50" height="1.66" fill="#525fa9"/>
<rect x="631.60" y="214.48" width="10.50" height="1.66" fill="#555aa7"/>
<rect x="631.60" y="216.08" width="10.50" height="1.66" fill="#5956a5"/>
<rect x="631.60" y="217.69" width="10.50" height="1.66" fill="#5c51a3"/>
<rect x="631.60" y="26.30" width="10.50" height="193.00" fill="none" stroke="#111" stroke-width="1"/>
<line x1="639.60" y1="194.51" x2="642.10" y2="194.51" stroke="#111" stroke-width="0.8"/>
<text x="644.60" y="197.91" font-size="9.40" text-anchor="start" fill="#111" >0.3</text>
<line x1="639.60" y1="170.20" x2="642.10" y2="170.20" stroke="#111" stroke-width="0.8"/>
<text x="644.60" y="173.60" font-size="9.40" text-anchor="start" fill="#111" >0.4</text>
<line x1="639.60" y1="145.89" x2="642.10" y2="145.89" stroke="#111" stroke-width="0.8"/>
<text x="644.60" y="149.29" font-size="9.40" text-anchor="start" fill="#111" >0.5</text>
<line x1="639.60" y1="121.58" x2="642.10" y2="121.58" stroke="#111" stroke-width="0.8"/>
<text x="644.60" y="124.98" font-size="9.40" text-anchor="start" fill="#111" >0.6</text>
<line x1="639.60" y1="97.28" x2="642.10" y2="97.28" stroke="#111" stroke-width="0.8"/>
<text x="644.60" y="100.68" font-size="9.40" text-anchor="start" fill="#111" >0.7</text>
<line x1="639.60" y1="72.97" x2="642.10" y2="72.97" stroke="#111" stroke-width="0.8"/>
<text x="644.60" y="76.37" font-size="9.40" text-anchor="start" fill="#111" >0.8</text>
<line x1="639.60" y1="48.66" x2="642.10" y2="48.66" stroke="#111" stroke-width="0.8"/>
<text x="644.60" y="52.06" font-size="9.40" text-anchor="start" fill="#111" >0.9</text>
<text x="0.30" y="13.50" font-size="14.40" text-anchor="start" fill="#111" >(a)</text>
<text x="33.50" y="7.20" font-size="8.60" text-anchor="start" fill="#111" >exp. config.</text>
<line x1="79.8" y1="6.8" x2="86" y2="10.3" stroke="#111" stroke-width="0.9"/><polygon points="88.4,11.6 84.6,11.6 86.4,8.6" fill="#111"/>
<text x="107.9" y="10.3" font-size="11.1" fill="#111">inter-trimer gap</text>
<text x="185.6" y="10.3" font-size="11.6" font-family="Liberation Serif, serif" font-style="italic" fill="#111">G</text>
<text x="194.6" y="12.4" font-size="7" font-family="Liberation Serif, serif" fill="#111">2</text>
<text x="204.2" y="10.3" font-size="11.3" fill="#111">(nm)</text>
<text x="58.70" y="21.60" font-size="9.40" text-anchor="middle" fill="#111" >75</text>
<text x="89.60" y="21.60" font-size="9.40" text-anchor="middle" fill="#111" >175</text>
<text x="120.50" y="21.60" font-size="9.40" text-anchor="middle" fill="#111" >275</text>
<text x="151.40" y="21.60" font-size="9.40" text-anchor="middle" fill="#111" >375</text>
<text x="182.30" y="21.60" font-size="9.40" text-anchor="middle" fill="#111" >475</text>
<text x="213.20" y="21.60" font-size="9.40" text-anchor="middle" fill="#111" >575</text>
<text x="244.10" y="21.60" font-size="9.40" text-anchor="middle" fill="#111" >675</text>
<text x="275.00" y="21.60" font-size="9.40" text-anchor="middle" fill="#111" >775</text>
<text x="48.20" y="30.90" font-size="9.40" text-anchor="end" fill="#111" >2400</text>
<text x="48.20" y="54.70" font-size="9.40" text-anchor="end" fill="#111" >2300</text>
<text x="48.20" y="78.50" font-size="9.40" text-anchor="end" fill="#111" >2200</text>
<text x="48.20" y="102.30" font-size="9.40" text-anchor="end" fill="#111" >2100</text>
<text x="48.20" y="126.10" font-size="9.40" text-anchor="end" fill="#111" >2000</text>
<text x="48.20" y="149.90" font-size="9.40" text-anchor="end" fill="#111" >1900</text>
<text x="48.20" y="173.70" font-size="9.40" text-anchor="end" fill="#111" >1800</text>
<text x="48.20" y="197.50" font-size="9.40" text-anchor="end" fill="#111" >1700</text>
<text x="48.20" y="221.30" font-size="9.40" text-anchor="end" fill="#111" >1600</text>
<text x="58.70" y="229.80" font-size="9.40" text-anchor="middle" fill="#111" >1000</text>
<text x="89.60" y="229.80" font-size="9.40" text-anchor="middle" fill="#111" >1100</text>
<text x="120.50" y="229.80" font-size="9.40" text-anchor="middle" fill="#111" >1200</text>
<text x="151.40" y="229.80" font-size="9.40" text-anchor="middle" fill="#111" >1300</text>
<text x="182.30" y="229.80" font-size="9.40" text-anchor="middle" fill="#111" >1400</text>
<text x="213.20" y="229.80" font-size="9.40" text-anchor="middle" fill="#111" >1500</text>
<text x="244.10" y="229.80" font-size="9.40" text-anchor="middle" fill="#111" >1600</text>
<text x="275.00" y="229.80" font-size="9.40" text-anchor="middle" fill="#111" >1700</text>
<text x="167.40" y="244.20" font-size="11.30" text-anchor="middle" fill="#111" >pitch (nm)</text>
<text x="0" y="0" font-size="11.2" text-anchor="middle" fill="#111" transform="translate(21.7,122.8) rotate(-90)">wavelength (nm)</text>
<text x="336.60" y="14.20" font-size="14.80" text-anchor="start" fill="#111" >(b)</text>
<text x="485.30" y="14.40" font-size="8.60" text-anchor="start" fill="#111" >exp. config.</text>
<line x1="501.8" y1="16.7" x2="501.8" y2="20" stroke="#111" stroke-width="0.9"/><polygon points="499.9,19.5 503.7,19.5 501.8,23" fill="#111"/>
<text x="382.50" y="31.60" font-size="9.40" text-anchor="end" fill="#111" >2100</text>
<text x="382.50" y="69.40" font-size="9.40" text-anchor="end" fill="#111" >2000</text>
<text x="382.50" y="107.20" font-size="9.40" text-anchor="end" fill="#111" >1900</text>
<text x="382.50" y="145.00" font-size="9.40" text-anchor="end" fill="#111" >1800</text>
<text x="382.50" y="182.80" font-size="9.40" text-anchor="end" fill="#111" >1700</text>
<text x="382.50" y="220.60" font-size="9.40" text-anchor="end" fill="#111" >1600</text>
<text x="417.70" y="229.80" font-size="9.40" text-anchor="middle" fill="#111" >25</text>
<text x="459.77" y="229.80" font-size="9.40" text-anchor="middle" fill="#111" >50</text>
<text x="501.85" y="229.80" font-size="9.40" text-anchor="middle" fill="#111" >75</text>
<text x="543.92" y="229.80" font-size="9.40" text-anchor="middle" fill="#111" >100</text>
<text x="586.00" y="229.80" font-size="9.40" text-anchor="middle" fill="#111" >125</text>
<text x="442.1" y="244.2" font-size="11.1" fill="#111">intra-trimer gap</text>
<text x="520.9" y="244.2" font-size="11.6" font-family="Liberation Serif, serif" font-style="italic" fill="#111">G</text>
<text x="530.6" y="246.3" font-size="7" font-family="Liberation Serif, serif" fill="#111">1</text>
<text x="539.5" y="244.2" font-size="11.3" fill="#111">(nm)</text>
<text x="0" y="0" font-size="11.2" text-anchor="middle" fill="#111" transform="translate(356,122.8) rotate(-90)">wavelength (nm)</text>
<text x="0.00" y="272.00" font-size="13.50" text-anchor="start" fill="#111" >(c)</text>
<rect x="36.6" y="275.8" width="86.6" height="86.3" fill="none" stroke="#111" stroke-width="1.7" stroke-dasharray="5,2.2"/>
<circle cx="79.7" cy="300.2" r="15.9" fill="#d9b300"/>
<circle cx="57.2" cy="337.5" r="15.9" fill="#d9b300"/>
<circle cx="102.4" cy="337.5" r="15.9" fill="#d9b300"/>
<line x1="64.2" y1="300.3" x2="92.60" y2="300.30" stroke="#111" stroke-width="1.6"/>
<polygon points="97.10,300.30 91.60,303.10 91.60,297.50" fill="#111"/>
<line x1="57.6" y1="329.2" x2="55.22" y2="343.96" stroke="#111" stroke-width="1.6"/>
<polygon points="54.50,348.40 52.61,342.52 58.14,343.42" fill="#111"/>
<line x1="103.2" y1="349.0" x2="101.11" y2="333.66" stroke="#111" stroke-width="1.6"/>
<polygon points="100.50,329.20 104.02,334.27 98.47,335.03" fill="#111"/>
<rect x="151.1" y="275.8" width="86.6" height="86.3" fill="none" stroke="#111" stroke-width="1.7" stroke-dasharray="5.6,6.5"/>
<circle cx="194.2" cy="300.3" r="15.9" fill="#d9b300"/>
<circle cx="172.1" cy="337.6" r="15.9" fill="#d9b300"/>
<circle cx="216.8" cy="337.6" r="15.9" fill="#d9b300"/>
<line x1="180.8" y1="301.5" x2="203.40" y2="301.50" stroke="#111" stroke-width="1.6"/>
<polygon points="207.90,301.50 202.40,304.30 202.40,298.70" fill="#111"/>
<line x1="175.0" y1="347.1" x2="168.77" y2="331.58" stroke="#111" stroke-width="1.6"/>
<polygon points="167.10,327.40 171.75,331.46 166.55,333.55" fill="#111"/>
<line x1="219.7" y1="328.4" x2="214.35" y2="344.14" stroke="#111" stroke-width="1.6"/>
<polygon points="212.90,348.40 212.02,342.29 217.32,344.09" fill="#111"/>
<text x="78.30" y="377.00" font-size="9.50" text-anchor="middle" fill="#111" >Electric Fano Mode</text>
<text x="192.20" y="377.00" font-size="9.50" text-anchor="middle" fill="#111" >Magnetic Fano Mode</text>
</svg></body></html>
